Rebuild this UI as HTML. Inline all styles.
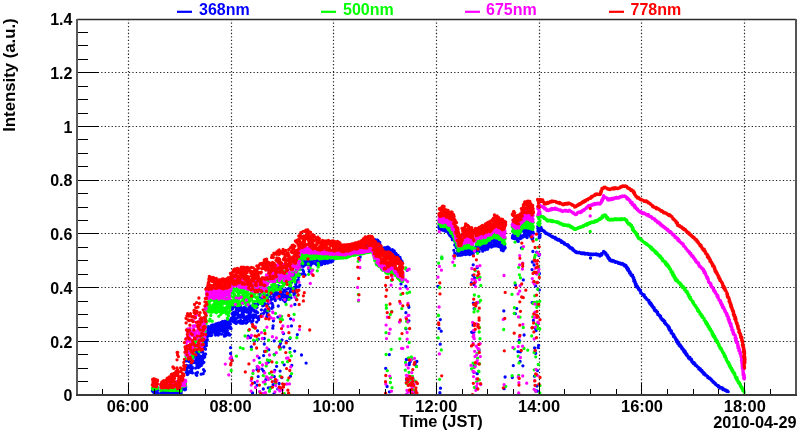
<!DOCTYPE html>
<html><head><meta charset="utf-8"><title>Intensity</title>
<style>html,body{margin:0;padding:0;background:#fff;width:800px;height:434px;overflow:hidden}svg{display:block}</style>
</head><body>
<svg width="800" height="434" viewBox="0 0 800 434">
<rect width="800" height="434" fill="#fff"/>
<path d="M128.5 19V395M231.5 19V395M333.5 19V395M436.5 19V395M539.5 19V395M641.5 19V395M744.5 19V395M77 341.5H796M77 287.5H796M77 233.5H796M77 180.5H796M77 126.5H796M77 72.5H796" stroke="#262626" stroke-width="1.2" stroke-dasharray="1.3 2.16" fill="none"/>
<clipPath id="c"><rect x="78" y="20" width="717" height="374"/></clipPath>
<g fill="none" stroke-width="3.3" stroke-linecap="round" clip-path="url(#c)">
<path stroke="#0000ff" d="M152.5 390.0h0M152.7 391.0h0M152.4 390.7h0M153.0 390.6h0M152.8 391.5h0M153.0 390.6h0M153.5 391.2h0M153.7 390.3h0M153.7 391.4h0M154.0 390.5h0M154.1 390.7h0M153.9 390.1h0M154.4 393.4h0M154.7 392.6h0M154.3 393.3h0M155.2 392.7h0M154.8 390.3h0M155.0 393.1h0M155.5 392.6h0M155.4 391.8h0M155.6 392.9h0M156.2 390.8h0M156.2 390.8h0M156.2 391.9h0M156.3 392.1h0M156.5 393.4h0M156.3 390.6h0M157.2 392.9h0M156.8 390.8h0M157.0 390.5h0M157.4 390.2h0M157.6 390.3h0M157.7 393.2h0M161.1 393.1h0M160.9 392.9h0M161.1 390.6h0M161.5 390.6h0M161.4 392.9h0M161.3 392.2h0M161.8 390.8h0M162.2 390.8h0M161.8 393.3h0M162.4 391.1h0M162.3 392.0h0M162.3 391.2h0M162.9 392.7h0M162.8 392.3h0M162.9 393.5h0M163.7 393.3h0M163.7 392.2h0M163.7 392.4h0M163.8 392.7h0M164.2 390.5h0M163.8 392.9h0M164.6 392.2h0M164.3 391.3h0M164.4 393.4h0M164.9 391.6h0M165.1 392.5h0M165.0 392.5h0M165.7 393.2h0M165.3 390.6h0M165.7 393.2h0M165.9 391.7h0M166.1 391.8h0M165.8 391.2h0M166.4 392.2h0M166.3 392.7h0M166.7 391.7h0M167.0 392.4h0M167.1 392.4h0M167.0 392.7h0M167.3 393.3h0M167.7 392.6h0M167.4 392.4h0M167.8 391.7h0M167.9 392.2h0M167.9 390.8h0M168.6 391.3h0M168.5 390.5h0M168.5 392.9h0M169.1 391.5h0M168.8 392.3h0M168.9 391.4h0M169.4 391.7h0M169.6 391.7h0M169.6 392.7h0M170.2 392.2h0M170.2 392.0h0M170.0 392.5h0M170.7 392.6h0M170.7 391.0h0M170.5 392.6h0M171.1 393.0h0M170.9 391.4h0M171.0 391.7h0M171.3 391.7h0M171.6 392.7h0M171.4 392.4h0M172.1 391.0h0M171.8 391.0h0M172.1 393.2h0M172.4 391.4h0M172.6 391.4h0M172.3 391.2h0M173.1 391.9h0M172.9 391.7h0M172.8 392.8h0M173.4 392.6h0M173.5 393.2h0M173.6 390.9h0M174.0 390.5h0M174.1 391.2h0M174.2 391.2h0M174.5 392.0h0M174.7 392.3h0M174.7 391.5h0M174.8 391.1h0M174.8 392.6h0M175.1 392.8h0M175.6 390.9h0M175.3 392.5h0M175.3 391.5h0M176.0 392.5h0M176.1 393.3h0M176.2 391.4h0M176.4 390.6h0M176.3 391.8h0M176.6 391.2h0M176.8 392.6h0M177.1 392.0h0M176.8 391.1h0M177.4 393.1h0M177.7 390.6h0M177.7 393.2h0M178.1 391.2h0M178.2 392.9h0M177.8 390.6h0M178.4 392.2h0M178.3 393.4h0M178.6 392.1h0M179.0 390.8h0M179.1 392.7h0M178.8 392.9h0M179.4 393.3h0M179.4 391.1h0M179.3 391.5h0M179.8 391.0h0M180.0 392.2h0M180.0 390.9h0M180.3 390.9h0M180.7 390.9h0M180.6 392.2h0M181.1 393.3h0M180.9 392.6h0M181.0 391.6h0M181.5 389.0h0M181.3 391.5h0M181.6 388.8h0M182.2 386.7h0M182.1 388.3h0M182.1 387.6h0M182.7 388.9h0M182.5 386.5h0M182.4 386.5h0M183.0 389.2h0M183.1 388.5h0M183.0 387.1h0M183.7 388.7h0M183.6 388.2h0M183.6 388.4h0M183.9 387.5h0M183.9 387.2h0M184.2 388.8h0M184.6 387.8h0M184.5 386.4h0M184.5 388.4h0M184.9 388.0h0M185.2 389.7h0M184.8 389.8h0M185.6 389.2h0M185.7 386.8h0M185.3 388.6h0M186.0 360.5h0M185.9 360.9h0M186.2 372.3h0M186.6 365.4h0M186.5 369.7h0M186.7 369.3h0M187.2 367.1h0M187.2 367.1h0M187.0 371.4h0M187.5 371.9h0M187.4 374.5h0M187.6 358.9h0M188.1 360.8h0M187.8 357.6h0M188.0 374.0h0M188.4 365.9h0M188.5 358.4h0M188.6 361.1h0M188.8 372.0h0M189.1 355.9h0M189.0 361.4h0M189.6 361.3h0M189.6 355.9h0M189.7 367.9h0M189.9 371.4h0M190.1 361.3h0M189.8 367.8h0M190.5 372.3h0M190.3 371.6h0M190.7 359.1h0M190.9 367.3h0M190.9 364.7h0M191.0 362.9h0M191.3 360.7h0M191.7 371.0h0M191.3 368.9h0M192.2 367.2h0M192.2 366.8h0M192.0 363.0h0M192.5 368.2h0M192.7 358.0h0M192.4 372.9h0M193.1 361.2h0M193.0 356.3h0M192.8 355.8h0M193.7 353.0h0M193.4 357.2h0M193.6 351.6h0M193.8 349.1h0M194.0 353.5h0M193.8 351.9h0M194.4 362.4h0M194.6 345.5h0M194.7 347.6h0M194.9 355.1h0M194.8 347.6h0M195.1 361.4h0M195.6 368.1h0M195.7 352.2h0M195.6 360.7h0M195.9 363.1h0M196.2 359.1h0M196.1 351.7h0M196.7 352.8h0M196.4 358.4h0M196.6 356.1h0M197.2 362.9h0M197.0 365.9h0M197.0 354.2h0M197.7 352.4h0M197.3 365.2h0M197.6 352.6h0M198.2 361.0h0M198.0 357.5h0M198.2 357.7h0M198.3 355.3h0M198.4 367.5h0M198.5 354.4h0M199.1 362.9h0M198.8 360.9h0M199.2 358.6h0M199.4 366.8h0M199.3 356.5h0M199.3 358.0h0M200.0 365.6h0M199.8 355.9h0M199.9 347.5h0M200.7 360.1h0M200.4 357.4h0M200.5 346.4h0M200.9 345.8h0M200.8 364.7h0M201.1 351.9h0M201.3 365.4h0M201.3 350.7h0M201.7 358.3h0M202.0 363.0h0M202.2 358.3h0M202.2 346.6h0M202.5 360.8h0M202.7 356.0h0M202.6 351.7h0M203.1 358.3h0M203.2 357.1h0M202.8 363.2h0M203.5 345.8h0M203.7 354.3h0M203.3 347.4h0M203.9 362.3h0M204.2 341.3h0M204.1 348.2h0M204.5 355.9h0M204.4 345.2h0M204.7 357.0h0M205.2 353.8h0M205.2 354.1h0M205.1 343.0h0M205.6 354.1h0M205.5 349.2h0M205.3 343.6h0M206.0 345.5h0M206.0 335.4h0M206.2 340.4h0M206.3 343.5h0M206.4 345.6h0M206.3 342.0h0M207.1 337.2h0M206.8 333.6h0M207.0 330.1h0M207.3 334.3h0M207.4 339.8h0M207.4 331.1h0M208.1 327.3h0M207.8 326.8h0M208.2 335.4h0M208.3 328.8h0M208.6 326.6h0M208.3 327.9h0M209.1 328.3h0M209.1 327.5h0M209.1 332.6h0M209.6 327.4h0M209.5 328.2h0M209.4 329.0h0M210.2 327.4h0M209.9 333.5h0M209.8 333.5h0M210.7 331.8h0M210.7 330.0h0M210.6 335.7h0M211.0 329.9h0M211.2 332.5h0M211.0 329.3h0M211.6 335.3h0M211.5 329.9h0M211.5 325.3h0M212.2 332.6h0M212.1 332.3h0M212.2 329.4h0M212.5 327.1h0M212.5 331.7h0M212.5 326.7h0M212.9 324.8h0M213.0 330.7h0M212.9 331.8h0M213.4 329.4h0M213.4 330.1h0M213.4 326.6h0M214.0 331.2h0M214.0 326.5h0M214.0 331.9h0M214.4 325.1h0M214.7 327.7h0M214.5 329.4h0M215.0 327.2h0M214.8 331.7h0M215.1 334.4h0M215.5 333.4h0M215.5 335.0h0M215.3 326.9h0M216.1 328.2h0M216.0 333.7h0M215.9 324.0h0M216.3 330.4h0M216.7 325.9h0M216.5 328.1h0M217.0 332.9h0M217.2 330.0h0M217.0 334.0h0M217.5 326.5h0M217.5 331.0h0M217.4 332.0h0M217.9 323.4h0M218.1 333.8h0M218.2 335.0h0M218.3 335.0h0M218.7 333.9h0M218.3 331.1h0M218.8 334.1h0M218.9 323.1h0M219.0 331.4h0M219.5 327.7h0M219.3 331.8h0M219.3 329.9h0M219.8 328.2h0M220.0 325.4h0M220.1 325.5h0M220.7 327.4h0M220.6 328.2h0M220.4 323.2h0M221.1 322.5h0M221.0 327.5h0M220.9 325.3h0M221.5 334.2h0M221.6 326.0h0M221.5 330.6h0M222.1 330.6h0M221.8 323.6h0M222.1 325.3h0M222.5 322.2h0M222.5 325.6h0M222.3 321.7h0M222.9 329.0h0M223.1 321.8h0M223.0 326.3h0M223.6 331.7h0M223.3 324.9h0M223.7 331.2h0M223.8 329.3h0M223.9 323.4h0M224.0 329.1h0M224.6 334.6h0M224.4 336.2h0M224.4 330.9h0M224.9 327.8h0M225.1 332.4h0M224.8 321.1h0M225.4 325.7h0M225.5 335.7h0M225.4 324.3h0M226.0 325.9h0M226.0 329.0h0M225.8 332.7h0M226.6 332.7h0M226.5 323.3h0M226.6 334.7h0M227.2 332.2h0M226.8 325.1h0M227.1 320.9h0M227.4 326.6h0M227.6 320.6h0M227.4 330.8h0M227.8 325.2h0M228.1 327.9h0M228.1 324.2h0M228.6 322.4h0M228.6 333.4h0M228.3 324.5h0M228.9 334.9h0M228.8 326.6h0M229.2 321.0h0M229.7 320.3h0M229.5 327.1h0M229.6 324.1h0M230.0 334.6h0M229.8 335.1h0M229.8 321.9h0M230.4 328.4h0M230.4 327.1h0M230.3 324.0h0M230.8 320.3h0M231.1 328.6h0M231.0 318.5h0M232.1 307.9h0M232.1 313.7h0M232.2 307.9h0M232.4 306.7h0M232.7 317.6h0M232.4 309.0h0M233.2 312.6h0M232.8 314.8h0M232.9 321.4h0M233.3 320.3h0M233.7 306.9h0M233.6 319.6h0M234.1 322.2h0M234.0 318.0h0M234.0 314.1h0M234.3 315.9h0M234.5 312.2h0M234.6 322.5h0M235.0 312.7h0M235.0 319.6h0M234.9 321.2h0M235.6 318.8h0M235.5 306.7h0M235.6 321.9h0M236.1 321.4h0M235.8 314.0h0M236.1 323.4h0M236.3 309.2h0M236.4 310.1h0M236.6 313.1h0M237.2 318.1h0M237.1 322.4h0M237.2 305.8h0M237.5 317.5h0M237.6 322.3h0M237.4 314.6h0M238.2 308.6h0M237.8 313.1h0M237.8 305.7h0M238.4 317.1h0M238.6 321.3h0M238.4 310.3h0M239.2 306.0h0M239.0 307.5h0M239.1 307.1h0M239.7 310.4h0M239.7 316.8h0M239.6 308.7h0M240.1 317.2h0M240.0 315.3h0M240.0 320.8h0M240.7 320.3h0M240.5 306.6h0M240.6 323.2h0M240.9 307.2h0M240.8 306.3h0M241.0 308.4h0M241.7 321.5h0M241.7 314.7h0M241.5 317.2h0M242.0 315.2h0M241.8 314.9h0M242.0 308.6h0M242.3 312.7h0M242.7 323.3h0M242.6 310.6h0M242.9 321.9h0M242.9 315.7h0M243.1 309.7h0M243.7 309.0h0M243.7 317.6h0M243.5 315.2h0M244.2 320.4h0M243.8 310.2h0M243.8 312.2h0M244.6 311.5h0M244.5 307.2h0M244.4 310.4h0M244.9 317.5h0M245.1 309.9h0M245.2 310.7h0M245.7 317.5h0M245.5 318.7h0M245.6 308.3h0M246.2 310.7h0M245.8 323.2h0M246.2 316.9h0M246.3 304.5h0M246.6 317.6h0M246.7 322.7h0M247.1 320.0h0M246.9 312.2h0M247.1 310.3h0M247.6 321.6h0M247.5 321.7h0M247.6 309.5h0M247.8 310.7h0M248.0 315.8h0M247.8 317.9h0M248.4 312.1h0M248.3 318.5h0M248.4 308.6h0M249.2 311.2h0M249.2 305.8h0M249.0 317.4h0M249.6 313.9h0M249.3 315.5h0M249.7 310.6h0M250.0 318.0h0M249.9 317.7h0M250.0 308.1h0M250.5 306.1h0M250.3 313.5h0M250.4 320.9h0M250.8 311.9h0M251.1 316.4h0M251.1 316.5h0M251.2 309.5h0M251.0 306.5h0M251.6 315.6h0M251.7 306.8h0M252.0 309.5h0M252.0 323.1h0M252.4 306.3h0M252.5 309.2h0M253.1 318.1h0M252.9 320.7h0M253.4 303.9h0M253.3 314.9h0M254.1 317.6h0M253.8 310.5h0M254.7 315.4h0M254.6 304.9h0M255.2 304.8h0M254.8 311.7h0M255.6 314.8h0M255.5 304.6h0M256.0 310.8h0M255.8 306.0h0M256.4 316.4h0M256.7 322.1h0M257.0 307.3h0M257.2 317.7h0M257.7 304.6h0M257.7 312.6h0M258.1 303.6h0M258.2 301.5h0M258.6 319.8h0M258.7 302.6h0M259.2 317.3h0M259.2 316.3h0M259.7 301.6h0M259.4 302.1h0M260.0 300.1h0M260.2 316.2h0M260.4 301.5h0M260.3 300.3h0M260.9 302.4h0M261.1 296.1h0M261.5 314.2h0M261.4 309.8h0M261.9 315.9h0M262.0 302.7h0M262.7 305.8h0M262.4 297.6h0M262.8 300.2h0M262.8 314.3h0M263.7 313.2h0M263.5 300.8h0M263.9 294.7h0M263.9 299.1h0M264.5 295.5h0M264.5 303.4h0M264.8 305.0h0M265.2 309.6h0M265.5 296.1h0M265.6 295.9h0M266.2 296.5h0M265.8 309.3h0M266.4 296.2h0M266.6 298.8h0M266.9 311.9h0M267.2 313.8h0M267.5 297.9h0M267.5 298.7h0M268.2 294.7h0M268.2 307.7h0M268.4 307.1h0M268.6 307.5h0M269.0 291.1h0M269.0 310.9h0M269.7 295.0h0M269.6 288.0h0M270.1 301.0h0M269.9 293.5h0M270.3 292.4h0M270.5 296.8h0M270.8 302.8h0M270.8 290.6h0M271.4 290.2h0M271.7 308.4h0M272.0 293.6h0M272.2 303.4h0M272.6 306.7h0M272.3 299.1h0M272.9 307.2h0M272.8 305.4h0M273.7 286.2h0M273.7 296.3h0M274.2 295.1h0M274.2 291.7h0M274.3 298.3h0M274.7 290.0h0M275.1 289.8h0M274.9 297.5h0M275.6 294.7h0M275.7 298.2h0M275.8 297.1h0M275.8 288.8h0M276.5 292.3h0M276.6 292.3h0M277.2 295.2h0M277.0 296.6h0M277.5 294.6h0M277.3 286.0h0M277.9 287.5h0M277.8 297.9h0M278.5 285.8h0M278.6 286.1h0M278.9 286.4h0M279.1 293.2h0M279.3 297.6h0M279.3 287.5h0M279.8 294.8h0M280.0 287.0h0M280.7 290.1h0M280.3 299.3h0M281.0 291.4h0M281.1 291.6h0M281.5 281.5h0M281.6 293.1h0M282.1 281.6h0M282.0 288.1h0M282.5 296.0h0M282.4 296.9h0M283.1 281.4h0M283.2 294.2h0M283.4 300.1h0M283.3 292.8h0M284.2 296.0h0M284.2 290.5h0M284.7 280.0h0M284.7 283.4h0M285.1 301.8h0M285.0 298.4h0M285.6 298.2h0M285.3 289.8h0M286.1 295.2h0M286.2 282.4h0M286.5 292.5h0M286.4 299.5h0M287.0 279.3h0M287.1 295.2h0M287.6 288.9h0M287.5 297.5h0M288.1 293.8h0M288.2 279.5h0M288.6 297.2h0M288.6 299.3h0M288.9 294.6h0M289.1 294.4h0M289.5 287.8h0M289.7 281.5h0M289.9 280.1h0M290.2 296.1h0M290.4 285.0h0M290.6 290.8h0M291.0 297.8h0M291.0 276.9h0M291.4 282.6h0M291.3 289.3h0M292.0 290.6h0M292.2 278.5h0M292.4 288.5h0M292.6 289.7h0M292.8 291.7h0M292.9 273.6h0M293.7 274.0h0M293.7 276.5h0M293.9 293.8h0M294.1 294.9h0M294.3 287.3h0M294.5 276.8h0M295.0 289.9h0M295.0 293.2h0M295.7 284.2h0M295.3 271.8h0M296.0 289.5h0M296.2 286.5h0M296.3 291.0h0M296.5 270.3h0M297.1 291.3h0M296.9 281.6h0M297.6 281.8h0M297.4 280.3h0M298.2 279.8h0M297.8 280.3h0M298.6 266.2h0M298.7 277.1h0M298.9 269.6h0M298.8 286.9h0M299.7 274.2h0M299.7 268.9h0M299.8 285.2h0M300.1 267.1h0M230.6 347.7h0M232.1 360.4h0M230.6 353.5h0M231.5 358.6h0M197.5 372.4h0M203.2 373.7h0M201.1 374.2h0M196.2 374.7h0M195.7 373.3h0M204.4 371.0h0M196.8 375.3h0M203.5 369.6h0M289.5 273.8h0M271.3 287.9h0M264.5 284.2h0M267.8 288.3h0M259.7 294.4h0M260.1 296.8h0M299.8 263.1h0M300.0 265.7h0M299.9 262.0h0M300.3 261.4h0M300.4 257.9h0M300.7 255.1h0M301.1 258.4h0M301.1 261.6h0M300.8 257.7h0M301.7 265.6h0M301.3 261.9h0M301.5 257.9h0M302.2 256.4h0M302.1 255.6h0M301.8 255.2h0M302.3 265.8h0M302.6 265.2h0M302.7 255.5h0M303.2 258.5h0M302.8 263.4h0M302.8 258.7h0M303.6 261.8h0M303.6 263.9h0M303.6 254.9h0M304.0 258.8h0M304.0 261.7h0M303.9 264.2h0M304.3 256.8h0M304.6 265.2h0M304.3 262.0h0M305.1 258.5h0M305.2 261.6h0M305.0 256.3h0M305.5 259.8h0M305.7 260.9h0M305.6 263.5h0M306.2 256.9h0M305.9 263.5h0M305.9 256.7h0M306.3 260.2h0M306.5 256.8h0M306.7 256.1h0M306.9 256.6h0M306.9 264.6h0M307.2 256.0h0M307.4 254.9h0M307.6 261.3h0M307.6 259.7h0M307.8 257.7h0M308.2 258.2h0M308.1 262.3h0M308.7 260.4h0M308.4 263.6h0M308.4 264.4h0M309.1 257.7h0M308.8 259.8h0M308.9 257.0h0M309.3 255.6h0M309.7 265.2h0M309.6 258.0h0M309.8 263.6h0M310.0 264.1h0M310.0 260.2h0M310.3 262.2h0M310.5 254.5h0M310.5 265.4h0M310.9 260.1h0M311.0 262.2h0M310.8 265.0h0M311.4 263.6h0M311.5 261.8h0M311.3 258.8h0M311.9 256.3h0M311.8 258.1h0M312.1 254.6h0M312.6 262.1h0M312.3 263.4h0M312.6 261.9h0M313.2 261.1h0M312.8 260.7h0M313.0 258.1h0M313.6 254.4h0M313.6 254.4h0M313.4 254.9h0M314.0 256.9h0M314.1 259.0h0M314.1 256.3h0M314.3 256.7h0M314.5 260.1h0M314.7 255.7h0M315.2 263.6h0M315.2 254.8h0M315.1 254.8h0M315.7 255.9h0M315.5 258.0h0M315.3 259.5h0M316.0 255.7h0M315.8 254.7h0M315.9 264.0h0M316.3 259.5h0M316.5 258.7h0M316.7 258.1h0M316.9 265.0h0M316.8 262.3h0M317.1 261.0h0M317.5 258.7h0M317.4 260.7h0M317.4 261.2h0M318.1 260.8h0M318.0 254.9h0M318.0 258.8h0M318.4 258.2h0M318.4 260.6h0M318.6 262.0h0M319.1 254.5h0M319.2 262.3h0M318.9 264.1h0M319.7 256.0h0M319.3 254.8h0M319.7 254.6h0M320.1 258.7h0M320.0 257.2h0M320.1 264.8h0M320.5 258.8h0M320.5 259.9h0M320.5 257.5h0M321.1 259.3h0M320.9 259.4h0M321.1 261.4h0M321.5 264.7h0M321.3 259.3h0M321.4 264.3h0M322.2 259.1h0M322.2 263.0h0M322.0 260.8h0M322.7 256.9h0M322.6 255.8h0M322.6 261.7h0M322.9 260.5h0M323.1 259.9h0M323.0 256.4h0M323.7 262.8h0M323.5 256.5h0M323.3 263.0h0M324.2 260.8h0M323.8 258.0h0M324.0 257.0h0M324.3 261.1h0M324.7 256.4h0M324.5 263.6h0M324.8 257.2h0M324.8 263.7h0M324.9 255.8h0M325.5 258.7h0M325.7 256.7h0M325.4 256.7h0M326.1 256.3h0M326.0 259.3h0M326.2 262.1h0M326.5 255.5h0M326.6 257.6h0M326.7 258.2h0M326.8 259.6h0M327.2 262.5h0M327.2 260.9h0M327.3 258.4h0M327.7 256.7h0M327.6 263.1h0M328.0 258.8h0M327.8 261.8h0M327.9 256.4h0M328.4 258.2h0M328.3 262.8h0M328.7 258.5h0M329.2 258.5h0M328.9 256.6h0M329.2 255.8h0M329.4 260.4h0M329.5 261.8h0M329.6 258.7h0M330.2 260.4h0M330.0 260.9h0M329.9 257.1h0M330.6 257.9h0M330.7 256.3h0M330.4 261.4h0M330.8 257.7h0M331.1 259.7h0M331.1 262.0h0M331.5 256.4h0M331.6 257.7h0M331.6 256.2h0M332.0 257.1h0M331.8 256.1h0M332.0 255.5h0M332.7 261.0h0M332.3 255.1h0M332.3 260.6h0M332.8 258.1h0M332.9 257.0h0M333.2 259.2h0M333.7 257.9h0M333.6 256.4h0M333.7 258.5h0M334.1 253.9h0M334.2 258.9h0M334.0 255.4h0M334.5 254.5h0M334.6 256.8h0M334.5 256.2h0M334.8 258.5h0M334.8 254.9h0M334.9 256.2h0M335.6 253.6h0M335.4 255.8h0M335.6 255.4h0M336.2 254.7h0M336.0 254.8h0M335.9 251.9h0M336.5 256.1h0M336.5 253.5h0M336.5 252.1h0M336.8 255.9h0M336.8 252.2h0M336.9 255.6h0M337.7 255.6h0M337.6 255.4h0M337.5 255.5h0M338.0 252.8h0M338.2 252.1h0M338.0 250.4h0M338.6 254.8h0M338.4 254.1h0M338.6 254.2h0M338.9 249.1h0M339.1 252.6h0M339.1 249.1h0M339.7 248.6h0M339.5 251.1h0M339.5 251.7h0M340.1 252.8h0M340.2 249.7h0M340.0 250.8h0M340.6 253.3h0M340.7 251.7h0M340.3 248.5h0M341.2 252.6h0M340.9 251.6h0M340.9 252.4h0M341.5 253.1h0M341.7 251.9h0M341.5 252.5h0M342.2 249.6h0M341.9 248.6h0M342.1 248.8h0M342.6 253.2h0M342.6 248.2h0M342.5 248.1h0M343.0 248.1h0M343.0 251.5h0M342.9 249.5h0M343.3 248.2h0M343.7 252.6h0M343.6 247.9h0M344.1 250.5h0M344.1 252.8h0M343.8 248.7h0M344.5 247.8h0M344.6 248.5h0M344.3 248.1h0M345.0 252.3h0M345.0 249.3h0M345.2 251.8h0M345.4 251.1h0M345.7 250.5h0M345.7 249.9h0M346.1 249.5h0M346.1 247.3h0M345.9 248.2h0M346.5 249.3h0M346.7 250.1h0M346.6 250.6h0M347.0 250.3h0M347.2 247.3h0M346.9 251.1h0M347.4 246.7h0M347.5 251.9h0M347.3 251.8h0M348.0 248.4h0M348.1 245.7h0M348.0 249.0h0M348.6 251.7h0M348.7 251.6h0M348.4 251.5h0M348.9 245.9h0M349.2 249.0h0M348.8 251.2h0M349.3 250.4h0M349.4 250.2h0M349.3 250.1h0M350.2 246.9h0M349.8 248.7h0M350.0 249.6h0M350.4 249.4h0M350.7 244.9h0M350.3 251.5h0M350.9 247.5h0M350.9 251.0h0M351.2 246.7h0M351.6 245.4h0M351.5 249.9h0M351.5 248.3h0M352.0 249.2h0M351.8 244.8h0M352.0 247.7h0M352.5 250.3h0M352.5 248.1h0M352.7 246.6h0M353.1 246.4h0M353.2 250.0h0M353.0 249.1h0M353.4 244.6h0M353.4 249.6h0M353.7 246.4h0M353.9 251.1h0M354.2 248.7h0M353.8 249.5h0M354.5 244.7h0M354.3 250.1h0M354.4 247.9h0M355.1 248.8h0M355.0 245.6h0M354.9 246.2h0M355.6 250.5h0M355.4 246.5h0M355.7 250.1h0M355.8 246.2h0M355.9 247.8h0M356.2 247.6h0M356.6 247.4h0M356.4 248.7h0M356.5 243.7h0M357.1 244.2h0M357.1 248.5h0M357.2 247.8h0M357.3 249.5h0M357.6 249.3h0M357.5 247.6h0M358.0 250.1h0M358.1 246.1h0M357.8 243.9h0M358.4 246.0h0M358.7 248.0h0M358.3 250.3h0M358.9 243.8h0M358.9 245.1h0M359.2 248.2h0M359.4 243.6h0M359.5 244.1h0M359.3 249.1h0M360.0 249.1h0M360.1 245.4h0M360.1 248.6h0M360.7 248.3h0M360.5 246.8h0M360.6 246.9h0M361.0 242.8h0M361.1 243.4h0M361.0 243.1h0M361.6 245.5h0M361.6 246.6h0M361.4 243.9h0M362.0 241.7h0M361.8 242.6h0M362.0 248.2h0M362.3 241.9h0M362.5 245.3h0M362.3 245.4h0M363.0 242.7h0M362.9 244.7h0M363.1 246.2h0M363.6 246.0h0M363.3 246.9h0M363.3 242.3h0M364.0 241.4h0M364.1 245.3h0M364.2 246.8h0M364.6 243.2h0M364.4 247.6h0M364.5 247.8h0M364.9 246.1h0M365.2 241.2h0M365.1 244.7h0M365.5 245.3h0M365.4 246.7h0M365.7 241.2h0M366.0 246.0h0M366.2 242.2h0M365.8 245.1h0M366.6 243.3h0M366.7 241.1h0M366.7 246.8h0M366.8 246.4h0M367.2 245.1h0M367.1 246.1h0M367.6 240.4h0M367.7 243.1h0M367.4 241.3h0M368.1 244.6h0M368.2 245.4h0M367.8 240.5h0M368.7 242.4h0M368.3 243.0h0M368.3 242.2h0M369.1 242.0h0M368.9 244.6h0M369.2 244.7h0M369.4 242.3h0M369.7 243.0h0M369.3 241.5h0M370.0 242.0h0M370.2 243.6h0M370.1 242.7h0M370.6 239.8h0M370.4 239.6h0M370.7 239.8h0M370.9 240.1h0M370.9 244.4h0M371.1 242.9h0M371.7 240.0h0M371.4 243.2h0M371.6 242.6h0M371.9 239.8h0M372.0 242.3h0M371.8 244.0h0M372.6 239.6h0M372.5 243.3h0M372.4 242.4h0M372.8 239.5h0M372.9 240.0h0M373.1 241.4h0M373.3 243.6h0M373.6 240.0h0M373.4 243.8h0M373.8 239.5h0M373.9 243.4h0M374.1 239.3h0M374.3 241.6h0M374.5 242.4h0M374.4 242.3h0M374.9 240.4h0M374.8 243.8h0M375.1 241.0h0M375.6 242.1h0M375.5 239.8h0M375.6 240.9h0M376.0 241.3h0M375.9 242.5h0M376.1 242.9h0M376.5 243.0h0M376.3 240.4h0M376.3 243.4h0M377.2 241.5h0M376.8 241.4h0M377.1 241.9h0M377.5 240.1h0M377.6 240.1h0M377.7 243.1h0M377.9 241.0h0M378.2 241.0h0M377.9 241.2h0M378.7 244.6h0M378.6 243.5h0M378.5 243.0h0M378.9 244.7h0M379.2 243.1h0M379.0 243.0h0M379.7 242.7h0M379.3 242.3h0M379.7 244.2h0M379.8 242.4h0M379.8 244.7h0M380.2 244.8h0M380.7 246.5h0M380.5 246.5h0M380.7 245.9h0M380.9 247.8h0M380.9 249.3h0M381.2 249.7h0M381.4 249.8h0M381.7 249.6h0M381.5 249.7h0M381.8 249.1h0M382.2 251.5h0M381.8 250.3h0M382.7 249.8h0M382.4 249.8h0M382.4 251.9h0M382.8 249.8h0M383.1 250.6h0M383.1 249.9h0M383.3 248.6h0M383.3 248.2h0M383.3 250.9h0M383.9 250.3h0M383.9 248.0h0M383.9 249.2h0M384.6 250.6h0M384.5 248.0h0M384.6 250.7h0M384.9 247.8h0M385.1 249.0h0M385.2 249.6h0M385.3 250.0h0M385.3 251.3h0M385.5 250.2h0M386.2 247.6h0M386.2 249.1h0M386.0 248.9h0M386.4 251.6h0M386.5 247.9h0M386.4 248.2h0M387.1 248.1h0M387.2 250.0h0M386.9 251.2h0M387.7 248.2h0M387.5 251.8h0M387.3 247.2h0M388.0 250.9h0M388.0 250.8h0M388.0 247.2h0M388.4 248.9h0M388.3 247.4h0M388.6 248.1h0M388.9 251.7h0M388.8 252.1h0M389.2 248.1h0M389.5 250.7h0M389.7 249.3h0M389.3 250.4h0M389.8 250.5h0M390.1 252.6h0M389.9 249.6h0M390.7 252.3h0M390.6 250.3h0M390.5 251.9h0M390.8 250.7h0M391.1 253.4h0M390.9 254.0h0M391.5 250.7h0M391.3 251.6h0M391.6 252.2h0M391.9 249.8h0M392.2 254.6h0M391.9 252.5h0M392.6 250.8h0M392.4 249.7h0M392.5 250.1h0M393.0 252.0h0M392.8 253.4h0M393.2 253.1h0M393.6 255.1h0M393.4 255.0h0M393.4 252.8h0M394.1 254.2h0M394.2 250.8h0M394.0 253.9h0M394.4 254.3h0M394.7 255.9h0M394.4 255.8h0M395.1 253.1h0M394.8 254.5h0M394.9 256.4h0M395.7 254.1h0M395.5 253.5h0M395.4 254.6h0M396.2 257.1h0M396.1 255.8h0M395.9 253.4h0M396.6 255.7h0M396.6 257.1h0M396.4 254.4h0M397.0 255.1h0M397.0 255.6h0M397.1 257.6h0M397.4 256.7h0M397.6 257.4h0M397.7 258.7h0M398.1 258.6h0M397.9 256.7h0M398.0 255.3h0M398.5 257.2h0M398.3 259.7h0M398.5 258.4h0M398.9 258.2h0M398.9 259.9h0M398.8 258.6h0M399.7 260.1h0M399.3 258.7h0M399.4 259.4h0M400.0 257.5h0M400.0 260.1h0M400.1 258.3h0M400.3 259.3h0M400.3 259.9h0M400.6 259.6h0M401.1 261.3h0M400.9 262.0h0M401.1 263.6h0M401.5 260.9h0M401.5 263.4h0M401.6 261.7h0M401.8 264.0h0M402.0 261.4h0M402.0 262.8h0M391.5 280.1h0M401.0 283.9h0M272.8 328.2h0M274.8 295.0h0M275.3 300.5h0M289.8 338.5h0M290.5 291.0h0M291.5 325.9h0M296.4 299.6h0M278.3 306.0h0M297.3 334.6h0M272.0 308.2h0M289.8 292.3h0M268.2 303.5h0M267.7 304.1h0M274.2 340.9h0M273.4 320.8h0M281.7 296.1h0M294.9 304.4h0M271.5 299.2h0M266.8 316.5h0M265.7 311.1h0M264.6 310.6h0M283.5 333.6h0M277.9 317.1h0M257.6 330.8h0M250.4 337.7h0M248.2 336.2h0M277.8 388.9h0M280.3 347.6h0M280.6 343.3h0M258.6 369.8h0M286.6 341.3h0M274.8 370.3h0M279.1 383.5h0M251.3 346.9h0M259.1 357.8h0M263.3 389.0h0M252.5 392.9h0M274.9 380.9h0M257.1 385.2h0M270.3 387.7h0M279.6 345.8h0M263.6 355.6h0M280.1 371.1h0M284.2 364.8h0M264.6 351.5h0M274.3 354.5h0M257.0 369.6h0M289.9 348.3h0M263.5 371.2h0M282.0 339.8h0M268.5 362.0h0M268.8 349.7h0M276.6 366.3h0M262.0 369.1h0M290.5 376.2h0M291.8 365.3h0M257.2 366.6h0M264.3 344.0h0M283.8 347.0h0M254.4 341.2h0M264.3 338.5h0M273.1 325.8h0M259.5 303.2h0M258.3 339.2h0M268.3 387.8h0M273.1 384.7h0M275.5 383.0h0M274.0 393.8h0M281.8 377.7h0M258.2 376.6h0M265.9 379.4h0M254.6 382.6h0M274.3 376.6h0M294.7 351.1h0M290.6 318.8h0M301.5 355.0h0M306.1 363.1h0M309.2 271.4h0M305.1 275.0h0M360.2 257.0h0M303.8 273.3h0M303.5 271.3h0M302.7 269.8h0M300.1 262.9h0M303.3 266.4h0M301.9 274.1h0M308.7 268.6h0M319.8 262.7h0M385.7 368.3h0M387.1 386.5h0M389.5 391.8h0M389.3 354.6h0M408.4 376.9h0M406.0 328.8h0M407.1 270.3h0M408.9 307.3h0M409.3 363.4h0M405.8 286.2h0M406.6 379.7h0M408.9 320.8h0M406.0 286.9h0M408.5 305.6h0M408.0 359.0h0M405.9 312.7h0M409.3 364.5h0M414.1 392.0h0M416.3 366.2h0M415.0 364.0h0M412.5 393.8h0M409.7 377.3h0M415.9 361.9h0M413.2 392.7h0M416.9 361.5h0M410.3 361.6h0M406.3 359.5h0M440.3 319.6h0M439.9 392.7h0M440.2 344.2h0M441.2 331.2h0M441.8 257.8h0M438.1 286.5h0M439.1 328.4h0M440.5 388.2h0M454.8 253.2h0M453.8 250.3h0M471.7 332.2h0M472.8 332.7h0M472.9 275.3h0M474.1 308.6h0M474.2 366.0h0M479.0 350.2h0M474.0 365.9h0M476.6 387.6h0M471.4 283.0h0M473.1 325.2h0M474.0 372.4h0M477.2 373.7h0M474.6 278.0h0M474.0 332.1h0M476.9 303.0h0M477.2 267.7h0M473.3 303.1h0M473.2 264.8h0M474.0 284.5h0M504.1 388.7h0M505.1 377.0h0M503.8 310.9h0M520.4 351.8h0M523.3 279.9h0M512.3 377.5h0M513.3 365.6h0M521.4 248.0h0M515.3 313.7h0M515.4 285.0h0M520.1 361.5h0M516.7 308.6h0M524.1 335.0h0M518.0 351.6h0M522.9 365.8h0M519.2 340.4h0M537.5 370.6h0M539.3 236.9h0M533.4 320.4h0M532.9 251.5h0M539.1 237.9h0M532.1 302.6h0M539.9 237.3h0M539.6 254.5h0M534.1 265.0h0M532.3 262.0h0M536.5 390.8h0M535.3 328.3h0M536.7 252.2h0M535.2 353.1h0M536.1 330.6h0M535.2 350.8h0M536.9 386.0h0M532.0 269.6h0M534.6 348.0h0M539.5 273.6h0M534.5 376.2h0M536.4 304.1h0M539.3 289.9h0M538.9 255.4h0M534.5 259.8h0M537.1 324.5h0M537.4 391.2h0M535.7 285.9h0M535.7 353.3h0M538.6 345.4h0M538.1 347.6h0M439.0 225.4h0M438.9 227.4h0M438.9 227.1h0M439.4 225.1h0M439.4 228.8h0M439.7 227.0h0M440.0 228.6h0M440.2 228.3h0M440.0 228.0h0M440.5 226.3h0M440.5 229.0h0M440.3 224.7h0M440.8 229.5h0M441.0 226.9h0M441.1 228.6h0M441.6 229.7h0M441.4 226.8h0M441.3 225.4h0M441.9 227.9h0M441.8 228.9h0M442.2 225.0h0M442.7 226.6h0M442.7 225.7h0M442.5 225.7h0M443.2 228.6h0M442.8 225.6h0M442.9 230.3h0M443.5 225.6h0M443.6 228.9h0M443.4 228.3h0M444.1 227.1h0M443.9 225.7h0M444.2 229.7h0M444.4 227.0h0M444.5 228.2h0M444.3 228.3h0M445.1 231.1h0M445.0 230.9h0M445.2 231.2h0M445.4 225.7h0M445.4 231.3h0M445.5 226.7h0M445.9 226.7h0M446.1 228.7h0M445.9 228.9h0M446.5 228.7h0M446.6 226.0h0M446.6 228.6h0M447.1 228.8h0M446.9 229.4h0M447.1 231.3h0M447.4 229.3h0M447.3 227.7h0M447.4 230.2h0M448.2 229.0h0M448.0 228.5h0M448.0 228.7h0M448.4 228.7h0M448.6 230.9h0M448.4 233.3h0M449.2 230.7h0M448.9 232.1h0M449.0 229.6h0M449.7 230.8h0M449.4 231.8h0M449.7 235.3h0M449.9 232.0h0M449.8 233.0h0M450.2 232.7h0M450.4 231.6h0M450.5 231.0h0M450.5 233.9h0M451.2 231.0h0M451.1 236.8h0M451.1 235.5h0M451.7 236.3h0M451.7 232.3h0M451.4 235.1h0M451.9 232.4h0M452.1 233.2h0M452.2 237.9h0M452.3 235.9h0M452.3 239.7h0M452.3 234.8h0M452.9 236.1h0M453.1 234.0h0M453.1 238.7h0M453.5 237.0h0M453.6 234.5h0M453.3 236.9h0M453.9 237.3h0M453.8 234.8h0M454.1 239.9h0M454.6 236.3h0M454.5 240.0h0M454.3 238.9h0M454.8 245.0h0M455.1 238.9h0M454.8 241.2h0M455.6 241.7h0M455.3 240.9h0M455.7 242.0h0M456.2 247.6h0M456.0 242.9h0M456.0 245.2h0M456.5 244.7h0M456.4 243.6h0M456.4 244.1h0M457.1 246.2h0M457.2 244.9h0M456.8 247.3h0M457.4 250.8h0M457.3 254.2h0M457.5 253.8h0M457.8 251.1h0M457.8 255.3h0M457.9 254.1h0M458.6 255.2h0M458.5 248.5h0M458.7 254.1h0M459.1 253.7h0M458.8 249.4h0M459.1 247.6h0M459.7 250.9h0M459.7 247.9h0M459.3 251.8h0M460.1 248.1h0M460.1 249.9h0M460.0 252.2h0M460.4 249.5h0M460.5 252.4h0M460.3 255.2h0M461.0 255.0h0M461.1 251.5h0M461.0 246.7h0M461.3 252.4h0M461.7 253.5h0M461.6 250.3h0M462.0 249.7h0M461.9 250.6h0M461.9 249.8h0M462.4 254.8h0M462.5 247.6h0M462.3 250.1h0M463.0 249.2h0M462.8 254.2h0M463.0 247.2h0M463.7 249.1h0M463.3 245.7h0M463.7 246.4h0M464.2 254.1h0M464.2 246.9h0M464.1 252.8h0M464.3 247.1h0M464.5 254.1h0M464.5 252.5h0M464.9 251.0h0M464.9 249.0h0M464.8 245.6h0M465.7 253.0h0M465.4 254.6h0M465.4 253.1h0M466.1 252.3h0M465.9 249.1h0M466.2 247.2h0M466.6 253.0h0M466.6 251.0h0M466.7 247.3h0M467.2 253.9h0M467.0 251.0h0M466.8 245.1h0M467.3 254.0h0M467.4 248.5h0M467.4 252.2h0M468.0 250.2h0M467.8 248.5h0M467.9 246.9h0M468.7 250.6h0M468.5 246.1h0M468.4 247.7h0M469.0 246.5h0M468.8 248.4h0M469.1 251.3h0M469.7 254.5h0M469.5 251.2h0M469.4 248.4h0M469.8 247.8h0M470.1 252.7h0M470.1 253.2h0M470.7 246.9h0M470.5 253.5h0M470.7 247.0h0M471.0 253.9h0M471.2 252.4h0M471.1 252.1h0M471.5 250.9h0M471.6 253.8h0M471.7 251.7h0M471.9 248.6h0M472.2 250.9h0M472.0 248.3h0M472.5 250.6h0M472.4 250.5h0M472.5 248.0h0M473.0 250.9h0M472.8 248.7h0M473.2 253.4h0M475.8 246.9h0M476.1 247.8h0M476.0 246.5h0M476.4 251.6h0M476.5 247.9h0M476.5 246.1h0M476.8 245.5h0M476.8 250.0h0M477.1 250.4h0M477.6 245.6h0M477.6 248.0h0M477.6 243.2h0M477.9 250.7h0M478.1 248.3h0M478.0 250.3h0M478.6 243.9h0M478.6 243.5h0M478.6 249.1h0M479.0 251.6h0M478.9 244.6h0M479.1 244.4h0M479.7 244.3h0M479.6 244.2h0M479.7 247.1h0M480.0 243.2h0M479.8 248.1h0M480.1 248.4h0M480.6 246.7h0M480.4 243.7h0M480.6 247.7h0M480.9 244.7h0M480.9 245.4h0M481.2 246.4h0M481.7 243.8h0M481.3 245.2h0M481.7 249.2h0M482.2 250.2h0M481.9 242.9h0M482.2 245.0h0M482.4 245.6h0M482.7 251.2h0M482.4 244.4h0M482.8 244.5h0M482.9 245.7h0M482.9 250.5h0M483.3 248.5h0M483.6 243.2h0M483.5 248.8h0M484.2 249.7h0M483.8 246.9h0M483.8 244.9h0M484.3 243.3h0M484.6 249.6h0M484.4 244.4h0M485.1 249.1h0M485.2 242.5h0M485.2 249.8h0M485.7 245.1h0M485.4 246.0h0M485.3 244.2h0M486.1 244.7h0M486.2 247.0h0M485.9 246.0h0M486.7 243.0h0M486.7 245.8h0M486.4 247.7h0M487.2 241.3h0M487.1 247.2h0M487.1 248.6h0M487.3 243.8h0M487.6 249.2h0M487.6 242.2h0M488.1 248.0h0M487.9 244.4h0M488.1 244.8h0M488.3 246.7h0M488.3 244.4h0M488.4 240.7h0M489.0 241.3h0M488.9 242.1h0M489.0 246.4h0M489.6 241.4h0M489.7 243.7h0M489.5 244.8h0M490.2 242.6h0M489.8 243.9h0M489.9 244.0h0M490.6 242.2h0M490.5 240.3h0M490.6 244.6h0M491.1 244.5h0M490.8 238.6h0M491.2 239.5h0M491.4 247.0h0M491.3 240.1h0M491.6 246.1h0M491.8 238.7h0M492.0 245.0h0M491.8 238.0h0M492.4 246.6h0M492.5 238.7h0M492.7 236.9h0M492.8 240.8h0M492.8 236.9h0M492.9 237.6h0M493.5 245.8h0M493.7 242.0h0M493.3 240.0h0M493.8 243.9h0M494.1 245.9h0M493.8 243.8h0M494.7 236.8h0M494.3 242.8h0M494.6 243.3h0M495.2 241.1h0M494.9 241.0h0M494.9 241.3h0M495.3 235.0h0M495.6 242.6h0M495.7 243.5h0M496.2 240.0h0M496.1 237.3h0M496.1 241.9h0M496.6 236.1h0M496.6 245.4h0M496.4 245.9h0M496.8 238.0h0M496.8 239.3h0M497.2 236.5h0M497.3 237.3h0M497.3 239.4h0M497.7 239.7h0M498.0 242.2h0M498.2 241.7h0M498.2 246.3h0M498.5 238.3h0M498.7 240.6h0M498.4 242.6h0M498.9 243.3h0M499.1 239.1h0M498.9 241.6h0M499.5 246.7h0M499.5 241.5h0M499.4 239.6h0M499.8 243.0h0M499.8 241.3h0M499.9 241.4h0M500.3 244.6h0M500.4 246.1h0M500.4 244.6h0M501.1 240.9h0M500.9 241.6h0M501.1 248.3h0M501.5 249.0h0M501.4 250.1h0M501.3 244.0h0M501.9 244.6h0M502.1 240.4h0M502.1 245.7h0M502.7 246.7h0M502.3 245.5h0M502.7 248.0h0M502.9 249.6h0M502.8 248.7h0M503.2 250.8h0M503.5 245.2h0M503.4 248.0h0M503.6 246.3h0M504.1 249.0h0M503.9 244.8h0M504.2 244.0h0M504.5 247.0h0M504.6 246.1h0M504.6 247.9h0M504.9 247.5h0M504.9 248.3h0M505.2 247.8h0M512.4 237.9h0M512.7 235.7h0M512.6 236.6h0M513.0 235.6h0M513.1 231.0h0M513.1 238.3h0M513.5 235.8h0M513.3 236.5h0M513.3 232.0h0M514.1 236.3h0M514.1 230.7h0M513.9 236.7h0M514.3 234.2h0M514.7 238.7h0M514.6 234.4h0M515.1 236.4h0M515.1 231.4h0M515.1 232.5h0M515.7 233.1h0M515.4 236.2h0M515.5 234.4h0M515.9 238.1h0M516.1 234.6h0M515.9 232.0h0M516.7 232.9h0M516.5 238.9h0M516.7 232.0h0M517.1 235.3h0M517.2 233.1h0M516.8 232.4h0M517.5 240.9h0M517.7 235.2h0M517.3 235.2h0M517.8 237.9h0M518.1 237.4h0M518.0 236.5h0M518.5 233.8h0M518.7 236.8h0M518.3 241.4h0M519.1 234.4h0M518.8 231.5h0M519.2 232.3h0M519.3 235.6h0M519.3 237.0h0M519.3 234.9h0M520.1 238.7h0M519.8 237.4h0M519.9 234.4h0M520.7 237.3h0M520.5 230.8h0M520.5 237.0h0M521.0 231.0h0M521.1 238.2h0M520.9 237.5h0M521.6 230.8h0M521.3 237.2h0M521.5 236.3h0M522.2 231.0h0M522.0 229.0h0M522.0 230.5h0M522.3 236.6h0M522.3 230.3h0M522.4 227.9h0M523.0 237.1h0M522.8 229.8h0M523.0 236.5h0M523.4 235.3h0M523.6 236.1h0M523.6 230.6h0M523.9 235.6h0M524.1 229.5h0M523.8 227.7h0M524.6 233.5h0M524.5 234.1h0M524.4 229.0h0M525.2 232.3h0M524.9 232.0h0M524.8 232.5h0M525.7 236.4h0M525.6 230.9h0M525.6 230.7h0M525.9 230.8h0M525.8 233.2h0M525.8 232.3h0M526.3 228.5h0M526.4 227.8h0M526.6 229.5h0M526.8 232.8h0M527.1 237.5h0M526.9 231.4h0M527.7 232.3h0M527.7 234.8h0M527.5 231.4h0M528.0 234.1h0M528.0 235.0h0M528.0 233.9h0M528.3 230.6h0M528.6 231.2h0M528.6 234.9h0M529.1 231.9h0M528.8 232.0h0M529.2 233.6h0M529.3 229.6h0M529.5 234.0h0M529.3 229.3h0M530.0 229.3h0M530.2 236.1h0M530.1 234.0h0M530.5 233.9h0M530.7 233.2h0M530.6 233.5h0M531.1 229.3h0M531.0 237.2h0M531.2 230.9h0M531.3 234.6h0M531.7 235.4h0M531.4 236.5h0M531.8 230.5h0M532.1 239.1h0M532.2 230.4h0M532.7 238.4h0M532.5 231.0h0M532.5 231.7h0M533.2 232.4h0M532.8 238.1h0M533.1 233.7h0M537.8 226.4h0M537.8 228.5h0M537.9 231.1h0M538.5 228.7h0M538.3 230.2h0M538.5 228.0h0M538.8 231.7h0M539.1 227.0h0M539.0 227.3h0M539.6 234.7h0M539.5 231.2h0M539.4 228.8h0M539.8 226.7h0M539.9 234.9h0M540.0 235.8h0M539.0 226.9h0M539.5 227.1h0M540.0 227.7h0M541.0 227.3h0M541.1 227.7h0M541.1 228.0h0M541.9 229.4h0M541.6 229.1h0M541.5 229.3h0M541.9 230.3h0M542.5 230.7h0M542.7 230.3h0M543.0 230.4h0M543.6 230.8h0M544.4 231.2h0M544.2 231.6h0M544.8 232.3h0M545.0 232.1h0M545.1 232.6h0M545.9 233.5h0M546.2 233.6h0M546.3 232.9h0M546.4 233.7h0M547.2 233.6h0M547.5 233.6h0M548.2 234.3h0M548.3 234.6h0M549.5 234.3h0M549.4 235.1h0M549.7 235.3h0M549.7 235.2h0M550.9 236.0h0M551.0 235.8h0M550.9 236.1h0M551.8 236.8h0M551.9 236.3h0M552.5 236.4h0M552.5 237.2h0M552.9 237.2h0M553.9 237.7h0M554.5 237.4h0M555.3 237.5h0M555.2 238.3h0M555.5 238.9h0M555.7 238.3h0M556.1 238.5h0M557.3 239.3h0M557.5 239.2h0M557.2 239.7h0M558.5 239.7h0M558.1 240.2h0M559.1 239.5h0M559.4 240.2h0M559.6 240.5h0M560.5 241.0h0M561.1 240.7h0M561.1 241.8h0M561.1 241.8h0M561.5 241.6h0M561.5 242.4h0M562.7 241.9h0M562.3 242.5h0M563.1 242.6h0M563.1 242.4h0M563.5 242.8h0M564.4 242.8h0M564.3 244.1h0M565.5 244.4h0M565.2 244.0h0M566.2 244.7h0M566.7 245.1h0M566.2 244.3h0M567.5 245.4h0M567.7 244.7h0M567.3 245.5h0M567.6 245.2h0M568.8 245.7h0M568.8 246.9h0M569.3 246.9h0M569.4 246.7h0M570.2 247.3h0M570.0 248.0h0M570.5 247.8h0M571.5 248.3h0M571.9 247.9h0M571.9 248.9h0M572.7 248.7h0M573.0 249.5h0M572.8 250.1h0M573.1 249.7h0M573.7 249.9h0M574.4 251.1h0M574.6 250.9h0M574.8 251.1h0M575.6 251.5h0M575.5 252.0h0M576.3 252.5h0M576.5 251.8h0M576.4 252.6h0M577.1 252.5h0M577.1 252.7h0M577.8 252.3h0M578.7 252.8h0M578.3 252.4h0M579.7 252.5h0M579.6 252.5h0M580.7 252.9h0M580.7 253.3h0M581.5 253.7h0M581.5 253.1h0M581.5 252.8h0M582.4 253.0h0M582.7 253.6h0M583.1 253.5h0M584.0 253.0h0M584.5 253.2h0M585.2 254.2h0M584.9 254.1h0M585.2 254.2h0M585.9 253.4h0M586.9 253.6h0M587.5 254.1h0M587.7 253.4h0M588.2 254.4h0M588.4 254.0h0M589.5 253.8h0M589.5 253.9h0M589.9 254.5h0M591.0 254.0h0M590.7 254.2h0M590.9 254.3h0M592.1 254.7h0M592.3 254.3h0M592.7 254.1h0M593.1 254.2h0M593.4 254.1h0M593.7 254.6h0M594.8 254.4h0M595.6 253.9h0M595.0 254.4h0M596.4 254.8h0M596.5 253.8h0M596.7 254.1h0M596.8 254.8h0M597.9 254.6h0M598.6 254.4h0M598.5 255.2h0M598.9 254.7h0M599.0 255.2h0M599.9 256.1h0M599.9 255.7h0M600.3 255.2h0M601.3 255.1h0M601.7 255.0h0M601.3 254.9h0M601.4 253.6h0M602.8 253.2h0M602.1 253.8h0M603.3 252.8h0M602.9 253.1h0M603.5 252.1h0M603.6 251.4h0M603.5 252.1h0M604.8 252.1h0M604.2 252.3h0M605.6 253.0h0M606.0 253.4h0M605.9 254.2h0M605.8 254.4h0M606.1 254.1h0M606.7 255.6h0M607.4 255.1h0M607.3 255.4h0M607.2 256.2h0M608.1 256.7h0M607.8 256.6h0M608.4 257.0h0M608.7 258.3h0M608.0 257.8h0M608.7 258.7h0M609.5 258.5h0M609.2 259.0h0M609.2 259.3h0M609.7 260.3h0M609.7 260.0h0M610.6 260.1h0M611.1 260.9h0M611.2 260.6h0M611.8 260.2h0M612.8 261.2h0M612.3 261.3h0M613.6 260.7h0M614.0 261.3h0M614.4 261.4h0M614.7 262.1h0M614.9 261.4h0M615.6 262.4h0M615.2 261.8h0M616.4 262.0h0M616.9 262.1h0M617.7 262.3h0M617.9 262.3h0M618.4 263.3h0M619.1 263.0h0M618.6 263.4h0M619.4 263.0h0M619.8 263.1h0M620.4 263.4h0M620.4 263.2h0M621.0 264.2h0M622.3 263.5h0M622.8 264.1h0M622.9 264.4h0M623.0 264.0h0M623.7 264.3h0M624.2 265.2h0M624.1 265.5h0M624.2 265.8h0M625.2 265.2h0M624.9 265.7h0M625.9 265.5h0M626.5 266.6h0M626.1 267.1h0M626.9 266.9h0M626.5 267.9h0M627.2 268.2h0M627.7 267.8h0M627.2 269.1h0M628.5 269.1h0M627.6 269.9h0M628.5 269.9h0M628.8 270.5h0M629.1 270.8h0M628.5 270.8h0M628.7 271.2h0M629.7 271.6h0M630.0 271.8h0M629.6 273.0h0M630.1 273.4h0M630.7 273.8h0M630.3 273.9h0M630.9 273.7h0M631.4 274.7h0M631.1 275.3h0M631.7 275.7h0M632.6 275.1h0M632.5 275.5h0M632.7 277.0h0M632.8 276.4h0M632.7 276.7h0M633.5 277.3h0M633.8 277.9h0M633.5 278.7h0M633.9 279.3h0M633.9 279.1h0M634.5 280.1h0M633.7 280.8h0M634.2 280.6h0M634.8 281.1h0M634.1 281.2h0M634.5 281.8h0M635.2 282.0h0M634.7 282.3h0M635.2 282.7h0M636.1 283.8h0M635.2 283.4h0M635.5 284.8h0M635.6 284.8h0M636.2 285.3h0M635.9 286.0h0M637.1 285.9h0M636.7 286.3h0M636.6 287.1h0M637.6 286.7h0M637.4 287.2h0M638.4 287.9h0M638.6 288.2h0M639.0 288.9h0M638.5 289.3h0M639.5 289.4h0M639.8 290.0h0M640.1 290.6h0M640.0 290.9h0M640.1 291.1h0M640.5 291.0h0M640.6 291.8h0M640.8 292.6h0M640.7 293.1h0M641.5 293.2h0M641.4 292.9h0M642.1 293.8h0M642.9 294.5h0M642.3 294.3h0M643.5 295.1h0M643.7 295.1h0M644.2 294.8h0M644.3 295.1h0M644.1 296.2h0M644.1 295.9h0M644.7 297.0h0M645.6 297.5h0M645.4 297.8h0M645.5 297.3h0M645.8 298.0h0M646.3 298.5h0M646.7 298.8h0M646.6 298.8h0M646.7 299.3h0M648.1 300.2h0M647.8 299.9h0M648.3 300.7h0M648.9 300.5h0M649.1 301.7h0M648.8 302.0h0M649.8 302.2h0M649.6 303.1h0M650.3 302.6h0M650.3 303.8h0M650.8 303.1h0M650.0 303.9h0M651.3 304.0h0M651.1 305.0h0M651.7 304.9h0M651.9 305.6h0M652.3 305.4h0M652.4 306.1h0M652.0 306.2h0M653.0 307.4h0M653.2 307.0h0M653.8 307.4h0M654.1 307.6h0M654.2 308.5h0M654.0 308.2h0M654.1 309.3h0M654.4 310.0h0M654.6 310.0h0M654.7 310.5h0M656.0 310.5h0M656.1 311.4h0M656.5 311.2h0M656.9 311.6h0M657.0 312.3h0M657.5 311.8h0M657.6 313.1h0M657.2 312.8h0M657.7 313.0h0M658.0 313.9h0M657.8 314.5h0M658.3 314.2h0M659.4 315.2h0M659.8 315.4h0M659.3 315.2h0M660.0 315.6h0M659.5 315.9h0M660.6 316.1h0M660.4 317.2h0M660.7 317.4h0M660.8 318.2h0M661.1 318.0h0M661.1 318.0h0M662.1 318.9h0M662.0 319.8h0M662.7 320.1h0M663.0 320.5h0M663.6 320.5h0M663.7 320.1h0M663.2 320.8h0M664.0 321.3h0M664.8 321.3h0M664.4 322.2h0M664.3 322.1h0M664.5 322.8h0M665.8 323.7h0M665.5 324.1h0M665.7 323.3h0M665.9 324.1h0M666.8 324.7h0M666.5 324.7h0M667.5 325.7h0M667.5 325.4h0M668.0 325.7h0M667.9 326.7h0M668.2 326.8h0M668.7 326.7h0M668.9 327.6h0M669.3 327.4h0M668.8 328.7h0M668.8 328.2h0M669.7 328.8h0M669.3 329.9h0M669.5 330.2h0M669.8 330.1h0M670.1 330.4h0M671.0 331.1h0M671.4 330.8h0M671.5 332.0h0M671.3 332.2h0M671.1 332.9h0M671.7 332.7h0M672.7 333.8h0M672.4 333.5h0M672.9 334.6h0M673.3 334.2h0M672.9 334.4h0M673.9 335.1h0M673.2 335.3h0M673.5 336.5h0M674.1 335.8h0M674.4 337.3h0M675.1 337.4h0M674.3 337.1h0M675.2 337.8h0M675.6 338.3h0M675.7 339.0h0M675.5 339.2h0M675.9 339.5h0M676.2 339.5h0M676.9 339.8h0M676.6 340.2h0M676.8 341.0h0M676.6 341.7h0M677.8 341.4h0M677.5 341.6h0M677.8 342.7h0M677.9 343.1h0M677.8 343.4h0M679.0 343.5h0M678.7 344.4h0M679.0 344.2h0M678.9 345.0h0M680.2 344.8h0M679.7 346.1h0M679.7 345.4h0M680.7 346.1h0M681.1 346.1h0M680.7 346.7h0M681.1 347.1h0M682.1 347.6h0M681.7 348.4h0M682.2 348.7h0M682.6 348.5h0M682.6 349.4h0M683.5 349.5h0M683.5 349.5h0M683.1 349.9h0M683.5 350.7h0M683.6 351.2h0M684.9 350.8h0M684.2 351.9h0M685.3 351.6h0M684.8 352.8h0M685.2 352.4h0M685.3 353.3h0M685.8 354.1h0M686.8 353.8h0M686.2 354.0h0M686.3 355.1h0M686.7 354.5h0M687.5 355.5h0M687.1 355.5h0M687.8 356.4h0M688.0 356.4h0M688.5 356.8h0M688.4 356.9h0M688.5 358.1h0M689.9 357.4h0M689.3 358.0h0M690.0 358.3h0M689.9 359.2h0M690.9 358.9h0M690.1 359.3h0M691.6 359.5h0M691.4 360.6h0M692.0 361.0h0M692.0 361.4h0M692.0 362.0h0M692.6 362.0h0M692.5 361.9h0M693.5 362.9h0M693.4 363.4h0M694.1 362.7h0M693.9 363.9h0M694.0 363.5h0M695.0 363.7h0M695.1 364.1h0M695.0 364.3h0M695.5 365.4h0M695.9 365.6h0M696.6 365.6h0M696.6 366.0h0M697.5 366.9h0M697.5 366.7h0M697.3 366.8h0M697.6 367.2h0M698.2 367.4h0M698.5 367.5h0M698.7 368.5h0M698.8 369.1h0M700.2 368.6h0M699.8 369.3h0M700.3 369.9h0M700.4 369.6h0M700.4 369.7h0M700.8 370.7h0M701.9 370.5h0M701.8 371.6h0M702.4 371.5h0M702.2 372.2h0M702.8 371.9h0M703.2 372.5h0M703.9 372.7h0M704.0 373.3h0M703.7 374.0h0M704.1 374.3h0M705.0 374.0h0M705.1 374.5h0M705.1 375.0h0M706.4 375.4h0M706.2 375.2h0M706.5 375.8h0M706.6 375.9h0M706.8 376.2h0M707.7 376.3h0M707.6 376.8h0M707.9 377.7h0M708.5 377.5h0M708.8 378.1h0M708.8 377.9h0M709.7 378.0h0M709.6 378.7h0M709.9 378.9h0M710.9 378.8h0M711.1 379.2h0M711.4 380.2h0M712.0 380.5h0M711.9 380.2h0M712.5 381.3h0M712.7 381.5h0M713.2 381.4h0M712.9 382.1h0M713.6 382.6h0M713.8 382.1h0M714.1 382.3h0M714.5 383.0h0M714.5 383.0h0M715.2 383.1h0M715.1 383.9h0M715.8 384.6h0M716.7 385.0h0M716.2 384.6h0M717.0 385.5h0M717.5 385.3h0M717.9 385.5h0M718.2 385.7h0M718.7 385.9h0M719.0 386.1h0M718.4 386.9h0M718.9 387.1h0M720.0 387.3h0M719.8 388.1h0M720.2 388.0h0M720.4 387.5h0M721.4 387.7h0M721.6 388.1h0M722.4 388.0h0M723.0 388.7h0M723.3 388.6h0M723.0 389.7h0M723.4 389.6h0M724.4 389.8h0M725.0 390.3h0M725.4 390.6h0M725.8 390.7h0M725.3 389.9h0M726.0 390.2h0M726.9 391.4h0M727.5 390.9h0M727.3 391.0h0M727.6 391.3h0M728.2 391.7h0M590.5 258.0h0"/>
<path stroke="#00ff00" d="M152.6 388.8h0M152.4 388.5h0M152.6 387.9h0M152.8 388.4h0M152.9 388.3h0M153.0 389.4h0M153.4 388.8h0M153.6 388.2h0M153.3 387.0h0M154.2 387.2h0M153.8 387.4h0M154.0 388.1h0M154.3 386.5h0M154.5 387.1h0M154.6 388.9h0M154.8 388.0h0M155.0 388.9h0M155.2 387.8h0M155.4 389.1h0M155.3 387.5h0M155.4 387.0h0M156.1 388.1h0M155.9 387.7h0M156.1 387.5h0M156.3 387.9h0M156.3 388.4h0M156.4 386.9h0M157.2 387.5h0M156.9 388.1h0M157.1 388.5h0M157.6 387.3h0M157.5 387.6h0M157.5 388.2h0M161.2 388.3h0M160.8 390.4h0M161.2 388.7h0M161.7 388.7h0M161.7 388.0h0M161.6 388.6h0M162.1 388.1h0M162.1 388.2h0M162.0 388.2h0M162.4 388.4h0M162.4 389.2h0M162.6 389.6h0M163.0 390.1h0M163.0 388.4h0M163.1 388.9h0M163.7 389.0h0M163.3 388.9h0M163.7 389.2h0M164.2 388.9h0M164.1 388.2h0M163.9 388.3h0M164.5 388.8h0M164.5 389.6h0M164.4 388.7h0M164.8 388.3h0M164.9 390.2h0M164.8 389.0h0M165.3 389.5h0M165.5 388.8h0M165.4 388.7h0M166.0 388.5h0M166.1 390.3h0M166.2 388.9h0M166.3 389.9h0M166.5 389.4h0M166.6 390.0h0M167.0 389.1h0M166.8 388.1h0M166.8 388.4h0M167.7 389.4h0M167.3 388.8h0M167.5 390.1h0M168.0 389.4h0M167.9 388.8h0M167.8 390.0h0M168.5 389.8h0M168.5 388.2h0M168.4 388.8h0M169.1 388.9h0M169.2 390.0h0M169.1 389.3h0M169.6 388.8h0M169.3 390.1h0M169.5 390.4h0M170.1 389.4h0M170.0 389.7h0M169.9 388.9h0M170.4 390.0h0M170.7 388.2h0M170.3 388.9h0M171.1 389.1h0M171.1 390.4h0M171.1 389.7h0M171.3 389.5h0M171.6 388.5h0M171.3 389.7h0M172.2 389.6h0M171.9 390.2h0M171.9 388.9h0M172.7 390.0h0M172.7 390.2h0M172.3 388.6h0M173.0 388.6h0M173.2 389.8h0M173.1 390.4h0M173.6 390.4h0M173.5 388.3h0M173.5 390.4h0M174.1 388.8h0M173.8 388.3h0M173.8 389.8h0M174.4 389.1h0M174.7 388.8h0M174.6 388.9h0M174.9 389.1h0M175.0 388.3h0M175.1 389.4h0M175.3 390.4h0M175.7 388.7h0M175.4 390.0h0M176.0 389.4h0M176.1 389.9h0M175.9 389.2h0M176.7 390.2h0M176.7 390.0h0M176.6 388.1h0M176.9 389.8h0M176.9 388.2h0M177.0 389.9h0M177.7 389.9h0M177.5 388.2h0M177.6 390.3h0M178.0 389.6h0M177.8 389.0h0M178.0 390.2h0M178.4 390.3h0M178.5 389.7h0M178.4 390.0h0M178.8 389.4h0M179.2 390.5h0M179.2 388.9h0M179.7 389.7h0M179.3 390.6h0M179.7 390.8h0M179.9 389.2h0M180.2 390.3h0M180.2 390.3h0M180.7 390.4h0M180.7 390.8h0M180.5 390.8h0M181.0 390.9h0M181.0 390.3h0M180.8 389.7h0M181.4 386.0h0M181.4 386.7h0M181.3 386.7h0M182.2 383.8h0M182.1 386.5h0M181.8 385.5h0M182.3 383.6h0M182.4 386.2h0M182.7 383.3h0M183.1 383.3h0M182.9 386.5h0M183.2 383.4h0M183.5 384.5h0M183.6 386.0h0M183.5 386.3h0M184.2 383.6h0M183.8 383.7h0M184.0 385.4h0M184.7 385.6h0M184.6 385.1h0M184.6 384.4h0M185.1 385.9h0M185.2 385.5h0M185.1 383.3h0M185.4 384.6h0M185.4 383.7h0M185.4 385.9h0M185.9 352.6h0M186.0 356.3h0M186.1 358.7h0M186.7 354.7h0M186.5 353.2h0M186.5 355.1h0M187.1 354.4h0M186.9 357.2h0M186.8 353.9h0M187.5 357.3h0M187.3 355.3h0M187.5 355.2h0M187.8 357.5h0M188.1 354.0h0M188.0 358.6h0M188.6 352.1h0M188.4 353.8h0M188.7 357.6h0M189.1 352.1h0M189.1 353.1h0M188.8 355.7h0M189.6 354.0h0M189.7 357.8h0M189.7 353.2h0M190.0 354.9h0M189.9 352.8h0M190.2 353.0h0M190.3 352.1h0M190.6 359.0h0M190.4 353.5h0M190.9 355.5h0M191.1 354.1h0M191.1 357.9h0M191.7 359.5h0M191.6 359.5h0M191.6 355.1h0M191.8 353.7h0M192.2 357.3h0M192.2 352.5h0M192.6 352.0h0M192.4 354.0h0M192.7 357.4h0M193.2 345.1h0M193.0 355.5h0M193.0 351.6h0M193.7 349.6h0M193.3 347.6h0M193.4 346.0h0M193.8 350.9h0M194.1 353.1h0M194.1 345.5h0M194.7 343.3h0M194.7 347.5h0M194.5 337.0h0M194.9 343.2h0M195.0 335.9h0M194.9 341.6h0M195.3 344.0h0M195.3 334.9h0M195.4 337.8h0M196.0 343.5h0M196.0 342.5h0M195.8 341.8h0M196.5 336.5h0M196.7 342.8h0M196.5 338.1h0M197.0 346.8h0M197.1 338.4h0M196.9 347.6h0M197.3 345.6h0M197.7 346.2h0M197.6 339.8h0M197.9 343.4h0M197.9 347.2h0M197.9 341.4h0M198.3 346.4h0M198.5 347.6h0M198.4 349.5h0M199.2 351.3h0M199.2 347.6h0M199.0 351.1h0M199.3 349.8h0M199.7 345.0h0M199.3 346.8h0M199.8 341.7h0M199.9 343.7h0M200.1 346.4h0M200.7 345.5h0M200.5 341.1h0M200.4 342.9h0M201.0 341.4h0M201.2 339.1h0M201.0 337.2h0M201.5 339.7h0M201.6 338.1h0M201.3 336.9h0M201.9 332.5h0M202.2 339.5h0M202.2 342.7h0M202.4 331.9h0M202.5 333.4h0M202.5 328.7h0M203.2 338.5h0M203.0 330.9h0M203.0 333.5h0M203.4 334.7h0M203.4 328.6h0M203.7 334.5h0M203.9 326.0h0M204.0 322.8h0M204.1 331.1h0M204.4 323.7h0M204.3 321.2h0M204.5 327.8h0M205.2 331.0h0M205.1 326.6h0M204.9 323.8h0M205.7 325.4h0M205.6 327.3h0M205.7 315.3h0M206.2 323.5h0M206.0 316.4h0M206.2 320.5h0M206.7 309.5h0M206.7 309.0h0M206.5 309.9h0M207.0 297.4h0M206.9 310.6h0M206.8 311.2h0M207.7 304.5h0M207.7 311.5h0M207.4 309.4h0M207.9 303.3h0M207.8 301.9h0M208.2 307.2h0M208.4 298.5h0M208.7 311.9h0M208.7 297.8h0M209.1 301.9h0M208.8 304.9h0M208.9 311.9h0M209.3 302.8h0M209.3 308.5h0M209.5 304.8h0M210.2 306.4h0M210.0 310.8h0M210.0 311.4h0M210.6 308.6h0M210.5 298.8h0M210.5 311.0h0M211.1 312.3h0M210.9 310.8h0M210.8 297.2h0M211.3 300.3h0M211.4 309.5h0M211.5 311.0h0M211.9 299.4h0M211.9 300.1h0M212.1 312.0h0M212.5 305.8h0M212.5 308.2h0M212.7 310.2h0M213.0 305.0h0M213.0 299.6h0M212.8 310.2h0M213.5 299.8h0M213.3 297.4h0M213.5 306.1h0M214.2 309.1h0M214.0 306.4h0M213.8 299.6h0M214.5 306.4h0M214.6 311.7h0M214.4 303.3h0M214.8 301.5h0M214.8 310.2h0M215.1 309.6h0M215.3 304.6h0M215.6 300.5h0M215.5 297.6h0M216.1 306.6h0M216.1 297.7h0M216.0 302.8h0M216.4 312.8h0M216.5 308.3h0M216.5 311.3h0M216.8 304.8h0M217.1 299.8h0M216.8 304.8h0M217.5 311.0h0M217.6 300.8h0M217.4 310.3h0M217.8 302.0h0M217.9 306.6h0M218.1 299.5h0M218.5 310.8h0M218.6 310.8h0M218.7 305.4h0M218.9 302.1h0M219.0 311.5h0M218.9 309.6h0M219.4 300.8h0M219.3 303.3h0M219.7 303.7h0M220.1 298.4h0M219.9 305.4h0M219.8 301.5h0M220.7 298.6h0M220.6 307.2h0M220.4 299.9h0M221.1 306.1h0M220.9 309.9h0M221.0 311.9h0M221.4 304.1h0M221.7 301.9h0M221.6 309.5h0M222.1 306.6h0M222.2 299.8h0M222.2 310.9h0M222.4 297.0h0M222.7 311.3h0M222.6 312.6h0M222.8 301.9h0M222.9 299.7h0M222.8 310.8h0M223.5 303.5h0M223.5 308.2h0M223.6 303.4h0M223.8 302.2h0M223.9 299.9h0M224.0 312.3h0M224.5 297.8h0M224.3 312.0h0M224.7 303.0h0M225.0 301.3h0M225.1 311.5h0M225.0 308.3h0M225.3 310.8h0M225.5 297.7h0M225.4 308.8h0M225.9 309.9h0M226.1 307.3h0M226.2 311.6h0M226.4 299.2h0M226.6 309.0h0M226.4 303.5h0M227.2 299.7h0M226.8 312.0h0M226.8 300.4h0M227.3 304.2h0M227.6 300.5h0M227.3 305.0h0M227.9 306.1h0M228.0 301.2h0M228.2 301.2h0M228.5 297.6h0M228.7 299.9h0M228.6 312.9h0M228.9 308.1h0M228.8 311.7h0M229.1 308.3h0M229.3 303.1h0M229.5 301.1h0M229.6 306.1h0M229.9 310.9h0M230.1 301.0h0M229.9 307.7h0M230.6 301.9h0M230.6 295.8h0M230.4 296.3h0M231.1 304.8h0M231.1 303.2h0M230.9 301.1h0M231.5 292.8h0M231.7 292.6h0M231.4 303.3h0M232.2 289.7h0M232.1 292.3h0M232.2 289.8h0M232.7 293.0h0M232.4 302.9h0M232.4 290.9h0M232.9 304.8h0M233.0 296.8h0M233.0 290.0h0M233.5 300.8h0M233.3 291.4h0M233.7 296.9h0M233.9 299.0h0M233.9 288.9h0M234.2 294.2h0M234.5 294.5h0M234.7 294.5h0M234.4 296.1h0M235.2 304.2h0M234.8 304.7h0M235.0 290.6h0M235.4 300.1h0M235.7 302.1h0M235.4 296.7h0M236.1 298.6h0M236.0 289.1h0M235.8 290.4h0M236.4 300.5h0M236.5 296.6h0M236.5 290.9h0M236.8 299.1h0M237.2 291.4h0M237.0 291.7h0M237.3 305.6h0M237.6 302.5h0M237.6 289.3h0M237.9 305.7h0M238.0 300.8h0M238.2 300.8h0M238.3 304.4h0M238.6 292.3h0M238.3 293.8h0M239.0 292.5h0M238.9 296.2h0M238.9 304.0h0M239.6 305.2h0M239.6 291.4h0M239.3 293.3h0M240.0 303.6h0M240.2 304.6h0M240.1 297.3h0M240.4 290.8h0M240.3 302.0h0M240.6 292.8h0M240.8 288.4h0M241.0 292.4h0M241.2 289.2h0M241.5 296.3h0M241.6 291.6h0M241.5 292.5h0M241.9 292.0h0M242.2 297.3h0M241.8 296.7h0M242.7 289.9h0M242.7 300.1h0M242.6 301.3h0M242.8 295.4h0M243.2 300.6h0M243.1 299.1h0M243.4 303.0h0M243.3 303.4h0M243.7 296.7h0M244.0 300.9h0M243.8 290.9h0M244.2 293.2h0M244.5 301.9h0M244.6 289.0h0M244.4 292.1h0M245.0 295.0h0M244.9 302.0h0M245.0 299.4h0M245.4 293.5h0M245.5 298.8h0M245.5 302.0h0M245.9 292.3h0M245.9 296.6h0M246.2 301.4h0M246.4 305.3h0M246.7 299.5h0M246.5 303.7h0M247.1 299.0h0M246.8 297.4h0M247.2 295.6h0M247.7 294.7h0M247.5 302.4h0M247.5 291.5h0M248.1 289.6h0M247.8 299.2h0M248.0 290.1h0M248.5 288.3h0M248.7 303.3h0M248.3 294.4h0M248.9 299.7h0M249.0 298.0h0M249.2 298.3h0M249.5 301.1h0M249.4 301.4h0M249.7 299.1h0M250.2 293.7h0M249.9 298.2h0M249.8 297.4h0M249.8 298.6h0M250.2 288.3h0M250.4 288.0h0M250.4 294.0h0M250.8 290.1h0M251.1 296.6h0M251.6 294.1h0M251.6 299.6h0M252.1 292.8h0M252.0 288.3h0M252.4 296.8h0M252.7 305.5h0M253.1 292.1h0M253.0 302.0h0M253.7 306.0h0M253.4 293.1h0M254.1 296.6h0M254.2 295.2h0M254.3 294.1h0M254.5 301.4h0M254.9 307.3h0M254.8 294.1h0M255.4 288.6h0M255.7 305.8h0M256.2 297.5h0M255.8 285.6h0M256.4 306.3h0M256.4 306.2h0M256.9 285.4h0M257.1 301.0h0M257.5 296.8h0M257.6 288.2h0M257.9 293.0h0M257.8 298.3h0M258.5 287.4h0M258.7 285.8h0M258.9 288.3h0M259.1 288.0h0M259.3 302.1h0M259.4 300.5h0M260.1 303.1h0M259.9 301.5h0M260.5 301.8h0M260.4 285.8h0M261.1 303.7h0M260.9 295.7h0M261.5 284.9h0M261.6 300.6h0M261.9 283.2h0M261.9 292.2h0M262.6 286.7h0M262.3 302.6h0M263.0 292.1h0M263.1 284.6h0M263.6 301.0h0M263.4 291.4h0M264.2 285.8h0M264.1 293.3h0M264.5 296.2h0M264.5 296.9h0M264.9 298.7h0M265.0 287.6h0M265.3 297.5h0M265.7 300.1h0M266.1 300.8h0M266.2 291.8h0M266.6 281.3h0M266.3 281.9h0M267.1 298.2h0M267.0 297.5h0M267.3 291.9h0M267.6 280.7h0M267.9 291.3h0M268.0 291.0h0M268.5 292.3h0M268.5 287.4h0M269.2 291.7h0M269.1 294.3h0M269.6 290.8h0M269.5 289.8h0M269.9 281.6h0M270.1 290.4h0M270.7 289.7h0M270.6 290.4h0M271.2 276.6h0M270.9 279.6h0M271.5 288.6h0M271.7 285.1h0M271.8 280.6h0M272.1 289.2h0M272.3 289.1h0M272.7 287.8h0M273.1 291.3h0M273.1 281.3h0M273.7 282.7h0M273.7 283.5h0M274.1 285.8h0M273.8 275.4h0M274.7 274.0h0M274.5 282.9h0M275.2 276.9h0M274.9 288.3h0M275.5 286.3h0M275.3 285.7h0M276.0 290.0h0M276.0 279.7h0M276.4 276.3h0M276.6 275.5h0M276.9 281.6h0M277.2 276.5h0M277.3 289.1h0M277.6 279.3h0M277.8 278.1h0M277.8 273.7h0M278.4 279.3h0M278.6 289.7h0M278.9 276.5h0M278.9 275.4h0M279.6 282.3h0M279.3 279.7h0M279.9 280.7h0M280.1 287.1h0M280.7 280.9h0M280.6 289.6h0M281.2 281.2h0M281.2 274.4h0M281.5 280.3h0M281.5 282.1h0M282.2 277.6h0M282.0 286.5h0M282.5 281.3h0M282.7 271.5h0M283.0 285.8h0M283.0 277.6h0M283.3 283.6h0M283.6 273.7h0M283.8 280.7h0M284.0 285.0h0M284.6 271.7h0M284.6 277.0h0M285.1 282.9h0M285.2 276.0h0M285.5 278.5h0M285.5 277.1h0M285.8 274.6h0M286.0 275.0h0M286.5 277.0h0M286.6 274.5h0M287.0 281.0h0M287.2 284.2h0M287.7 280.0h0M287.5 271.1h0M288.0 278.5h0M287.8 278.1h0M288.5 278.9h0M288.7 271.8h0M289.0 275.8h0M288.9 278.1h0M289.7 285.8h0M289.3 275.4h0M290.1 282.5h0M290.1 274.7h0M290.6 278.0h0M290.5 285.9h0M290.9 284.1h0M291.1 281.0h0M291.4 273.5h0M291.6 278.2h0M291.8 269.7h0M292.1 267.6h0M292.5 268.5h0M292.6 271.9h0M293.1 272.5h0M293.2 266.5h0M293.7 278.0h0M293.3 266.5h0M294.0 280.9h0M293.9 264.4h0M294.7 266.7h0M294.4 277.9h0M295.0 279.2h0M295.2 263.4h0M295.6 276.8h0M295.5 276.8h0M296.1 271.4h0M296.2 274.4h0M296.4 271.5h0M296.7 273.0h0M297.2 262.0h0M296.9 266.8h0M297.5 263.3h0M297.3 273.0h0M298.0 262.3h0M298.2 259.2h0M298.6 275.1h0M298.6 266.9h0M298.9 269.8h0M298.8 275.4h0M299.5 264.1h0M299.5 275.0h0M299.8 269.7h0M299.8 260.9h0M227.7 319.2h0M227.3 318.1h0M226.6 313.9h0M218.8 316.3h0M220.8 314.3h0M212.3 321.2h0M228.5 315.7h0M210.0 319.1h0M209.5 320.9h0M210.8 315.4h0M240.4 304.8h0M247.0 303.5h0M239.1 298.4h0M284.9 283.2h0M294.8 282.1h0M254.9 284.7h0M268.7 270.6h0M276.8 286.1h0M254.7 283.8h0M253.7 295.1h0M296.1 296.6h0M276.2 270.1h0M257.4 299.2h0M285.1 280.2h0M293.2 288.6h0M254.3 277.5h0M285.8 272.8h0M299.8 260.0h0M300.1 252.9h0M299.9 259.7h0M300.5 253.2h0M300.7 251.6h0M300.3 255.0h0M300.8 258.1h0M301.2 256.3h0M301.2 255.8h0M301.4 251.0h0M301.5 253.8h0M301.5 253.2h0M302.1 255.0h0M301.9 254.3h0M302.0 252.8h0M302.5 250.6h0M302.4 254.2h0M302.6 251.2h0M303.1 256.6h0M303.2 254.9h0M302.9 258.3h0M303.4 252.7h0M303.4 257.4h0M303.3 253.0h0M304.1 258.3h0M303.9 256.5h0M304.0 254.5h0M304.4 258.3h0M304.4 256.0h0M304.6 258.7h0M305.0 253.0h0M305.1 250.4h0M304.8 251.0h0M305.4 258.3h0M305.4 259.0h0M305.6 256.8h0M306.2 255.0h0M306.2 251.2h0M305.9 257.9h0M306.6 257.2h0M306.3 255.2h0M306.4 250.9h0M307.1 253.2h0M306.8 255.5h0M307.0 251.6h0M307.6 257.5h0M307.7 256.0h0M307.6 255.1h0M307.9 257.2h0M308.2 252.4h0M308.0 253.0h0M308.7 254.0h0M308.7 258.6h0M308.6 250.7h0M308.8 254.5h0M309.0 257.6h0M309.1 254.3h0M309.3 258.3h0M309.3 251.4h0M309.4 252.5h0M310.2 251.6h0M310.1 255.7h0M310.1 252.2h0M310.7 252.6h0M310.7 259.1h0M310.3 256.0h0M311.0 255.2h0M310.9 253.9h0M310.8 251.9h0M311.6 251.4h0M311.6 254.0h0M311.6 253.6h0M312.2 256.3h0M312.0 251.2h0M311.9 251.3h0M312.7 258.3h0M312.7 258.9h0M312.3 254.8h0M312.8 256.9h0M312.8 251.9h0M313.0 251.7h0M313.3 257.7h0M313.6 250.9h0M313.5 256.9h0M314.1 257.3h0M314.2 256.1h0M314.0 252.8h0M314.3 252.7h0M314.4 251.0h0M314.7 254.6h0M314.8 252.2h0M314.9 253.0h0M314.8 256.0h0M315.4 256.6h0M315.3 258.6h0M315.6 254.2h0M316.0 256.1h0M316.2 257.5h0M316.0 253.2h0M316.6 253.6h0M316.5 252.0h0M316.5 252.7h0M316.9 251.5h0M316.8 252.4h0M316.8 256.7h0M317.3 251.5h0M317.7 255.5h0M317.6 255.6h0M318.2 254.9h0M318.1 252.3h0M318.2 251.9h0M318.4 258.4h0M318.4 253.0h0M318.5 252.7h0M319.0 251.3h0M318.8 255.4h0M318.9 251.1h0M319.5 259.0h0M319.4 258.6h0M319.4 256.8h0M320.1 254.8h0M320.2 257.8h0M319.8 255.7h0M320.7 255.6h0M320.5 254.1h0M320.5 254.7h0M320.9 252.8h0M320.8 253.8h0M320.9 257.1h0M321.4 256.4h0M321.7 258.2h0M321.6 258.3h0M322.0 258.7h0M321.8 258.0h0M322.1 255.7h0M322.5 255.8h0M322.7 257.0h0M322.5 258.5h0M323.2 253.2h0M323.1 252.4h0M323.2 252.9h0M323.7 254.7h0M323.4 253.1h0M323.6 252.5h0M323.8 258.2h0M324.1 256.1h0M324.1 255.9h0M324.4 255.2h0M324.7 252.2h0M324.4 257.1h0M324.8 255.5h0M324.8 253.9h0M325.1 256.7h0M325.4 254.8h0M325.3 252.6h0M325.7 258.2h0M326.2 253.9h0M325.8 257.4h0M326.0 257.3h0M326.5 258.4h0M326.5 257.2h0M326.4 253.9h0M327.1 257.0h0M327.2 254.8h0M326.9 254.5h0M327.3 253.9h0M327.3 258.0h0M327.7 256.9h0M327.8 258.3h0M328.2 254.1h0M327.9 254.6h0M328.5 255.7h0M328.6 256.6h0M328.7 257.0h0M328.9 256.5h0M328.9 256.7h0M329.0 257.2h0M329.6 256.4h0M329.4 254.8h0M329.7 253.7h0M330.2 254.5h0M329.8 253.9h0M330.1 254.7h0M330.6 253.9h0M330.7 257.9h0M330.5 257.4h0M331.2 254.5h0M331.0 254.1h0M330.8 255.3h0M331.5 257.3h0M331.7 256.8h0M331.4 254.7h0M331.9 255.0h0M332.0 256.5h0M331.9 258.0h0M332.4 255.1h0M332.4 256.5h0M332.6 257.6h0M333.0 254.1h0M333.2 257.6h0M332.8 254.4h0M333.6 255.4h0M333.7 257.4h0M333.3 256.7h0M334.2 254.6h0M333.9 257.1h0M334.1 255.6h0M334.6 254.4h0M334.7 258.3h0M334.5 258.0h0M334.9 256.3h0M335.0 256.5h0M334.9 258.4h0M335.7 254.3h0M335.7 256.1h0M335.6 255.7h0M335.8 257.4h0M336.0 255.3h0M335.8 257.6h0M336.4 255.3h0M336.7 256.8h0M336.7 258.4h0M336.8 254.9h0M337.1 256.8h0M336.8 258.3h0M337.7 254.8h0M337.5 257.0h0M337.7 254.4h0M337.9 255.1h0M338.0 256.7h0M338.1 257.0h0M338.4 254.9h0M338.3 255.0h0M338.7 257.1h0M338.9 258.2h0M338.8 256.6h0M339.1 255.9h0M339.7 257.0h0M339.6 255.0h0M339.5 255.9h0M340.2 258.0h0M340.2 255.9h0M340.0 256.6h0M340.6 257.6h0M340.6 254.7h0M340.4 258.0h0M341.1 255.9h0M340.8 258.2h0M341.1 257.3h0M341.5 256.8h0M341.4 256.4h0M341.7 254.9h0M341.8 257.7h0M342.2 254.9h0M342.1 254.8h0M342.3 255.1h0M342.7 255.3h0M342.3 257.8h0M343.1 255.0h0M342.9 256.3h0M343.0 255.2h0M343.4 257.5h0M343.7 257.0h0M343.4 258.1h0M343.9 255.3h0M344.1 257.0h0M343.8 256.1h0M344.4 257.7h0M344.4 255.9h0M344.4 255.4h0M345.2 256.0h0M344.8 255.5h0M345.0 257.5h0M345.4 255.6h0M345.5 257.4h0M345.5 256.1h0M346.1 257.1h0M346.1 255.7h0M346.0 257.8h0M346.7 257.6h0M346.4 257.0h0M346.6 257.3h0M347.2 256.7h0M347.2 254.6h0M346.8 254.4h0M347.4 254.9h0M347.4 255.4h0M347.6 256.2h0M347.9 255.2h0M348.0 257.0h0M347.8 256.2h0M348.4 255.0h0M348.4 255.7h0M348.6 254.6h0M348.9 253.4h0M349.1 253.7h0M348.9 254.3h0M349.7 255.3h0M349.6 253.3h0M349.5 255.6h0M349.8 253.6h0M349.9 256.3h0M350.0 254.2h0M350.4 252.7h0M350.7 252.9h0M350.3 254.6h0M351.0 253.1h0M350.9 252.8h0M350.9 254.2h0M351.3 254.4h0M351.7 255.3h0M351.5 253.8h0M351.8 253.6h0M352.1 254.8h0M352.1 254.0h0M352.4 255.1h0M352.7 253.7h0M352.4 252.8h0M352.8 254.9h0M352.8 252.6h0M353.0 252.8h0M353.5 255.3h0M353.6 253.6h0M353.7 251.9h0M354.0 254.0h0M354.1 251.8h0M353.8 252.0h0M354.7 252.8h0M354.4 252.1h0M354.3 251.9h0M355.0 252.7h0M355.1 255.0h0M354.8 253.1h0M355.4 251.7h0M355.4 255.1h0M355.3 254.3h0M356.2 253.2h0M356.0 252.1h0M355.9 254.2h0M356.5 251.6h0M356.6 254.6h0M356.3 254.0h0M357.1 253.1h0M357.1 251.7h0M357.2 251.9h0M357.4 252.1h0M357.5 254.3h0M357.5 253.1h0M358.0 253.5h0M358.2 252.6h0M357.9 251.5h0M358.6 254.1h0M358.3 254.2h0M358.4 251.6h0M358.9 252.7h0M359.0 254.3h0M359.1 252.6h0M359.5 251.4h0M359.3 254.2h0M359.4 251.6h0M359.9 253.1h0M359.9 253.8h0M360.0 253.6h0M360.3 253.8h0M360.5 253.3h0M360.5 252.4h0M361.0 251.5h0M360.9 253.6h0M361.2 252.9h0M361.6 253.8h0M361.7 252.9h0M361.7 251.7h0M362.1 252.9h0M362.0 253.0h0M362.0 253.9h0M362.7 252.4h0M362.7 251.8h0M362.7 251.2h0M363.0 251.9h0M363.0 251.2h0M363.1 252.9h0M363.5 251.2h0M363.6 253.1h0M363.6 253.5h0M363.8 250.7h0M363.9 253.0h0M363.9 252.4h0M364.6 251.3h0M364.5 252.0h0M364.6 253.2h0M365.0 251.0h0M365.0 250.9h0M365.0 251.0h0M365.3 252.0h0M365.3 251.9h0M365.5 251.5h0M365.8 252.6h0M365.9 251.4h0M366.0 251.4h0M366.5 252.5h0M366.3 251.2h0M366.4 252.2h0M367.2 251.3h0M367.0 250.8h0M367.0 250.6h0M367.6 251.4h0M367.7 251.6h0M367.3 252.2h0M368.0 252.0h0M367.8 252.6h0M368.0 251.7h0M368.5 251.9h0M368.5 249.9h0M368.6 252.4h0M369.2 251.6h0M369.0 251.9h0M369.1 249.8h0M369.5 251.2h0M369.5 250.7h0M369.3 251.9h0M369.9 249.8h0M369.8 251.6h0M369.8 251.7h0M370.6 251.6h0M370.7 251.2h0M370.5 250.6h0M370.9 250.3h0M371.2 250.1h0M371.2 250.7h0M371.3 251.4h0M371.6 252.1h0M371.3 251.1h0M372.2 251.4h0M372.2 249.7h0M371.9 251.2h0M372.3 250.5h0M372.7 252.8h0M372.6 251.7h0M373.0 252.5h0M373.0 252.1h0M373.2 254.1h0M373.4 255.1h0M373.3 252.7h0M373.6 253.7h0M373.9 255.4h0M374.2 257.9h0M374.1 256.1h0M374.7 256.2h0M374.7 258.4h0M374.4 258.4h0M375.0 257.1h0M374.9 257.9h0M374.8 260.6h0M375.6 260.6h0M375.3 257.6h0M375.6 260.4h0M376.2 259.9h0M375.9 260.1h0M376.2 263.5h0M376.3 262.7h0M376.5 264.5h0M376.5 261.7h0M377.1 261.6h0M377.0 264.3h0M376.9 261.1h0M377.4 261.9h0M377.7 260.1h0M377.5 262.9h0M377.8 262.2h0M378.1 262.4h0M378.2 265.5h0M378.7 261.8h0M378.3 261.5h0M378.7 260.6h0M379.1 266.4h0M379.1 261.9h0M379.1 266.1h0M379.5 265.0h0M379.6 262.0h0M379.4 263.9h0M380.0 265.0h0M380.2 264.1h0M380.0 265.4h0M380.4 264.2h0M380.3 266.7h0M380.6 263.1h0M381.2 266.2h0M381.1 265.1h0M381.1 267.5h0M381.3 268.8h0M381.7 268.4h0M381.6 265.5h0M381.8 264.5h0M382.2 267.5h0M382.2 269.9h0M382.3 264.9h0M382.3 264.7h0M382.4 269.4h0M383.1 268.7h0M383.1 270.3h0M383.2 265.6h0M383.6 267.2h0M383.4 267.5h0M383.3 269.8h0M383.8 265.8h0M383.9 268.9h0M384.0 268.3h0M384.6 267.8h0M384.7 269.4h0M384.7 269.4h0M385.2 270.2h0M385.2 268.1h0M384.8 266.6h0M385.5 266.8h0M385.6 272.2h0M385.7 266.6h0M385.8 269.8h0M385.8 267.6h0M386.0 266.8h0M386.3 270.6h0M386.4 273.0h0M386.7 270.1h0M387.0 268.5h0M387.0 269.2h0M387.1 268.7h0M387.7 270.0h0M387.7 273.2h0M387.3 273.1h0M388.2 273.8h0M388.0 268.6h0M387.9 270.3h0M388.3 272.9h0M388.7 268.2h0M388.6 268.0h0M388.9 271.1h0M389.1 269.6h0M389.2 267.8h0M389.5 270.4h0M389.6 271.8h0M389.4 267.9h0M389.8 269.4h0M389.8 268.6h0M389.9 268.7h0M390.6 272.2h0M390.6 268.1h0M390.4 272.0h0M391.1 270.5h0M391.1 267.1h0M391.0 269.2h0M391.6 270.1h0M391.3 270.0h0M391.7 269.2h0M392.0 270.4h0M392.1 271.0h0M392.2 268.7h0M392.5 268.0h0M392.4 266.5h0M392.7 271.9h0M393.2 272.2h0M393.1 269.5h0M393.0 270.4h0M393.5 271.2h0M393.4 271.6h0M393.6 273.0h0M394.2 268.7h0M393.8 269.8h0M394.2 268.2h0M394.6 272.4h0M394.5 272.6h0M394.6 271.1h0M395.1 275.1h0M395.0 268.9h0M395.0 274.7h0M395.4 275.5h0M395.7 271.2h0M395.3 269.2h0M395.8 269.5h0M395.9 275.2h0M396.1 273.0h0M396.5 275.0h0M396.7 272.3h0M396.3 275.3h0M397.2 270.5h0M397.1 274.5h0M397.0 271.8h0M397.3 272.4h0M397.7 272.6h0M397.5 277.7h0M398.1 276.2h0M398.2 278.5h0M398.2 273.2h0M398.7 278.6h0M398.5 275.5h0M398.3 276.1h0M399.1 279.2h0M398.9 274.5h0M399.0 277.2h0M399.6 275.5h0M399.5 277.5h0M399.3 276.7h0M399.9 273.2h0M400.2 278.2h0M399.9 278.8h0M400.4 274.0h0M400.6 275.0h0M400.4 275.2h0M401.2 277.7h0M401.1 275.7h0M401.0 277.1h0M401.6 274.5h0M401.4 280.6h0M401.5 276.6h0M402.2 280.7h0M402.2 276.4h0M402.1 280.7h0M402.3 276.0h0M402.7 281.5h0M402.5 281.0h0M402.9 278.4h0M402.8 276.9h0M403.0 280.2h0M391.8 274.3h0M400.3 280.7h0M286.1 304.4h0M264.5 330.5h0M282.4 319.7h0M281.7 316.3h0M262.3 303.5h0M290.3 337.7h0M275.5 313.3h0M262.0 315.8h0M289.0 299.4h0M294.1 314.4h0M280.1 319.1h0M296.9 337.7h0M268.6 340.2h0M264.3 298.6h0M245.1 336.0h0M248.6 330.4h0M254.9 327.0h0M254.2 327.7h0M280.1 341.4h0M270.4 388.6h0M269.5 373.3h0M288.8 394.0h0M251.5 349.4h0M275.5 383.6h0M287.6 361.7h0M280.2 349.2h0M276.7 362.6h0M287.9 380.1h0M251.8 377.4h0M266.2 377.0h0M269.9 360.5h0M266.8 351.1h0M290.0 352.3h0M274.2 354.8h0M259.8 362.6h0M282.5 362.3h0M291.6 373.6h0M253.5 340.2h0M267.3 360.0h0M266.2 365.9h0M252.9 373.4h0M257.1 339.7h0M267.8 307.3h0M267.9 310.4h0M269.4 391.2h0M270.4 378.4h0M284.3 393.6h0M265.2 383.9h0M272.3 375.7h0M263.2 375.6h0M259.9 392.2h0M280.1 376.2h0M291.3 355.9h0M290.3 295.0h0M308.3 264.0h0M299.4 262.4h0M301.9 261.6h0M308.6 274.3h0M236.4 356.2h0M231.2 370.5h0M243.1 348.6h0M240.3 347.6h0M358.2 261.3h0M358.4 301.1h0M358.4 294.4h0M302.8 263.5h0M310.2 268.2h0M312.8 269.8h0M309.2 267.4h0M318.2 267.0h0M318.1 263.3h0M318.6 265.2h0M317.3 270.8h0M386.4 308.2h0M386.0 332.7h0M386.3 305.2h0M386.1 354.5h0M387.3 370.7h0M390.4 382.5h0M391.8 311.4h0M390.5 377.8h0M391.6 280.3h0M392.0 387.6h0M391.2 349.3h0M390.3 314.4h0M402.3 272.9h0M401.8 308.6h0M400.9 294.4h0M400.8 276.6h0M400.3 321.2h0M399.8 338.8h0M406.6 321.4h0M409.0 372.3h0M407.1 293.1h0M409.6 292.2h0M405.7 268.9h0M409.2 342.4h0M405.7 328.1h0M405.8 267.8h0M407.8 322.1h0M412.5 358.8h0M407.1 381.8h0M411.3 357.0h0M414.4 390.3h0M405.3 370.2h0M408.7 381.4h0M411.1 379.3h0M413.1 378.9h0M412.5 376.4h0M412.7 387.5h0M406.7 383.7h0M408.5 357.8h0M415.1 381.1h0M416.4 366.7h0M405.5 362.5h0M438.5 315.5h0M441.9 258.7h0M438.2 337.9h0M438.6 263.2h0M441.8 256.9h0M441.3 349.9h0M438.3 315.4h0M439.6 287.5h0M439.6 379.3h0M454.1 256.5h0M454.8 256.3h0M454.6 265.4h0M454.2 256.7h0M478.8 296.3h0M479.6 363.7h0M480.2 241.6h0M475.1 248.3h0M471.5 368.8h0M473.6 241.5h0M479.5 327.5h0M480.0 277.3h0M476.7 244.8h0M477.3 277.7h0M479.0 371.6h0M480.8 285.5h0M474.8 308.9h0M478.8 349.3h0M475.2 365.7h0M480.0 338.7h0M477.1 353.7h0M479.9 245.0h0M480.6 300.3h0M479.2 302.1h0M477.9 311.1h0M476.7 381.8h0M477.6 358.2h0M475.2 270.7h0M479.2 332.0h0M478.6 371.1h0M474.0 311.9h0M477.6 253.3h0M474.4 295.0h0M474.1 367.6h0M473.1 363.2h0M474.4 387.3h0M479.3 379.8h0M503.7 329.5h0M505.8 386.3h0M523.3 327.5h0M527.7 350.2h0M512.0 294.4h0M514.4 307.7h0M515.0 242.1h0M522.4 248.7h0M515.0 282.9h0M514.3 348.8h0M520.0 317.2h0M524.0 348.5h0M512.1 375.7h0M519.3 394.8h0M514.2 313.4h0M519.4 274.8h0M518.7 375.4h0M519.0 362.9h0M518.7 267.3h0M518.2 356.2h0M520.4 277.8h0M519.2 342.5h0M532.8 316.9h0M536.5 304.1h0M537.7 289.3h0M534.7 295.8h0M535.3 375.7h0M531.7 335.9h0M534.6 257.4h0M539.8 301.3h0M533.0 303.5h0M534.7 313.7h0M540.0 385.6h0M533.8 272.4h0M537.5 328.5h0M538.3 364.5h0M538.0 247.3h0M539.8 329.0h0M536.4 239.6h0M538.8 305.3h0M539.8 392.8h0M536.3 282.5h0M532.2 327.8h0M535.2 255.2h0M536.9 302.0h0M535.5 391.1h0M534.2 369.8h0M535.7 356.8h0M538.6 274.0h0M537.5 325.8h0M538.7 266.8h0M536.5 324.0h0M534.1 352.4h0M535.2 283.3h0M536.8 307.3h0M538.2 253.2h0M534.2 302.4h0M538.4 270.8h0M439.1 223.7h0M438.8 221.2h0M438.8 222.0h0M439.3 222.9h0M439.7 222.0h0M439.7 224.0h0M440.2 222.3h0M440.0 221.4h0M439.9 222.2h0M440.3 224.9h0M440.7 223.2h0M440.4 225.1h0M440.9 224.6h0M440.8 222.0h0M440.8 226.5h0M441.3 224.1h0M441.5 225.0h0M441.4 222.9h0M442.2 221.9h0M442.2 224.0h0M441.9 224.0h0M442.3 224.8h0M442.6 225.8h0M442.6 225.2h0M443.2 223.2h0M443.2 225.0h0M443.2 226.6h0M443.7 226.8h0M443.6 224.9h0M443.5 225.3h0M443.8 223.7h0M443.9 222.4h0M444.1 222.3h0M444.3 223.4h0M444.4 224.9h0M444.5 222.5h0M445.0 223.9h0M445.1 223.9h0M445.0 226.1h0M445.5 226.0h0M445.7 226.2h0M445.6 223.4h0M446.1 226.2h0M446.1 225.6h0M446.0 223.0h0M446.7 224.7h0M446.4 224.6h0M446.5 224.5h0M447.0 227.6h0M446.9 223.5h0M446.8 226.3h0M447.4 225.0h0M447.6 224.6h0M447.3 227.6h0M448.2 226.4h0M447.9 225.9h0M448.1 229.3h0M448.6 229.3h0M448.6 229.1h0M448.7 224.5h0M449.1 230.0h0M449.2 226.0h0M449.2 230.3h0M449.3 228.5h0M449.5 226.7h0M449.4 227.5h0M450.2 227.8h0M449.8 230.5h0M450.0 229.0h0M450.6 228.9h0M450.7 232.8h0M450.3 228.4h0M451.2 232.5h0M450.8 229.7h0M451.1 231.8h0M451.5 228.3h0M451.4 233.4h0M451.5 233.0h0M451.8 228.4h0M452.2 233.4h0M451.9 232.3h0M452.7 230.4h0M452.3 232.3h0M452.6 231.9h0M453.0 234.6h0M453.1 232.3h0M453.0 236.1h0M453.7 236.8h0M453.6 229.8h0M453.6 233.3h0M453.9 232.9h0M454.0 237.6h0M454.2 232.1h0M454.5 239.3h0M454.7 234.4h0M454.6 234.5h0M454.9 240.0h0M455.1 241.2h0M454.9 240.6h0M455.7 240.6h0M455.4 241.7h0M455.4 240.2h0M456.2 237.8h0M456.0 237.5h0M455.8 239.6h0M456.5 245.0h0M456.3 240.5h0M456.7 242.9h0M456.8 244.3h0M457.1 244.6h0M457.2 246.4h0M457.3 244.1h0M457.7 249.8h0M457.7 246.4h0M458.0 244.2h0M458.1 250.8h0M457.9 244.6h0M458.5 248.1h0M458.4 250.5h0M458.3 250.5h0M459.0 248.2h0M459.0 248.4h0M458.9 250.8h0M459.7 243.4h0M459.5 245.0h0M459.5 243.4h0M460.2 248.4h0M460.0 245.1h0M460.0 247.2h0M460.5 243.7h0M460.3 249.4h0M460.4 243.6h0M461.2 245.3h0M460.8 242.6h0M460.9 245.2h0M461.6 246.7h0M461.7 243.1h0M461.4 242.6h0M461.8 243.1h0M461.8 249.0h0M462.0 246.6h0M462.5 246.3h0M462.6 246.7h0M462.7 249.3h0M463.0 247.3h0M463.1 248.8h0M463.2 245.7h0M463.3 245.7h0M463.4 244.2h0M463.3 248.0h0M463.8 243.2h0M464.0 244.0h0M464.1 244.5h0M464.7 245.1h0M464.3 246.2h0M464.5 245.9h0M464.9 242.1h0M465.2 242.7h0M464.8 245.1h0M465.3 248.0h0M465.4 245.6h0M465.5 247.9h0M466.2 243.0h0M466.2 246.5h0M465.9 244.7h0M466.4 245.6h0M466.5 248.2h0M466.7 245.2h0M466.9 243.2h0M467.0 242.4h0M466.8 243.6h0M467.7 244.0h0M467.3 245.6h0M467.3 244.0h0M467.9 243.3h0M468.1 244.2h0M468.1 243.2h0M468.6 243.2h0M468.7 247.7h0M468.3 245.3h0M469.2 245.9h0M468.8 243.4h0M469.0 243.9h0M469.5 247.8h0M469.7 246.7h0M469.7 243.3h0M470.2 245.4h0M469.9 243.0h0M470.2 245.0h0M470.6 245.7h0M470.6 245.8h0M470.7 247.2h0M470.9 243.9h0M471.2 245.4h0M471.2 242.8h0M471.4 246.7h0M471.5 246.4h0M471.6 245.6h0M471.9 248.7h0M472.1 247.3h0M472.2 243.4h0M472.6 244.8h0M472.7 248.0h0M472.6 248.8h0M473.1 248.3h0M473.2 249.4h0M473.2 249.4h0M476.2 241.6h0M475.9 238.8h0M476.0 239.0h0M476.6 239.4h0M476.5 243.8h0M476.7 239.2h0M477.2 241.3h0M476.8 241.6h0M477.2 237.2h0M477.3 237.3h0M477.5 240.7h0M477.5 242.6h0M477.8 238.8h0M477.9 239.1h0M477.9 243.7h0M478.7 240.7h0M478.6 242.6h0M478.4 242.1h0M479.0 237.1h0M479.2 242.9h0M479.1 241.7h0M479.3 240.5h0M479.3 238.7h0M479.4 238.7h0M479.8 244.1h0M480.2 239.4h0M480.0 241.3h0M480.3 237.9h0M480.7 243.5h0M480.3 243.5h0M481.2 241.2h0M480.8 236.7h0M481.1 244.1h0M481.7 236.6h0M481.3 236.3h0M481.6 240.8h0M482.1 243.6h0M482.2 238.4h0M482.1 239.3h0M482.7 238.9h0M482.5 239.6h0M482.7 237.8h0M483.2 241.3h0M482.9 239.3h0M482.8 238.9h0M483.6 238.2h0M483.5 238.8h0M483.5 243.1h0M483.8 236.6h0M484.1 242.8h0M483.8 240.9h0M484.7 240.7h0M484.7 238.1h0M484.7 241.1h0M485.2 237.9h0M485.2 239.3h0M484.8 241.7h0M485.7 239.8h0M485.4 243.1h0M485.6 243.0h0M486.2 239.4h0M485.8 235.1h0M486.2 236.4h0M486.6 240.3h0M486.3 242.5h0M486.5 236.4h0M486.9 240.1h0M486.8 241.6h0M486.8 237.5h0M487.6 240.0h0M487.4 236.2h0M487.3 235.9h0M488.1 235.5h0M487.8 235.6h0M487.9 235.8h0M488.6 238.7h0M488.3 238.2h0M488.4 236.7h0M489.0 239.7h0M488.8 238.8h0M488.9 234.7h0M489.7 240.0h0M489.4 233.8h0M489.3 240.3h0M489.8 233.5h0M489.9 233.9h0M489.9 235.9h0M490.7 232.9h0M490.4 235.1h0M490.7 237.9h0M491.1 236.4h0M490.8 233.0h0M491.2 235.0h0M491.5 233.7h0M491.4 238.2h0M491.3 238.3h0M492.2 237.6h0M492.0 238.3h0M491.9 233.2h0M492.6 235.8h0M492.3 230.4h0M492.7 231.2h0M493.2 232.9h0M493.1 231.7h0M492.8 236.0h0M493.4 234.8h0M493.4 229.3h0M493.5 237.3h0M494.0 231.3h0M493.8 229.1h0M494.1 229.1h0M494.3 231.4h0M494.4 228.6h0M494.6 233.2h0M495.2 235.5h0M495.1 235.5h0M495.1 235.5h0M495.4 234.6h0M495.7 236.6h0M495.6 229.9h0M496.2 234.0h0M496.2 236.1h0M496.2 231.3h0M496.4 229.3h0M496.3 238.1h0M496.7 234.2h0M497.1 235.3h0M496.9 231.9h0M497.1 234.8h0M497.4 231.1h0M497.4 231.2h0M497.7 229.9h0M498.2 230.3h0M498.0 237.8h0M497.9 236.1h0M498.3 237.9h0M498.4 237.8h0M498.5 231.7h0M499.0 238.7h0M498.8 235.0h0M499.1 237.6h0M499.3 232.8h0M499.3 238.0h0M499.3 239.6h0M500.1 233.6h0M499.8 232.5h0M499.9 231.7h0M500.4 239.4h0M500.4 231.8h0M500.5 235.7h0M501.1 238.8h0M501.2 235.0h0M500.9 238.2h0M501.5 236.0h0M501.3 233.8h0M501.7 235.5h0M501.9 236.7h0M502.1 239.8h0M502.1 240.0h0M502.5 242.5h0M502.4 240.6h0M502.5 236.6h0M503.1 239.1h0M502.8 238.0h0M503.2 241.9h0M503.7 239.3h0M503.3 238.4h0M503.7 239.7h0M504.0 238.9h0M504.0 240.9h0M504.2 241.7h0M504.4 244.1h0M504.3 238.4h0M504.7 237.8h0M505.0 243.7h0M505.1 238.6h0M504.8 238.1h0M512.3 224.9h0M512.6 231.3h0M512.3 226.9h0M513.0 224.9h0M513.0 230.5h0M512.9 224.9h0M513.6 228.7h0M513.6 229.0h0M513.3 226.3h0M514.2 228.9h0M514.1 228.2h0M514.0 228.9h0M514.7 233.3h0M514.4 228.4h0M514.6 226.9h0M515.0 232.0h0M515.0 231.0h0M515.0 229.7h0M515.3 227.8h0M515.3 231.2h0M515.4 226.3h0M515.8 230.2h0M516.0 228.3h0M516.0 229.9h0M516.4 230.0h0M516.7 230.7h0M516.5 232.7h0M517.0 229.7h0M517.1 228.6h0M516.9 233.2h0M517.3 230.4h0M517.3 234.4h0M517.4 233.2h0M517.8 231.9h0M517.9 235.7h0M518.2 231.1h0M518.6 229.8h0M518.4 234.3h0M518.6 233.7h0M518.9 230.0h0M518.8 233.6h0M519.0 233.8h0M519.3 231.5h0M519.4 227.8h0M519.3 225.5h0M519.9 227.6h0M519.8 225.0h0M519.9 231.4h0M520.7 231.7h0M520.6 223.6h0M520.6 229.8h0M520.8 226.0h0M521.1 224.1h0M521.0 228.5h0M521.7 226.4h0M521.4 229.6h0M521.4 225.1h0M522.2 228.2h0M522.2 225.1h0M522.2 227.9h0M522.4 221.8h0M522.4 227.6h0M522.5 223.9h0M523.2 221.8h0M522.9 228.0h0M523.1 219.6h0M523.5 222.4h0M523.6 220.6h0M523.5 226.5h0M523.9 221.3h0M523.9 218.8h0M524.2 220.2h0M524.6 223.8h0M524.3 220.4h0M524.7 223.8h0M525.2 220.1h0M524.9 224.8h0M524.9 227.7h0M525.4 227.1h0M525.3 222.9h0M525.7 225.2h0M525.8 218.1h0M526.1 222.9h0M526.1 219.7h0M526.5 224.7h0M526.5 222.8h0M526.3 227.7h0M527.0 220.2h0M527.1 220.1h0M526.8 220.7h0M527.3 226.5h0M527.6 218.9h0M527.7 228.0h0M528.0 227.8h0M528.1 227.7h0M528.2 228.0h0M528.4 227.4h0M528.7 223.1h0M528.7 221.5h0M529.1 219.5h0M529.1 225.4h0M529.2 227.6h0M529.3 227.6h0M529.7 220.6h0M529.5 220.9h0M530.2 224.5h0M530.1 225.9h0M529.9 222.1h0M530.3 224.3h0M530.3 228.5h0M530.4 228.6h0M530.9 221.0h0M531.0 224.2h0M531.1 222.0h0M531.3 228.6h0M531.7 227.6h0M531.3 228.5h0M532.2 221.6h0M532.2 229.2h0M532.2 223.8h0M532.7 229.4h0M532.5 227.8h0M532.3 225.6h0M533.1 222.5h0M533.0 226.0h0M533.2 227.6h0M538.1 223.5h0M537.8 216.5h0M537.8 223.4h0M538.4 224.4h0M538.6 218.5h0M538.4 224.0h0M538.8 222.1h0M538.8 217.7h0M538.9 218.6h0M539.4 225.5h0M539.3 225.4h0M539.6 223.5h0M540.2 215.0h0M540.0 220.6h0M540.0 223.5h0M539.7 216.5h0M540.4 215.8h0M541.1 216.6h0M540.8 216.5h0M541.3 216.4h0M542.1 216.6h0M543.1 216.6h0M542.4 217.0h0M543.5 217.4h0M543.6 217.4h0M544.5 217.6h0M544.2 218.6h0M544.4 218.4h0M545.7 219.3h0M545.8 219.0h0M545.8 219.3h0M546.7 219.4h0M546.6 219.4h0M547.1 220.7h0M547.4 221.0h0M548.1 220.3h0M548.6 220.9h0M549.0 220.6h0M549.9 220.2h0M549.6 220.6h0M550.6 221.2h0M550.8 220.8h0M551.4 220.8h0M551.9 221.6h0M552.1 220.6h0M552.8 220.8h0M552.9 221.7h0M552.9 221.4h0M553.5 221.5h0M553.7 221.2h0M555.2 221.6h0M555.7 221.9h0M555.8 222.0h0M556.2 222.2h0M556.4 221.9h0M556.6 222.0h0M557.2 222.1h0M558.2 222.0h0M557.6 222.7h0M558.9 223.1h0M558.6 222.9h0M560.0 223.2h0M560.1 223.8h0M560.3 223.2h0M561.2 223.8h0M561.1 223.9h0M561.5 223.7h0M561.9 223.9h0M562.4 224.8h0M563.3 224.5h0M562.9 224.5h0M563.9 225.4h0M564.8 224.8h0M564.7 225.3h0M565.7 225.2h0M566.1 224.8h0M566.7 225.5h0M566.6 225.5h0M567.5 225.1h0M567.7 225.9h0M567.6 225.7h0M568.3 225.4h0M569.0 225.1h0M569.6 226.2h0M569.9 225.7h0M569.9 225.6h0M571.1 226.6h0M570.4 227.1h0M571.1 226.4h0M571.9 227.6h0M572.0 226.9h0M572.6 227.3h0M572.8 227.3h0M572.8 228.2h0M573.2 227.8h0M573.7 228.7h0M574.8 228.6h0M574.5 229.4h0M575.7 229.3h0M575.7 228.7h0M575.6 229.4h0M576.8 228.7h0M576.9 228.3h0M577.1 228.4h0M577.3 228.4h0M578.1 227.6h0M579.1 227.8h0M578.8 228.0h0M580.0 227.3h0M579.4 227.6h0M580.0 226.9h0M581.2 227.0h0M580.8 227.3h0M581.4 227.0h0M582.0 226.5h0M582.5 226.6h0M583.1 226.3h0M583.4 226.5h0M583.5 226.3h0M583.6 225.4h0M584.7 225.3h0M585.5 224.9h0M585.8 224.7h0M585.6 224.5h0M586.2 224.8h0M586.7 225.2h0M587.4 224.8h0M587.2 223.7h0M587.4 223.8h0M588.4 224.2h0M588.5 224.1h0M588.5 223.1h0M588.9 223.2h0M590.3 223.0h0M590.3 223.3h0M590.4 222.4h0M590.6 222.9h0M591.5 222.2h0M592.4 222.5h0M592.2 221.9h0M592.5 222.4h0M593.7 221.6h0M593.7 221.7h0M594.4 222.3h0M595.0 221.4h0M595.0 220.8h0M595.8 220.7h0M595.8 221.4h0M596.6 221.4h0M597.2 221.2h0M597.5 220.9h0M597.6 220.5h0M597.8 220.0h0M598.6 220.0h0M598.6 219.9h0M599.8 219.5h0M599.6 218.6h0M600.3 219.1h0M600.5 218.2h0M601.2 218.6h0M601.2 218.2h0M601.3 218.0h0M601.9 217.6h0M602.6 217.5h0M602.0 216.4h0M602.7 215.7h0M603.6 215.9h0M603.8 215.5h0M604.1 215.5h0M604.5 215.5h0M604.5 214.8h0M605.1 215.3h0M604.6 215.6h0M605.7 215.1h0M605.7 216.4h0M606.4 216.3h0M606.5 217.1h0M606.4 217.5h0M607.4 217.2h0M606.8 218.4h0M607.4 218.4h0M607.9 218.7h0M608.3 219.0h0M609.0 218.9h0M608.2 219.7h0M608.8 219.5h0M609.5 220.1h0M609.5 219.6h0M610.2 219.9h0M611.0 219.8h0M611.3 220.1h0M611.4 219.2h0M612.4 219.9h0M612.7 219.4h0M612.7 219.4h0M614.0 219.8h0M614.6 218.9h0M614.4 218.8h0M614.9 219.7h0M615.2 219.5h0M616.3 219.5h0M616.0 218.6h0M617.5 219.0h0M617.8 219.7h0M618.5 219.6h0M618.6 219.4h0M618.7 219.3h0M619.3 218.9h0M619.4 219.4h0M619.6 219.6h0M620.2 219.1h0M621.2 218.7h0M621.2 219.8h0M622.2 218.8h0M623.1 218.9h0M623.4 219.3h0M623.0 219.4h0M624.2 219.2h0M624.2 219.4h0M624.5 218.7h0M624.8 219.7h0M625.4 219.5h0M626.3 219.8h0M626.3 220.5h0M627.0 220.7h0M626.3 221.1h0M626.7 221.3h0M627.4 222.8h0M627.2 222.3h0M627.8 222.6h0M628.0 222.8h0M629.0 223.9h0M628.6 224.2h0M629.8 223.7h0M629.7 224.7h0M630.5 225.4h0M630.5 225.2h0M631.5 225.2h0M631.2 226.2h0M631.2 225.6h0M631.4 226.5h0M632.7 227.3h0M632.0 227.6h0M632.0 227.4h0M632.9 227.7h0M632.9 228.2h0M632.5 229.7h0M633.6 229.7h0M633.6 230.0h0M633.6 230.2h0M633.6 231.2h0M633.9 231.0h0M634.8 231.4h0M634.8 232.1h0M635.1 232.8h0M635.2 232.4h0M636.1 232.6h0M636.3 234.0h0M636.3 233.4h0M636.4 234.8h0M636.1 234.0h0M637.4 235.2h0M637.0 234.8h0M636.9 235.5h0M638.0 236.7h0M638.0 236.4h0M637.6 236.8h0M638.4 237.4h0M638.4 238.2h0M638.9 238.4h0M639.0 238.0h0M639.6 238.8h0M640.0 238.3h0M640.5 239.1h0M641.2 239.2h0M640.8 239.7h0M641.9 240.2h0M642.1 240.9h0M641.9 240.7h0M643.0 241.5h0M643.4 241.9h0M643.3 241.8h0M643.8 242.3h0M644.6 242.3h0M644.3 242.4h0M645.2 242.9h0M644.8 243.2h0M646.2 243.8h0M646.0 244.0h0M647.0 244.3h0M647.1 243.9h0M646.7 243.9h0M647.4 244.8h0M648.4 245.4h0M648.2 245.1h0M648.4 245.5h0M649.4 246.4h0M649.5 246.1h0M649.5 246.4h0M650.4 247.2h0M651.0 246.9h0M650.6 248.0h0M651.5 247.5h0M651.9 248.1h0M651.6 248.2h0M652.0 248.8h0M652.0 249.6h0M652.6 249.9h0M653.1 249.1h0M653.5 250.0h0M654.2 250.4h0M654.2 250.9h0M654.3 251.3h0M655.3 251.4h0M655.3 251.1h0M655.8 251.9h0M655.3 252.7h0M656.3 252.7h0M656.6 252.4h0M656.6 253.8h0M657.2 253.0h0M657.5 254.2h0M657.9 254.2h0M658.0 254.7h0M658.2 255.3h0M658.9 255.1h0M659.1 255.4h0M659.2 255.3h0M659.1 255.6h0M660.2 256.0h0M659.9 257.3h0M660.8 256.7h0M661.0 258.1h0M661.8 258.1h0M661.4 258.4h0M662.3 258.7h0M662.4 259.1h0M662.6 259.5h0M662.5 259.5h0M662.5 260.5h0M663.3 260.4h0M664.1 261.2h0M663.9 261.2h0M663.7 261.3h0M664.3 261.6h0M665.3 261.7h0M665.0 262.8h0M665.9 263.0h0M666.2 263.3h0M665.6 264.0h0M666.8 264.1h0M667.1 263.8h0M666.3 265.1h0M667.8 264.8h0M668.0 265.3h0M667.8 266.3h0M668.2 265.8h0M668.5 266.0h0M668.6 267.2h0M669.1 266.7h0M669.0 267.5h0M669.0 268.1h0M670.1 268.7h0M670.4 268.8h0M669.5 268.7h0M669.8 269.2h0M670.0 269.6h0M670.8 269.7h0M671.1 270.9h0M671.0 271.7h0M671.9 271.7h0M671.3 271.4h0M672.3 272.3h0M672.6 272.2h0M672.6 273.6h0M672.1 273.7h0M673.0 273.5h0M672.6 274.9h0M673.8 274.7h0M672.9 275.4h0M673.8 275.5h0M674.3 276.0h0M674.4 275.9h0M674.8 276.5h0M674.0 277.2h0M674.3 277.1h0M675.4 277.9h0M675.0 279.0h0M676.0 278.3h0M676.2 279.6h0M676.1 280.2h0M675.6 280.3h0M676.1 280.6h0M677.2 281.2h0M676.8 280.8h0M677.8 280.7h0M677.6 281.3h0M678.4 282.1h0M678.9 282.7h0M678.1 282.0h0M678.9 282.9h0M679.9 283.0h0M680.0 282.9h0M679.9 283.6h0M680.1 283.6h0M681.1 284.1h0M680.4 284.7h0M681.1 285.7h0M681.6 286.0h0M681.8 285.9h0M682.2 285.8h0M682.6 287.0h0M683.2 286.5h0M682.5 287.5h0M683.3 287.3h0M683.4 287.2h0M683.9 288.3h0M683.8 287.8h0M685.1 288.4h0M685.1 289.6h0M684.7 289.9h0M684.9 290.2h0M685.2 290.4h0M685.8 290.6h0M686.2 291.4h0M685.9 291.6h0M686.5 291.8h0M687.3 291.7h0M687.1 292.9h0M687.3 293.4h0M687.8 293.3h0M687.8 293.6h0M688.1 293.8h0M688.2 295.0h0M688.7 295.1h0M689.0 294.8h0M688.6 295.9h0M689.0 295.6h0M689.2 297.0h0M689.4 296.7h0M690.4 297.1h0M689.8 298.2h0M690.2 297.8h0M689.9 298.4h0M691.0 299.1h0M691.2 299.7h0M690.9 299.7h0M691.2 300.1h0M691.2 300.0h0M692.0 300.6h0M692.6 301.6h0M692.5 301.9h0M693.0 301.4h0M693.4 302.7h0M693.4 302.6h0M693.1 302.9h0M693.6 303.5h0M693.8 304.3h0M693.9 304.0h0M694.6 305.0h0M694.2 304.5h0M695.3 305.5h0M695.3 305.6h0M695.4 306.0h0M695.2 306.0h0M696.0 306.6h0M695.9 307.1h0M696.3 307.6h0M697.2 308.3h0M696.7 307.9h0M697.6 308.8h0M697.5 308.9h0M697.4 310.0h0M697.9 309.9h0M697.7 310.7h0M698.6 310.5h0M698.8 311.3h0M698.5 311.7h0M699.3 311.8h0M699.6 311.9h0M700.1 313.2h0M699.9 312.7h0M700.4 313.4h0M699.9 313.9h0M700.6 313.9h0M701.3 314.6h0M701.1 314.4h0M701.1 315.1h0M702.0 315.5h0M701.4 315.9h0M702.4 316.1h0M702.1 317.0h0M703.1 317.7h0M702.5 317.4h0M703.5 318.0h0M703.8 318.5h0M704.0 318.2h0M704.3 319.6h0M704.7 320.1h0M704.3 319.7h0M704.2 320.2h0M705.4 321.2h0M705.7 321.6h0M705.5 321.2h0M705.5 322.1h0M706.0 321.7h0M706.6 322.5h0M705.9 323.2h0M706.4 323.5h0M706.6 324.3h0M707.1 324.0h0M707.6 324.0h0M707.2 324.8h0M708.2 325.7h0M707.8 326.2h0M708.2 326.2h0M709.0 326.5h0M709.0 326.6h0M709.3 327.5h0M708.7 327.3h0M709.4 328.2h0M709.2 329.1h0M710.0 329.4h0M710.4 328.8h0M710.5 329.5h0M710.8 330.7h0M710.3 330.1h0M711.4 330.9h0M711.3 331.0h0M711.9 331.2h0M711.7 332.3h0M711.9 332.5h0M712.7 333.2h0M712.4 333.0h0M712.1 334.0h0M713.1 334.3h0M713.3 334.5h0M713.6 334.9h0M713.0 335.8h0M713.5 335.2h0M713.6 336.7h0M713.8 335.9h0M714.8 336.4h0M714.3 337.4h0M714.7 337.5h0M714.7 337.8h0M715.2 338.3h0M715.9 338.7h0M715.2 339.2h0M716.4 339.9h0M716.3 339.8h0M716.0 340.9h0M716.1 341.3h0M717.1 341.0h0M717.6 341.2h0M717.0 342.0h0M717.1 342.5h0M717.5 342.5h0M718.2 343.8h0M718.2 343.5h0M718.8 343.9h0M718.7 344.2h0M719.2 345.1h0M718.6 345.5h0M719.1 345.7h0M719.3 346.0h0M719.3 345.9h0M719.7 347.3h0M720.4 347.6h0M720.0 348.2h0M720.9 348.6h0M720.9 348.2h0M721.5 348.8h0M720.8 349.0h0M721.1 349.4h0M721.9 350.5h0M721.9 350.1h0M722.1 351.0h0M722.3 351.2h0M722.5 352.0h0M722.5 351.6h0M722.7 352.5h0M723.2 352.4h0M723.8 353.8h0M723.9 353.3h0M723.9 354.1h0M724.0 355.0h0M724.3 354.4h0M724.3 355.5h0M724.6 356.0h0M724.8 356.3h0M725.3 355.9h0M724.7 356.7h0M725.8 357.8h0M725.7 357.8h0M726.0 358.0h0M726.1 358.8h0M725.9 358.6h0M726.6 359.4h0M726.3 359.9h0M726.8 360.6h0M727.0 361.1h0M727.0 360.9h0M727.0 361.1h0M727.8 361.7h0M727.8 362.7h0M728.6 362.5h0M728.0 362.6h0M728.5 363.6h0M728.6 364.0h0M729.4 363.8h0M728.9 364.6h0M729.4 364.7h0M729.4 365.8h0M730.4 365.8h0M730.2 365.8h0M729.8 366.1h0M729.9 366.9h0M730.3 367.3h0M730.6 367.6h0M730.7 368.3h0M731.6 368.2h0M731.7 369.3h0M731.5 369.5h0M732.6 369.9h0M731.8 369.7h0M733.0 370.9h0M732.2 371.0h0M733.0 371.8h0M732.6 371.4h0M733.1 372.4h0M733.3 373.1h0M734.0 373.0h0M734.4 372.8h0M734.7 373.6h0M734.6 374.1h0M734.8 374.1h0M734.8 374.5h0M734.7 374.9h0M735.2 375.9h0M735.3 376.4h0M736.0 376.9h0M735.5 377.5h0M736.4 377.2h0M736.9 377.6h0M737.1 378.2h0M736.4 379.0h0M737.2 379.0h0M736.7 379.5h0M737.1 379.9h0M737.6 380.3h0M737.7 380.7h0M738.4 381.3h0M737.8 381.4h0M738.0 382.0h0M738.5 381.7h0M738.8 383.2h0M739.6 383.0h0M738.9 383.5h0M739.1 383.3h0M740.1 384.5h0M740.3 384.2h0M740.6 385.4h0M740.3 385.8h0M740.3 385.9h0M741.3 386.3h0M741.2 386.9h0M741.3 386.7h0M741.6 387.2h0M741.2 387.3h0M742.0 387.8h0M742.6 388.5h0M741.9 388.5h0M743.1 389.2h0M742.9 390.0h0M743.0 390.7h0M743.7 391.2h0M742.9 390.7h0M743.5 390.9h0M744.2 392.0h0M744.2 392.2h0M590.2 231.5h0"/>
<path stroke="#ff00ff" d="M160.9 387.7h0M160.8 385.1h0M161.1 386.8h0M161.3 383.5h0M161.3 385.8h0M161.3 384.9h0M161.9 383.4h0M161.9 385.1h0M162.0 384.6h0M162.3 384.5h0M162.6 382.8h0M162.5 382.9h0M163.2 383.8h0M163.0 383.2h0M163.0 386.8h0M163.7 386.7h0M163.7 382.7h0M163.7 382.9h0M164.2 387.7h0M164.1 385.7h0M164.1 383.1h0M164.7 383.0h0M164.4 384.0h0M164.6 384.6h0M164.9 385.1h0M165.1 386.8h0M165.2 384.0h0M165.3 382.9h0M165.3 386.3h0M165.3 386.4h0M165.8 386.0h0M165.9 385.7h0M166.1 385.8h0M166.3 382.4h0M166.4 387.1h0M166.5 383.7h0M167.0 386.6h0M166.9 382.9h0M167.2 384.5h0M167.5 383.8h0M167.4 386.7h0M167.7 383.5h0M168.1 387.0h0M168.0 387.3h0M167.8 386.6h0M168.7 383.4h0M168.4 383.5h0M168.3 386.4h0M169.1 386.2h0M169.1 383.4h0M168.8 383.4h0M169.6 382.1h0M169.5 383.7h0M169.4 383.7h0M170.0 382.8h0M169.8 386.5h0M170.1 383.8h0M170.4 385.0h0M170.7 386.1h0M170.5 385.3h0M170.9 385.6h0M171.0 381.9h0M171.1 386.5h0M171.5 382.6h0M171.4 382.8h0M171.7 385.7h0M171.9 383.3h0M171.8 384.1h0M172.2 385.8h0M172.7 382.0h0M172.7 386.6h0M172.7 382.3h0M173.2 386.9h0M173.1 384.4h0M172.9 386.4h0M173.5 383.2h0M173.3 381.6h0M173.6 383.1h0M173.8 383.1h0M174.0 386.1h0M174.0 382.1h0M174.7 385.1h0M174.5 386.3h0M174.5 383.5h0M174.8 385.2h0M175.1 386.6h0M174.8 383.6h0M175.5 383.5h0M175.3 385.8h0M175.3 384.8h0M175.9 383.5h0M176.2 382.3h0M176.0 382.7h0M176.6 384.2h0M176.6 381.6h0M176.6 384.8h0M176.8 386.5h0M177.2 385.5h0M177.1 383.9h0M177.7 381.9h0M177.6 386.5h0M177.3 384.7h0M178.2 381.7h0M178.0 386.0h0M177.9 382.1h0M178.6 385.4h0M178.7 384.6h0M178.3 385.5h0M178.9 384.0h0M179.1 386.4h0M179.0 381.6h0M179.5 383.9h0M179.6 381.8h0M179.5 381.0h0M180.2 380.8h0M180.0 381.7h0M179.9 383.0h0M180.4 382.1h0M180.4 383.5h0M180.7 381.8h0M180.8 380.8h0M181.2 385.1h0M181.2 381.4h0M181.5 384.4h0M181.5 384.8h0M181.3 385.8h0M182.0 384.0h0M182.0 383.0h0M181.8 381.4h0M182.5 380.8h0M182.5 381.5h0M182.6 382.7h0M183.1 381.9h0M182.8 384.2h0M183.2 381.6h0M183.3 385.4h0M183.6 384.8h0M183.6 382.7h0M184.2 385.0h0M184.1 385.8h0M184.2 383.5h0M184.3 383.6h0M184.5 380.2h0M184.4 385.0h0M185.1 385.6h0M185.1 381.2h0M185.1 380.3h0M185.7 381.8h0M185.7 380.3h0M185.6 380.6h0M185.9 350.2h0M186.1 338.4h0M186.0 354.5h0M186.3 342.3h0M186.4 352.4h0M186.7 354.1h0M186.9 355.7h0M187.1 345.2h0M187.2 331.4h0M187.4 350.8h0M187.6 357.0h0M187.7 347.9h0M188.0 340.9h0M188.2 336.2h0M187.9 329.0h0M188.3 352.4h0M188.4 339.0h0M188.7 335.2h0M189.2 337.9h0M189.2 355.1h0M189.0 353.7h0M189.4 335.2h0M189.6 348.6h0M189.7 340.8h0M190.2 328.5h0M190.2 333.2h0M190.1 353.3h0M190.7 343.0h0M190.6 338.9h0M190.6 331.7h0M190.8 348.6h0M191.0 349.5h0M190.8 331.2h0M191.6 340.4h0M191.3 345.4h0M191.5 333.0h0M191.9 343.1h0M192.2 335.4h0M191.9 343.4h0M192.6 343.6h0M192.5 347.6h0M192.4 348.2h0M193.2 351.1h0M193.0 331.1h0M193.1 325.9h0M193.6 329.0h0M193.7 321.3h0M193.7 333.4h0M193.9 335.4h0M194.2 345.2h0M194.0 332.4h0M194.3 335.5h0M194.3 318.0h0M194.5 317.1h0M194.9 333.9h0M195.2 326.1h0M195.1 325.6h0M195.4 326.1h0M195.5 317.7h0M195.5 346.2h0M196.0 336.2h0M196.0 334.2h0M195.8 315.7h0M196.4 345.6h0M196.3 335.3h0M196.3 315.1h0M196.8 338.8h0M196.8 331.1h0M197.1 337.8h0M197.5 346.5h0M197.5 322.6h0M197.3 344.2h0M197.9 327.1h0M198.1 335.1h0M197.9 321.8h0M198.3 329.9h0M198.6 342.2h0M198.3 328.9h0M198.8 345.4h0M199.0 332.8h0M199.1 336.3h0M199.3 341.8h0M199.3 335.2h0M199.5 344.7h0M200.2 337.3h0M200.0 319.0h0M199.9 343.7h0M200.4 341.4h0M200.5 321.7h0M200.5 345.8h0M201.2 334.3h0M200.9 348.3h0M200.9 326.5h0M201.4 323.1h0M201.3 327.8h0M201.4 344.2h0M202.1 332.5h0M202.2 321.8h0M202.0 346.6h0M202.3 320.5h0M202.3 320.5h0M202.5 334.9h0M203.2 326.6h0M203.2 321.2h0M202.8 335.6h0M203.7 334.5h0M203.4 331.1h0M203.7 325.0h0M204.2 334.1h0M203.9 320.2h0M204.1 334.6h0M204.5 322.7h0M204.5 336.3h0M204.5 317.2h0M205.1 320.8h0M205.2 325.8h0M205.0 337.7h0M205.5 309.0h0M205.5 329.1h0M205.5 307.7h0M206.2 307.9h0M205.9 313.2h0M205.9 309.0h0M206.4 289.6h0M206.4 293.9h0M206.6 291.0h0M207.2 293.6h0M207.0 294.5h0M207.0 296.1h0M207.7 297.3h0M207.3 296.5h0M207.3 295.7h0M207.8 289.1h0M207.9 289.2h0M208.1 294.2h0M208.6 298.4h0M208.3 293.5h0M208.3 290.4h0M209.0 296.1h0M209.1 293.2h0M209.1 291.7h0M209.4 292.3h0M209.7 296.0h0M209.5 291.4h0M210.0 290.4h0M210.0 286.9h0M210.2 289.4h0M210.4 297.4h0M210.3 292.7h0M210.4 288.8h0M210.8 289.0h0M210.9 297.3h0M211.2 294.8h0M211.4 290.8h0M211.4 290.9h0M211.7 290.7h0M212.1 292.7h0M211.8 291.9h0M212.0 295.1h0M212.4 290.3h0M212.3 296.2h0M212.3 296.7h0M213.0 294.9h0M212.9 295.3h0M213.1 294.8h0M213.6 298.7h0M213.5 286.6h0M213.4 288.4h0M214.0 288.9h0M214.1 296.3h0M214.1 289.5h0M214.5 298.4h0M214.6 291.6h0M214.3 296.8h0M215.1 292.3h0M215.2 298.2h0M214.8 291.7h0M215.6 286.5h0M215.5 297.2h0M215.4 293.7h0M216.1 296.4h0M216.2 294.7h0M216.1 287.3h0M216.4 297.5h0M216.5 289.4h0M216.4 291.9h0M216.9 287.1h0M217.0 291.0h0M216.8 296.8h0M217.3 287.0h0M217.7 296.8h0M217.4 297.4h0M218.2 288.6h0M218.1 287.3h0M218.2 290.8h0M218.4 298.1h0M218.5 294.0h0M218.4 297.3h0M219.2 297.7h0M219.0 296.8h0M219.0 299.0h0M219.5 287.8h0M219.5 295.4h0M219.4 296.1h0M220.1 295.5h0M220.0 292.1h0M220.0 292.0h0M220.5 291.8h0M220.4 290.3h0M220.5 288.7h0M221.0 286.3h0M220.9 289.2h0M220.8 286.1h0M221.5 293.8h0M221.6 297.9h0M221.4 293.6h0M221.8 289.2h0M221.8 297.5h0M222.1 295.1h0M222.7 295.6h0M222.7 296.4h0M222.3 290.7h0M222.9 292.8h0M223.1 294.5h0M223.0 294.8h0M223.7 286.6h0M223.3 289.8h0M223.3 296.4h0M224.2 288.2h0M223.8 291.5h0M223.8 293.7h0M224.7 291.8h0M224.5 294.0h0M224.3 298.7h0M224.8 289.8h0M225.0 292.3h0M224.8 289.4h0M225.6 289.9h0M225.3 295.4h0M225.3 288.2h0M225.8 298.9h0M226.0 291.7h0M226.1 293.5h0M226.7 288.2h0M226.4 292.4h0M226.4 294.4h0M226.9 285.8h0M227.0 286.9h0M227.1 295.2h0M227.6 287.9h0M227.5 287.7h0M227.6 285.2h0M228.2 298.7h0M228.2 294.8h0M228.1 291.5h0M228.5 292.2h0M228.4 292.7h0M228.3 286.1h0M228.9 298.5h0M229.1 297.9h0M229.1 295.8h0M229.5 293.6h0M229.3 286.4h0M229.3 291.1h0M229.8 287.3h0M229.8 298.2h0M229.9 288.2h0M230.7 290.7h0M230.4 286.4h0M230.7 285.2h0M230.8 285.7h0M231.1 288.9h0M230.8 286.0h0M231.5 286.4h0M231.6 283.5h0M231.6 284.1h0M231.8 278.3h0M231.8 283.2h0M231.8 279.0h0M232.7 284.7h0M232.5 277.8h0M232.4 278.9h0M232.9 281.7h0M233.2 278.1h0M233.1 278.2h0M233.3 281.8h0M233.7 279.5h0M233.6 285.4h0M234.0 280.4h0M233.9 284.0h0M234.1 283.1h0M234.6 283.0h0M234.5 286.1h0M234.3 277.5h0M235.0 285.7h0M235.0 285.6h0M235.0 282.0h0M235.6 285.9h0M235.5 281.1h0M235.7 280.9h0M236.1 282.4h0M236.0 277.6h0M236.1 283.0h0M236.7 285.4h0M236.6 282.6h0M236.6 279.0h0M236.8 283.7h0M236.9 281.0h0M236.8 278.9h0M237.5 281.1h0M237.7 282.5h0M237.4 280.3h0M237.8 285.0h0M237.8 284.5h0M237.8 278.4h0M238.4 279.9h0M238.3 281.1h0M238.3 277.6h0M238.8 280.0h0M238.8 283.5h0M239.0 285.6h0M239.3 283.5h0M239.3 287.0h0M239.3 279.4h0M240.2 286.1h0M240.2 277.1h0M239.8 277.2h0M240.5 286.7h0M240.3 280.3h0M240.5 282.8h0M241.2 280.0h0M240.9 284.3h0M240.9 280.3h0M241.5 279.1h0M241.4 287.4h0M241.3 279.2h0M242.1 280.1h0M242.0 284.4h0M241.8 278.8h0M242.4 284.7h0M242.6 287.7h0M242.4 282.4h0M242.8 287.5h0M243.1 284.0h0M242.8 285.8h0M243.7 278.5h0M243.3 286.5h0M243.5 285.3h0M244.2 285.5h0M243.8 278.9h0M244.1 283.9h0M244.7 285.2h0M244.4 283.9h0M244.6 287.7h0M245.2 283.1h0M245.0 284.6h0M245.0 282.3h0M245.3 279.6h0M245.5 282.2h0M245.5 285.7h0M245.8 280.8h0M246.1 281.3h0M245.9 287.6h0M246.3 282.1h0M246.3 288.6h0M246.7 287.8h0M247.0 284.5h0M247.1 286.1h0M247.1 287.6h0M247.6 279.5h0M247.6 283.1h0M247.5 286.6h0M248.2 285.9h0M248.1 289.3h0M247.8 286.4h0M248.3 284.9h0M248.4 283.0h0M248.7 282.6h0M249.2 285.9h0M249.2 285.9h0M249.1 285.1h0M249.7 279.8h0M249.3 281.9h0M249.7 289.5h0M249.8 282.9h0M250.0 282.3h0M249.9 281.8h0M250.2 281.4h0M250.0 288.6h0M250.4 284.5h0M250.3 281.4h0M251.0 286.6h0M250.9 289.6h0M251.5 290.6h0M251.5 286.5h0M252.1 287.2h0M252.0 287.0h0M252.4 288.3h0M252.6 287.0h0M252.9 284.8h0M252.9 281.6h0M253.5 290.1h0M253.5 291.2h0M254.0 281.9h0M254.1 281.8h0M254.4 291.7h0M254.7 285.7h0M254.8 282.7h0M254.8 284.2h0M255.7 285.3h0M255.7 291.3h0M256.2 284.9h0M256.1 288.6h0M256.3 289.7h0M256.6 282.5h0M257.0 284.4h0M257.0 283.7h0M257.3 281.1h0M257.6 284.2h0M257.9 287.9h0M258.1 285.4h0M258.7 282.3h0M258.4 289.6h0M259.0 282.1h0M259.1 281.3h0M259.7 284.1h0M259.6 284.7h0M260.0 283.5h0M260.2 284.4h0M260.3 291.2h0M260.6 283.7h0M261.0 284.7h0M260.8 289.4h0M261.6 289.4h0M261.3 284.0h0M262.1 280.5h0M262.1 283.5h0M262.3 283.5h0M262.7 283.7h0M262.9 280.3h0M262.9 280.1h0M263.3 287.2h0M263.6 283.9h0M264.2 285.2h0M264.0 285.0h0M264.7 285.3h0M264.5 282.3h0M265.0 286.4h0M265.0 290.6h0M265.3 283.1h0M265.3 282.0h0M266.2 289.6h0M265.9 284.7h0M266.4 275.0h0M266.3 283.3h0M267.0 285.4h0M267.1 276.1h0M267.3 283.2h0M267.4 284.0h0M268.0 283.3h0M267.8 276.2h0M268.7 271.4h0M268.5 276.1h0M269.2 271.4h0M269.1 270.9h0M269.5 272.9h0M269.3 278.9h0M270.0 277.6h0M270.2 267.9h0M270.7 281.3h0M270.5 266.4h0M270.9 267.5h0M270.8 270.2h0M271.5 267.3h0M271.7 273.2h0M271.9 265.9h0M272.0 278.6h0M272.7 275.6h0M272.5 265.8h0M272.9 281.5h0M272.8 278.9h0M273.6 276.3h0M273.5 271.9h0M274.1 277.1h0M274.0 265.2h0M274.5 269.3h0M274.3 273.6h0M274.9 281.4h0M274.9 279.3h0M275.3 273.9h0M275.4 265.4h0M275.8 274.3h0M276.2 265.3h0M276.3 278.3h0M276.6 276.1h0M277.0 268.7h0M277.0 265.4h0M277.7 264.6h0M277.3 273.5h0M277.8 269.9h0M278.1 271.4h0M278.6 268.7h0M278.7 265.6h0M279.1 267.7h0M279.0 269.3h0M279.3 280.5h0M279.6 277.6h0M279.8 275.7h0M280.1 267.2h0M280.3 275.7h0M280.5 270.0h0M281.2 278.5h0M280.9 276.6h0M281.3 268.7h0M281.3 275.2h0M281.8 272.2h0M281.9 267.5h0M282.6 267.6h0M282.6 273.7h0M283.2 266.6h0M282.8 276.2h0M283.4 276.9h0M283.4 264.9h0M284.2 276.4h0M284.2 280.5h0M284.3 264.2h0M284.4 267.7h0M285.1 275.1h0M284.9 275.0h0M285.4 279.5h0M285.7 264.9h0M286.0 265.7h0M286.2 279.8h0M286.6 276.2h0M286.3 269.2h0M287.2 269.0h0M287.2 271.2h0M287.7 279.4h0M287.7 278.8h0M287.9 264.8h0M288.1 278.0h0M288.5 269.0h0M288.6 279.4h0M288.8 276.7h0M289.1 274.8h0M289.6 272.5h0M289.7 272.6h0M290.2 278.9h0M289.8 273.1h0M290.7 267.9h0M290.3 268.4h0M291.0 265.3h0M291.2 260.7h0M291.4 274.7h0M291.4 263.2h0M291.9 262.8h0M292.1 275.1h0M292.4 274.3h0M292.7 265.9h0M292.9 274.2h0M292.9 270.5h0M293.7 267.7h0M293.4 267.3h0M294.0 265.4h0M293.9 256.8h0M294.7 255.8h0M294.6 261.1h0M294.9 255.9h0M295.0 258.8h0M295.3 264.5h0M295.4 260.4h0M295.9 261.9h0M296.1 272.1h0M296.5 259.2h0M296.3 267.2h0M296.8 255.4h0M297.0 261.8h0M297.3 251.5h0M297.3 256.7h0M298.2 266.7h0M297.9 269.2h0M298.5 261.7h0M298.6 252.3h0M298.8 266.3h0M298.9 264.1h0M299.5 255.1h0M299.7 261.5h0M299.8 253.7h0M299.9 266.9h0M241.3 297.1h0M246.4 300.2h0M235.3 304.3h0M248.0 304.7h0M242.4 303.2h0M236.1 297.8h0M239.1 298.3h0M298.9 282.1h0M262.7 296.8h0M277.0 297.5h0M266.9 276.4h0M275.8 272.5h0M255.9 281.1h0M260.4 285.5h0M263.4 289.0h0M299.8 249.6h0M299.8 246.5h0M300.0 252.3h0M300.3 250.3h0M300.4 249.1h0M300.5 250.4h0M301.1 251.5h0M300.9 247.4h0M300.8 247.1h0M301.6 249.4h0M301.7 249.4h0M301.7 247.8h0M302.0 247.0h0M302.1 249.6h0M302.2 246.7h0M302.3 250.9h0M302.6 246.9h0M302.7 248.5h0M302.8 248.0h0M303.2 247.8h0M302.9 248.3h0M303.4 251.9h0M303.5 246.7h0M303.6 247.8h0M303.8 252.7h0M303.8 250.0h0M304.1 249.9h0M304.7 252.5h0M304.5 247.3h0M304.3 251.7h0M305.0 248.8h0M304.9 251.0h0M304.9 251.5h0M305.5 247.3h0M305.4 251.5h0M305.7 251.0h0M305.9 247.4h0M306.0 247.4h0M305.9 252.1h0M306.6 251.1h0M306.4 251.1h0M306.7 252.1h0M306.8 249.5h0M306.9 250.5h0M306.8 250.8h0M307.6 250.0h0M307.7 248.1h0M307.7 251.2h0M307.8 249.0h0M308.2 248.3h0M308.1 251.0h0M308.5 249.3h0M308.4 252.8h0M308.4 248.3h0M308.8 251.1h0M309.2 251.1h0M308.9 252.3h0M309.7 248.9h0M309.3 250.9h0M309.3 249.1h0M309.9 248.5h0M310.2 253.0h0M309.8 253.0h0M310.5 249.9h0M310.4 250.5h0M310.7 253.0h0M311.2 251.7h0M310.8 252.7h0M311.1 248.6h0M311.5 250.8h0M311.3 252.8h0M311.5 250.0h0M311.9 250.2h0M312.1 251.2h0M311.8 250.9h0M312.7 253.2h0M312.6 248.7h0M312.6 250.2h0M313.0 252.8h0M312.9 252.9h0M312.8 250.8h0M313.5 252.4h0M313.4 249.7h0M313.5 252.3h0M314.2 249.2h0M314.1 250.8h0M314.0 250.7h0M314.7 251.2h0M314.4 249.6h0M314.3 249.6h0M315.0 249.4h0M315.1 251.2h0M315.1 250.4h0M315.5 253.0h0M315.7 251.9h0M315.6 251.5h0M316.2 249.8h0M315.9 253.1h0M316.0 250.7h0M316.4 251.6h0M316.3 250.2h0M316.6 250.7h0M316.8 250.7h0M316.9 251.0h0M316.9 250.8h0M317.4 251.9h0M317.6 252.0h0M317.7 253.1h0M317.8 249.7h0M317.9 249.9h0M318.2 250.1h0M318.4 252.3h0M318.5 250.1h0M318.4 251.3h0M318.9 249.8h0M319.2 252.8h0M319.0 253.4h0M319.6 251.4h0M319.5 251.0h0M319.5 251.4h0M319.9 252.6h0M319.9 253.2h0M320.2 253.2h0M320.4 252.1h0M320.6 250.3h0M320.6 251.2h0M320.8 252.1h0M321.2 251.5h0M320.9 250.7h0M321.7 251.4h0M321.6 253.5h0M321.4 251.9h0M322.0 250.7h0M321.8 253.0h0M322.0 252.3h0M322.3 251.9h0M322.4 253.9h0M322.4 250.3h0M323.2 252.5h0M322.8 253.2h0M323.0 250.2h0M323.3 252.9h0M323.4 253.7h0M323.3 252.8h0M324.0 253.0h0M324.1 250.3h0M323.8 250.4h0M324.4 252.0h0M324.7 251.1h0M324.4 250.4h0M325.0 253.1h0M325.2 253.6h0M324.8 253.4h0M325.3 251.9h0M325.3 252.8h0M325.3 250.9h0M326.2 253.6h0M325.9 251.0h0M325.9 252.9h0M326.3 252.8h0M326.5 250.6h0M326.5 252.7h0M327.1 251.4h0M327.2 251.3h0M326.9 253.0h0M327.4 251.8h0M327.4 251.9h0M327.7 252.8h0M328.2 250.7h0M327.9 252.3h0M327.9 250.6h0M328.5 251.6h0M328.3 252.5h0M328.4 253.7h0M329.0 252.0h0M329.1 253.1h0M329.2 252.2h0M329.5 251.9h0M329.6 252.5h0M329.6 254.2h0M330.1 253.9h0M330.0 251.8h0M330.1 250.9h0M330.5 252.0h0M330.4 253.3h0M330.5 252.6h0M331.2 251.5h0M330.9 251.6h0M331.2 252.1h0M331.5 253.0h0M331.3 254.0h0M331.4 252.4h0M331.9 253.1h0M332.1 253.0h0M332.2 254.1h0M332.7 251.2h0M332.3 250.8h0M332.3 252.6h0M333.1 253.4h0M332.9 254.0h0M332.8 252.5h0M333.6 252.1h0M333.7 251.7h0M333.4 254.4h0M334.2 253.4h0M333.9 254.3h0M334.0 251.2h0M334.4 254.2h0M334.5 253.9h0M334.4 252.6h0M335.0 252.4h0M335.2 251.1h0M334.8 251.2h0M335.3 251.6h0M335.3 251.7h0M335.6 253.0h0M335.9 251.1h0M335.9 251.4h0M336.1 252.2h0M336.6 254.1h0M336.4 253.7h0M336.3 253.4h0M337.0 252.6h0M336.9 252.9h0M337.2 251.9h0M337.7 252.4h0M337.6 253.5h0M337.4 253.4h0M337.9 253.3h0M337.9 253.9h0M338.2 254.3h0M338.7 251.5h0M338.5 252.6h0M338.5 252.7h0M339.2 252.0h0M338.9 251.8h0M339.2 251.4h0M339.6 251.7h0M339.5 253.0h0M339.6 254.6h0M340.0 252.2h0M339.9 253.7h0M339.8 252.7h0M340.6 254.3h0M340.4 253.5h0M340.4 252.4h0M341.1 252.8h0M341.0 251.5h0M341.0 253.6h0M341.7 253.5h0M341.4 252.3h0M341.4 254.6h0M342.0 252.5h0M341.9 253.3h0M342.0 253.1h0M342.4 251.7h0M342.5 252.8h0M342.3 253.5h0M343.2 253.6h0M342.8 252.0h0M343.1 252.1h0M343.4 253.0h0M343.3 254.8h0M343.6 254.4h0M344.0 252.8h0M343.8 252.4h0M344.0 254.5h0M344.5 254.7h0M344.7 254.4h0M344.7 251.7h0M345.2 254.8h0M344.8 253.3h0M345.2 254.0h0M345.6 251.9h0M345.4 253.5h0M345.7 254.8h0M346.0 252.9h0M345.9 253.0h0M345.8 254.3h0M346.4 253.6h0M346.5 252.5h0M346.3 252.1h0M346.8 251.2h0M346.9 252.9h0M347.0 253.4h0M347.5 251.5h0M347.4 252.5h0M347.3 251.0h0M347.9 251.0h0M347.8 251.0h0M347.9 251.1h0M348.3 253.4h0M348.6 253.9h0M348.3 253.8h0M349.2 252.1h0M349.2 252.7h0M349.0 251.9h0M349.7 252.1h0M349.3 252.8h0M349.5 251.9h0M349.8 253.6h0M349.8 251.2h0M350.2 254.2h0M350.4 250.8h0M350.7 251.0h0M350.4 251.1h0M351.2 252.6h0M350.8 254.0h0M351.0 251.5h0M351.5 250.9h0M351.5 251.1h0M351.7 250.7h0M351.9 253.5h0M351.9 253.4h0M352.2 252.8h0M352.5 252.9h0M352.5 251.6h0M352.6 250.0h0M352.9 250.1h0M353.1 250.2h0M353.0 252.2h0M353.5 252.2h0M353.7 250.3h0M353.4 252.4h0M354.2 252.8h0M354.2 250.7h0M353.8 251.0h0M354.7 250.9h0M354.6 249.8h0M354.5 252.4h0M354.9 252.8h0M354.9 252.6h0M354.8 249.9h0M355.6 250.7h0M355.3 252.4h0M355.5 250.3h0M356.1 250.1h0M355.8 250.2h0M356.0 250.3h0M356.7 250.2h0M356.5 249.6h0M356.5 249.8h0M357.1 250.3h0M357.2 252.2h0M356.9 249.6h0M357.4 252.6h0M357.6 251.5h0M357.5 253.0h0M358.1 250.9h0M358.2 252.5h0M358.0 250.8h0M358.7 251.0h0M358.6 252.1h0M358.4 253.0h0M359.2 250.6h0M359.1 250.9h0M358.8 252.3h0M359.3 249.4h0M359.7 251.4h0M359.6 252.8h0M360.2 252.1h0M360.2 250.8h0M360.0 249.4h0M360.6 250.4h0M360.4 251.1h0M360.7 250.1h0M360.9 251.3h0M361.2 251.3h0M361.0 251.6h0M361.4 250.9h0M361.6 252.2h0M361.7 252.1h0M362.2 251.8h0M361.9 252.4h0M362.2 251.3h0M362.4 250.3h0M362.3 249.0h0M362.7 249.8h0M363.0 252.1h0M362.8 250.9h0M362.9 251.3h0M363.5 252.3h0M363.6 248.6h0M363.6 249.3h0M364.1 250.1h0M363.9 250.2h0M364.0 252.1h0M364.5 250.3h0M364.6 250.8h0M364.3 248.8h0M364.8 250.4h0M365.1 250.1h0M364.8 250.2h0M365.3 248.9h0M365.6 249.4h0M365.7 251.0h0M366.0 251.6h0M365.8 251.6h0M366.2 248.5h0M366.7 250.9h0M366.3 249.6h0M366.5 251.7h0M366.9 251.3h0M367.1 250.5h0M366.9 251.5h0M367.7 250.6h0M367.7 248.2h0M367.6 251.1h0M368.1 248.1h0M368.1 251.4h0M367.9 250.2h0M368.3 248.0h0M368.5 250.0h0M368.7 249.0h0M368.9 251.2h0M369.0 249.7h0M369.0 249.5h0M369.4 250.5h0M369.6 249.6h0M369.5 248.7h0M370.1 248.3h0M370.1 250.6h0M369.8 249.7h0M370.7 250.0h0M370.6 249.7h0M370.4 250.1h0M370.9 250.6h0M371.0 248.9h0M371.2 250.1h0M371.7 250.7h0M371.7 249.2h0M371.3 249.2h0M371.8 249.9h0M372.2 249.9h0M372.0 250.2h0M372.7 252.0h0M372.5 249.0h0M372.4 248.6h0M373.2 252.7h0M372.8 249.1h0M373.1 251.8h0M373.7 253.3h0M373.6 250.3h0M373.5 254.9h0M373.9 249.8h0M374.1 254.4h0M374.2 256.3h0M374.4 252.8h0M374.6 251.0h0M374.3 255.7h0M375.0 254.5h0M374.8 258.3h0M374.8 257.4h0M375.5 253.7h0M375.6 253.6h0M375.6 252.7h0M376.1 257.0h0M375.8 258.1h0M376.1 253.7h0M376.3 253.6h0M376.4 253.1h0M376.4 252.9h0M377.1 255.3h0M377.2 262.1h0M376.9 262.4h0M377.3 254.5h0M377.4 259.2h0M377.3 258.5h0M377.9 263.3h0M378.1 263.7h0M377.8 258.3h0M378.5 259.0h0M378.5 258.3h0M378.3 256.3h0M378.9 263.3h0M379.0 264.3h0M379.0 263.9h0M379.3 263.4h0M379.3 265.5h0M379.7 257.3h0M379.9 265.9h0M380.1 261.7h0M380.2 259.7h0M380.5 263.2h0M380.3 262.1h0M380.7 261.4h0M381.0 264.7h0M381.0 260.1h0M380.9 265.2h0M381.4 260.7h0M381.3 267.1h0M381.4 262.7h0M382.1 268.1h0M382.2 264.6h0M382.2 267.6h0M382.3 262.2h0M382.6 265.8h0M382.7 264.5h0M383.2 264.4h0M383.1 268.2h0M382.8 267.2h0M383.4 269.8h0M383.6 270.1h0M383.4 265.8h0M384.1 269.3h0M384.1 265.8h0M384.0 268.9h0M384.5 263.3h0M384.4 266.2h0M384.5 265.7h0M385.0 269.0h0M384.8 268.7h0M385.0 265.3h0M385.3 269.9h0M385.3 264.6h0M385.7 266.0h0M385.8 265.6h0M386.0 267.4h0M386.1 271.1h0M386.3 264.5h0M386.3 270.5h0M386.3 266.7h0M386.8 271.2h0M387.0 269.1h0M387.0 264.8h0M387.7 267.5h0M387.6 271.1h0M387.6 266.1h0M388.0 268.0h0M388.2 268.4h0M388.0 269.1h0M388.7 267.4h0M388.3 265.5h0M388.6 271.3h0M389.1 266.8h0M389.2 267.0h0M389.1 265.1h0M389.5 266.8h0M389.4 268.8h0M389.7 265.9h0M389.9 264.7h0M389.8 269.6h0M390.1 264.9h0M390.7 266.4h0M390.7 266.3h0M390.6 264.5h0M391.2 267.4h0M390.9 267.8h0M390.9 263.7h0M391.5 266.1h0M391.6 267.6h0M391.6 266.7h0M392.0 263.2h0M392.2 262.3h0M392.1 265.5h0M392.7 267.5h0M392.7 268.8h0M392.7 265.9h0M392.9 264.1h0M392.8 264.2h0M393.2 267.9h0M393.4 267.3h0M393.3 266.4h0M393.4 266.4h0M394.0 268.8h0M394.2 268.9h0M394.2 270.1h0M394.7 265.1h0M394.3 270.8h0M394.3 270.6h0M395.1 272.5h0M394.8 267.8h0M395.2 267.2h0M395.7 272.4h0M395.3 272.9h0M395.5 272.2h0M396.2 271.2h0M395.9 272.3h0M395.9 272.8h0M396.4 271.0h0M396.5 272.1h0M396.7 271.8h0M397.0 270.8h0M397.2 272.2h0M396.8 270.5h0M397.3 274.8h0M397.5 271.9h0M397.7 269.1h0M397.9 276.3h0M397.9 276.4h0M398.2 269.9h0M398.6 272.8h0M398.6 272.6h0M398.6 274.4h0M399.0 275.0h0M399.2 273.4h0M398.8 272.5h0M399.3 271.5h0M399.3 274.5h0M399.5 275.1h0M399.8 275.3h0M400.0 273.0h0M400.2 277.4h0M400.7 277.8h0M400.7 271.9h0M400.3 277.0h0M401.1 274.2h0M400.9 274.9h0M400.9 274.8h0M401.7 275.1h0M401.3 275.3h0M401.6 275.9h0M402.2 279.3h0M402.1 277.2h0M402.2 274.0h0M402.4 271.7h0M402.7 273.6h0M402.3 276.1h0M403.2 274.9h0M402.9 278.2h0M402.8 273.3h0M392.1 276.5h0M269.7 316.7h0M288.0 326.5h0M272.4 336.7h0M276.4 338.0h0M271.2 317.8h0M294.9 297.3h0M267.1 307.6h0M284.7 299.6h0M282.8 332.3h0M280.0 316.0h0M273.9 318.6h0M262.7 316.2h0M272.7 312.0h0M291.2 305.9h0M293.5 320.0h0M272.8 312.7h0M282.9 326.0h0M255.4 326.8h0M261.4 332.7h0M251.5 335.5h0M247.8 338.0h0M271.5 377.3h0M286.7 384.0h0M254.0 360.3h0M259.7 391.5h0M282.3 390.1h0M266.2 363.1h0M262.5 365.0h0M288.0 358.0h0M276.3 352.7h0M289.4 383.9h0M274.2 371.9h0M267.0 348.0h0M253.3 370.7h0M264.7 372.9h0M266.6 363.8h0M269.5 355.0h0M290.8 366.9h0M258.9 367.5h0M257.4 356.2h0M286.6 358.2h0M257.6 366.3h0M262.3 338.5h0M266.9 327.2h0M269.1 302.0h0M263.3 382.1h0M257.3 381.2h0M268.3 379.5h0M278.8 388.9h0M255.5 387.6h0M264.8 381.7h0M275.0 391.8h0M280.0 387.9h0M251.0 391.1h0M279.8 390.9h0M266.6 376.9h0M255.5 387.5h0M251.2 385.1h0M262.9 393.5h0M251.2 380.4h0M267.9 378.0h0M265.4 392.7h0M277.0 380.3h0M275.6 385.6h0M299.5 329.6h0M311.2 273.2h0M310.3 283.4h0M228.8 374.9h0M225.3 364.1h0M231.2 357.0h0M230.1 358.5h0M359.9 267.5h0M358.6 300.2h0M357.6 287.4h0M359.8 260.1h0M312.3 270.4h0M308.4 267.6h0M385.8 384.0h0M386.1 325.1h0M386.5 338.6h0M387.4 317.2h0M389.8 376.1h0M391.5 391.2h0M390.2 329.2h0M389.1 333.5h0M391.1 285.2h0M399.5 322.0h0M400.3 303.3h0M400.2 288.4h0M402.0 280.1h0M402.8 348.4h0M401.8 278.0h0M401.5 348.3h0M406.2 394.6h0M407.3 391.3h0M406.3 375.3h0M406.0 317.7h0M408.2 368.0h0M407.2 339.2h0M408.5 391.6h0M406.2 364.9h0M406.9 390.3h0M407.7 269.9h0M408.9 315.3h0M409.2 269.2h0M408.4 376.0h0M407.9 321.8h0M407.1 394.3h0M407.5 288.8h0M408.2 315.4h0M407.1 332.5h0M407.6 346.9h0M408.0 303.3h0M407.6 281.6h0M405.7 279.8h0M408.7 379.3h0M414.5 358.3h0M411.5 382.4h0M411.8 372.7h0M410.4 392.0h0M411.1 360.0h0M416.3 392.2h0M411.4 391.3h0M411.7 386.6h0M411.6 390.1h0M408.2 379.1h0M408.5 378.6h0M412.8 381.5h0M408.5 380.1h0M411.4 390.2h0M414.2 384.5h0M412.8 378.2h0M412.7 392.3h0M412.3 387.4h0M409.9 389.9h0M441.4 270.2h0M438.0 277.2h0M439.4 353.9h0M439.3 231.7h0M439.4 266.4h0M439.1 307.0h0M454.2 258.3h0M453.5 255.8h0M452.8 262.2h0M471.6 244.2h0M474.2 372.0h0M475.2 241.0h0M473.7 334.9h0M480.3 356.6h0M471.0 365.3h0M477.5 363.4h0M477.7 348.3h0M471.8 268.5h0M478.8 344.3h0M477.3 383.6h0M473.1 336.7h0M472.1 279.3h0M475.5 286.6h0M473.9 337.5h0M475.1 366.8h0M472.6 322.4h0M476.7 354.8h0M480.7 384.6h0M480.2 343.6h0M479.9 265.7h0M473.5 376.6h0M473.0 371.2h0M475.0 356.6h0M476.5 386.5h0M474.2 338.7h0M475.1 280.2h0M477.6 302.4h0M479.5 279.5h0M474.5 250.9h0M473.6 330.5h0M476.6 323.9h0M474.0 338.6h0M477.0 266.3h0M475.8 390.3h0M478.8 348.9h0M474.7 351.3h0M473.2 343.3h0M476.2 346.2h0M476.5 378.9h0M475.7 282.0h0M477.2 360.6h0M504.0 275.5h0M503.3 319.4h0M504.1 384.6h0M519.5 336.9h0M518.4 316.9h0M522.9 324.3h0M523.5 246.6h0M526.7 383.2h0M518.3 377.0h0M512.9 347.5h0M519.7 255.6h0M520.4 357.5h0M522.6 346.2h0M520.0 285.7h0M522.7 376.0h0M518.7 393.0h0M519.6 264.8h0M518.9 382.7h0M522.7 263.1h0M519.7 291.1h0M518.2 346.6h0M522.4 269.1h0M518.1 293.9h0M532.8 235.6h0M538.9 269.3h0M534.1 389.3h0M535.2 268.3h0M535.5 327.1h0M536.9 274.2h0M534.7 380.6h0M534.4 283.9h0M532.3 278.6h0M534.2 339.0h0M533.2 282.2h0M535.8 391.3h0M534.9 304.1h0M537.6 282.6h0M538.4 322.9h0M536.0 369.4h0M537.4 375.4h0M537.8 322.2h0M535.3 261.3h0M536.3 273.7h0M538.4 271.9h0M534.5 317.5h0M537.5 252.6h0M534.9 312.2h0M539.4 254.6h0M537.1 317.6h0M439.2 221.8h0M439.0 219.7h0M439.2 219.8h0M439.4 217.8h0M439.3 220.0h0M439.3 217.2h0M440.1 217.1h0M440.1 222.1h0M440.1 217.1h0M440.4 219.1h0M440.4 220.2h0M440.7 218.7h0M440.8 217.0h0M441.0 217.2h0M441.0 218.7h0M441.5 219.6h0M441.7 221.4h0M441.7 217.5h0M442.0 217.6h0M442.2 217.0h0M442.0 220.8h0M442.4 217.4h0M442.5 217.0h0M442.6 218.6h0M442.9 222.6h0M442.8 222.9h0M442.9 222.9h0M443.3 221.5h0M443.3 222.0h0M443.5 219.9h0M443.9 217.5h0M444.1 219.0h0M443.8 221.3h0M444.3 220.4h0M444.6 220.7h0M444.7 220.2h0M445.0 221.8h0M444.9 219.5h0M444.9 220.0h0M445.4 221.1h0M445.3 219.0h0M445.4 217.7h0M446.0 218.6h0M446.2 221.6h0M446.0 218.1h0M446.4 222.7h0M446.4 221.5h0M446.5 221.4h0M447.0 218.3h0M447.0 222.5h0M446.8 221.4h0M447.3 218.7h0M447.6 218.6h0M447.7 221.0h0M448.0 223.8h0M448.2 224.1h0M448.1 224.9h0M448.7 220.8h0M448.5 222.8h0M448.7 222.1h0M449.1 225.3h0M449.1 222.3h0M448.8 223.7h0M449.5 223.2h0M449.6 221.5h0M449.3 221.4h0M449.8 224.4h0M449.9 221.7h0M449.9 222.3h0M450.5 223.6h0M450.3 225.6h0M450.3 225.2h0M451.0 222.4h0M450.9 224.1h0M450.9 224.3h0M451.4 222.6h0M451.6 224.7h0M451.7 226.1h0M452.0 224.7h0M452.1 228.5h0M452.2 229.6h0M452.4 223.1h0M452.4 225.6h0M452.5 225.1h0M452.9 226.0h0M453.0 225.9h0M452.8 229.9h0M453.7 225.0h0M453.4 227.3h0M453.6 230.2h0M454.2 224.6h0M453.8 229.1h0M454.2 226.9h0M454.6 233.5h0M454.4 226.2h0M454.3 232.7h0M455.1 227.8h0M455.1 233.7h0M454.9 230.4h0M455.6 233.1h0M455.3 235.0h0M455.5 237.6h0M456.0 236.4h0M456.0 233.4h0M455.9 239.4h0M456.6 240.3h0M456.4 234.5h0M456.7 235.2h0M456.8 236.4h0M456.9 241.3h0M457.2 241.7h0M457.3 240.4h0M457.7 239.7h0M457.6 240.5h0M458.1 244.4h0M458.0 244.0h0M458.1 243.4h0M458.6 241.9h0M458.4 245.9h0M458.3 245.2h0M459.2 243.0h0M458.8 241.5h0M459.2 241.5h0M459.4 238.6h0M459.6 243.0h0M459.3 246.0h0M459.9 240.0h0M460.2 240.9h0M460.0 245.7h0M460.5 241.6h0M460.3 239.5h0M460.4 245.1h0M461.1 243.6h0M460.9 245.7h0M460.8 241.9h0M461.3 244.2h0M461.3 239.7h0M461.5 245.3h0M462.0 239.1h0M461.8 241.9h0M461.8 241.3h0M462.3 237.9h0M462.7 242.5h0M462.7 238.9h0M463.2 239.1h0M462.9 243.4h0M462.8 239.3h0M463.3 237.5h0M463.7 241.4h0M463.6 240.8h0M464.0 238.8h0M463.8 237.5h0M464.0 237.3h0M464.5 238.2h0M464.6 242.7h0M464.7 238.9h0M465.2 243.1h0M465.2 236.9h0M464.9 237.8h0M465.3 240.0h0M465.5 236.7h0M465.3 239.2h0M466.2 238.5h0M465.9 242.6h0M465.9 242.1h0M466.6 241.1h0M466.5 236.8h0M466.6 236.3h0M467.0 240.1h0M467.2 237.9h0M466.8 241.2h0M467.6 237.5h0M467.7 238.3h0M467.7 241.9h0M468.2 239.1h0M468.1 241.8h0M468.1 239.3h0M468.7 240.6h0M468.5 236.6h0M468.4 238.2h0M469.0 239.5h0M468.8 238.6h0M468.8 242.5h0M469.5 241.0h0M469.6 238.8h0M469.6 237.8h0M470.2 237.3h0M470.1 239.4h0M469.9 240.8h0M470.3 237.9h0M470.5 240.8h0M470.6 237.9h0M471.2 242.2h0M471.1 240.0h0M471.0 238.2h0M471.4 240.2h0M471.6 238.5h0M471.7 242.7h0M472.2 242.1h0M472.2 238.8h0M472.2 241.6h0M472.5 243.6h0M472.5 238.3h0M472.4 239.3h0M472.8 244.0h0M473.2 238.0h0M473.1 242.6h0M475.8 234.0h0M476.1 232.4h0M476.0 235.7h0M476.3 237.9h0M476.5 237.9h0M476.7 233.7h0M476.9 236.6h0M477.1 237.8h0M476.8 233.7h0M477.6 235.6h0M477.7 235.4h0M477.4 234.9h0M477.9 232.6h0M477.8 238.5h0M478.2 232.7h0M478.5 236.7h0M478.4 237.7h0M478.3 236.6h0M479.1 233.2h0M478.9 233.4h0M479.0 231.8h0M479.4 235.3h0M479.6 236.0h0M479.6 237.6h0M480.2 237.6h0M480.0 235.3h0M479.8 235.8h0M480.7 231.8h0M480.3 233.3h0M480.5 232.1h0M481.2 236.7h0M481.1 232.9h0M481.0 235.4h0M481.6 236.5h0M481.4 238.2h0M481.4 238.1h0M481.8 237.0h0M482.2 236.7h0M482.1 234.9h0M482.5 235.7h0M482.6 235.6h0M482.7 232.9h0M483.1 233.5h0M483.2 235.8h0M483.1 231.8h0M483.5 231.2h0M483.3 232.7h0M483.5 233.9h0M483.8 233.2h0M484.2 232.2h0M484.2 231.8h0M484.7 232.5h0M484.5 235.8h0M484.6 233.6h0M485.1 236.9h0M484.8 232.7h0M484.9 237.6h0M485.4 234.7h0M485.5 231.4h0M485.5 237.3h0M485.9 234.7h0M486.1 234.8h0M485.9 233.4h0M486.4 234.0h0M486.5 234.1h0M486.3 235.9h0M487.2 234.7h0M486.8 231.7h0M486.9 232.3h0M487.5 234.7h0M487.3 235.3h0M487.6 232.3h0M488.1 233.8h0M488.2 235.1h0M488.2 233.5h0M488.5 232.8h0M488.5 230.7h0M488.7 235.0h0M489.2 235.1h0M489.1 231.5h0M488.9 231.7h0M489.6 230.0h0M489.4 232.1h0M489.4 231.6h0M490.2 233.7h0M490.2 230.4h0M490.1 231.6h0M490.7 234.4h0M490.4 232.1h0M490.7 228.5h0M490.9 234.6h0M491.1 234.3h0M490.8 234.9h0M491.5 230.8h0M491.4 229.2h0M491.3 230.8h0M492.2 233.1h0M491.8 232.1h0M492.0 231.1h0M492.4 228.0h0M492.7 232.7h0M492.5 232.1h0M493.0 232.0h0M492.9 228.9h0M492.9 231.9h0M493.3 229.5h0M493.4 226.5h0M493.3 228.0h0M494.2 225.2h0M493.9 228.2h0M493.8 230.0h0M494.6 225.4h0M494.4 228.4h0M494.7 229.5h0M494.9 230.6h0M495.1 226.1h0M495.1 229.2h0M495.3 231.3h0M495.4 226.2h0M495.6 230.9h0M496.0 231.6h0M496.0 228.4h0M496.0 227.5h0M496.4 232.7h0M496.4 226.7h0M496.3 232.2h0M497.0 225.1h0M497.1 231.7h0M497.2 231.3h0M497.5 232.3h0M497.7 226.9h0M497.3 231.7h0M497.8 225.6h0M498.2 226.4h0M497.8 231.9h0M498.7 231.7h0M498.4 226.4h0M498.3 230.6h0M499.1 232.5h0M498.9 226.7h0M498.8 230.6h0M499.5 229.8h0M499.6 233.8h0M499.5 226.9h0M500.1 229.2h0M500.2 233.9h0M500.1 228.9h0M500.3 233.1h0M500.3 233.7h0M500.5 229.9h0M500.9 234.5h0M500.9 231.2h0M501.0 228.9h0M501.5 230.4h0M501.7 230.7h0M501.3 230.3h0M502.0 235.8h0M501.9 235.9h0M501.8 234.0h0M502.6 233.6h0M502.7 233.2h0M502.7 236.1h0M503.2 236.0h0M503.1 229.4h0M503.0 229.0h0M503.6 236.2h0M503.3 232.9h0M503.6 237.3h0M504.0 236.6h0M504.0 234.9h0M504.2 232.4h0M504.3 234.5h0M504.6 233.8h0M504.5 233.5h0M504.8 230.6h0M505.0 232.0h0M505.0 237.2h0M512.4 225.0h0M512.3 224.7h0M512.5 225.5h0M513.0 219.8h0M513.0 223.0h0M513.1 226.2h0M513.7 226.6h0M513.4 220.7h0M513.5 226.6h0M513.9 225.1h0M513.8 225.4h0M514.2 219.5h0M514.4 225.8h0M514.5 219.7h0M514.5 227.3h0M514.9 220.4h0M515.2 220.4h0M515.1 226.3h0M515.6 225.5h0M515.4 224.3h0M515.4 220.9h0M515.8 228.4h0M516.1 222.5h0M516.1 225.6h0M516.3 224.6h0M516.5 227.6h0M516.6 223.9h0M516.9 223.5h0M516.9 224.3h0M516.9 224.6h0M517.7 224.2h0M517.5 226.5h0M517.7 224.1h0M518.1 225.9h0M518.0 224.2h0M518.0 222.9h0M518.5 226.3h0M518.7 222.9h0M518.6 224.4h0M519.1 224.8h0M519.1 222.1h0M518.9 228.0h0M519.4 223.3h0M519.3 222.8h0M519.7 224.7h0M519.8 223.5h0M520.2 219.8h0M520.2 221.3h0M520.4 220.4h0M520.6 216.7h0M520.4 223.6h0M521.1 219.9h0M520.9 215.6h0M521.2 217.1h0M521.5 218.2h0M521.3 219.5h0M521.7 220.4h0M521.9 222.6h0M522.0 219.3h0M521.9 217.3h0M522.5 221.3h0M522.6 217.9h0M522.4 220.2h0M523.0 217.9h0M523.0 213.4h0M523.2 216.2h0M523.5 212.5h0M523.6 218.5h0M523.3 216.5h0M524.0 220.8h0M524.1 214.6h0M523.9 219.0h0M524.4 211.9h0M524.4 213.5h0M524.3 216.4h0M525.1 212.2h0M524.8 212.8h0M524.9 218.8h0M525.5 214.9h0M525.5 216.2h0M525.4 219.0h0M525.8 210.9h0M526.0 213.9h0M525.9 218.1h0M526.4 215.5h0M526.6 217.5h0M526.6 215.6h0M527.1 213.3h0M526.8 212.9h0M526.8 216.5h0M527.7 218.1h0M527.7 219.2h0M527.6 214.0h0M528.1 213.9h0M528.1 212.6h0M527.8 216.5h0M528.7 215.9h0M528.5 212.9h0M528.7 212.8h0M529.0 215.9h0M528.8 210.6h0M529.0 210.2h0M529.5 214.0h0M529.4 213.8h0M529.3 218.3h0M530.0 214.3h0M530.2 211.3h0M530.0 215.8h0M530.4 213.7h0M530.3 220.7h0M530.4 218.7h0M531.2 212.8h0M531.1 218.0h0M530.9 219.2h0M531.7 220.9h0M531.5 214.5h0M531.3 216.8h0M531.8 219.3h0M532.1 220.0h0M531.9 220.9h0M532.5 216.5h0M532.7 220.8h0M532.6 219.0h0M533.1 215.6h0M533.1 219.3h0M532.9 221.4h0M537.9 206.4h0M537.8 208.8h0M537.9 214.7h0M538.4 214.6h0M538.6 213.0h0M538.4 206.6h0M539.1 209.5h0M539.2 207.1h0M538.9 211.7h0M539.5 212.2h0M539.6 213.3h0M539.5 204.6h0M539.8 212.6h0M540.0 213.5h0M539.9 211.9h0M539.6 206.4h0M539.9 205.6h0M540.3 205.8h0M541.3 206.2h0M541.3 206.4h0M542.5 206.8h0M542.9 207.2h0M543.2 206.7h0M543.7 207.0h0M543.1 207.5h0M544.6 207.9h0M543.9 207.4h0M545.4 208.2h0M544.6 208.9h0M545.1 209.0h0M546.4 209.1h0M546.6 209.5h0M546.6 210.2h0M547.0 210.5h0M547.9 210.1h0M547.4 209.8h0M548.4 210.5h0M549.1 210.3h0M549.8 209.8h0M550.0 209.7h0M550.1 209.1h0M550.5 210.0h0M551.4 209.4h0M551.9 209.7h0M551.9 209.7h0M551.9 208.5h0M553.4 209.1h0M553.6 209.1h0M553.9 209.1h0M554.1 209.1h0M555.3 209.0h0M555.1 208.2h0M555.4 208.1h0M556.3 208.8h0M555.9 209.3h0M556.6 209.3h0M557.8 209.2h0M557.4 209.2h0M558.1 209.7h0M558.8 210.0h0M559.0 210.0h0M560.0 210.2h0M560.4 210.0h0M560.4 210.3h0M561.3 210.4h0M561.4 210.6h0M561.4 210.9h0M562.3 211.3h0M562.9 210.8h0M562.4 211.6h0M562.9 211.3h0M564.0 210.8h0M564.6 210.5h0M564.7 210.9h0M565.3 210.5h0M565.3 211.0h0M565.8 211.0h0M566.1 210.5h0M567.5 210.8h0M568.0 211.4h0M568.3 211.1h0M568.4 210.9h0M569.3 210.2h0M569.3 210.5h0M569.7 210.4h0M570.6 211.1h0M570.3 211.1h0M570.6 211.3h0M571.3 211.6h0M571.9 211.9h0M572.2 212.4h0M573.1 213.1h0M572.4 212.7h0M572.7 213.1h0M573.9 213.1h0M573.8 213.0h0M573.9 213.4h0M574.9 214.2h0M575.4 214.7h0M575.1 214.1h0M576.6 214.4h0M576.0 214.2h0M576.7 214.1h0M576.9 213.9h0M577.6 212.7h0M577.9 212.5h0M578.7 212.4h0M578.8 212.2h0M579.9 211.8h0M580.4 212.7h0M580.2 211.9h0M581.2 211.8h0M581.7 211.9h0M582.0 211.5h0M581.6 211.1h0M582.0 211.2h0M582.3 210.4h0M583.5 210.7h0M583.7 210.0h0M584.3 210.0h0M584.2 210.1h0M584.5 209.2h0M585.0 209.1h0M585.1 209.0h0M586.2 208.4h0M586.3 207.9h0M586.5 207.4h0M587.3 207.2h0M587.0 207.2h0M587.7 206.8h0M587.8 206.6h0M588.1 205.8h0M588.4 206.4h0M588.8 205.6h0M589.7 205.6h0M590.0 205.3h0M589.8 205.5h0M591.2 205.0h0M591.7 205.5h0M592.2 204.9h0M592.5 204.8h0M592.4 204.4h0M593.4 204.3h0M593.7 204.3h0M594.1 204.8h0M593.7 203.9h0M595.1 204.4h0M594.7 204.3h0M595.0 203.3h0M595.5 204.1h0M596.5 203.5h0M597.1 204.1h0M597.8 203.3h0M598.0 203.3h0M597.7 203.5h0M598.9 203.9h0M599.6 203.5h0M599.2 203.2h0M600.0 204.0h0M600.5 203.7h0M600.6 203.6h0M600.8 202.9h0M601.2 202.2h0M601.4 202.4h0M601.4 201.4h0M602.3 200.9h0M601.6 200.7h0M602.6 200.3h0M601.8 199.8h0M603.1 199.0h0M602.7 199.3h0M603.4 198.3h0M603.3 198.8h0M602.8 198.2h0M603.3 197.2h0M603.6 197.3h0M603.7 197.1h0M603.6 195.6h0M604.1 196.3h0M605.3 197.2h0M605.3 197.3h0M605.3 197.7h0M605.4 197.6h0M606.8 198.1h0M606.4 197.6h0M607.3 198.8h0M607.7 198.8h0M607.9 198.6h0M607.8 199.9h0M608.7 200.1h0M608.6 199.0h0M609.4 199.1h0M609.8 199.3h0M610.8 199.8h0M610.4 198.9h0M611.5 199.1h0M611.8 199.5h0M611.7 198.4h0M613.0 198.2h0M612.8 198.5h0M613.6 199.0h0M614.2 198.1h0M615.0 198.2h0M615.2 197.7h0M615.6 198.2h0M616.3 198.0h0M616.6 197.5h0M616.7 197.5h0M617.1 197.8h0M618.0 198.2h0M618.2 197.8h0M618.4 197.3h0M618.9 197.9h0M619.5 197.6h0M619.8 197.0h0M620.9 196.6h0M620.6 196.6h0M621.2 196.9h0M621.3 196.5h0M621.7 196.8h0M622.7 196.5h0M622.5 196.0h0M623.1 196.4h0M623.5 196.4h0M624.6 196.0h0M624.6 196.1h0M625.4 196.8h0M625.7 196.5h0M626.3 197.4h0M626.7 197.4h0M626.5 197.5h0M626.8 198.6h0M627.5 197.8h0M627.2 198.9h0M627.8 198.8h0M628.5 199.7h0M628.8 199.1h0M629.5 200.4h0M630.0 200.5h0M629.9 200.8h0M629.7 200.9h0M630.0 200.7h0M630.3 201.2h0M630.6 201.9h0M630.5 202.6h0M631.2 202.4h0M632.2 202.5h0M631.7 203.3h0M632.7 204.1h0M632.1 204.5h0M632.8 204.3h0M633.2 205.1h0M633.8 204.7h0M633.2 205.3h0M634.6 205.2h0M633.9 205.7h0M634.4 206.2h0M634.4 207.2h0M635.7 207.0h0M635.4 207.8h0M635.7 207.9h0M636.2 208.7h0M636.6 208.5h0M637.2 208.8h0M637.5 209.0h0M637.4 209.9h0M637.4 210.1h0M638.1 210.2h0M638.2 210.1h0M639.1 210.8h0M638.9 211.3h0M639.3 211.3h0M640.0 212.2h0M640.3 211.4h0M640.5 212.1h0M641.4 212.7h0M641.2 211.9h0M641.5 212.6h0M642.0 213.3h0M642.8 212.6h0M643.0 213.7h0M644.2 213.7h0M644.2 213.0h0M644.4 213.5h0M645.3 214.0h0M645.2 213.6h0M646.3 214.2h0M646.2 214.5h0M646.7 214.7h0M646.6 215.0h0M648.0 214.7h0M648.5 214.7h0M648.9 216.0h0M648.6 215.8h0M648.8 216.2h0M649.4 216.0h0M650.3 216.7h0M650.3 216.3h0M650.7 216.7h0M650.6 217.1h0M651.6 216.9h0M651.2 217.3h0M652.2 218.3h0M652.5 218.0h0M652.4 218.0h0M653.6 218.3h0M653.1 218.7h0M654.7 219.0h0M654.6 219.8h0M655.3 220.2h0M655.3 219.9h0M655.4 220.4h0M655.4 220.8h0M656.4 221.2h0M656.3 220.5h0M657.0 221.6h0M657.7 221.7h0M657.6 222.5h0M658.7 222.3h0M658.2 222.2h0M659.2 222.5h0M659.3 222.9h0M659.8 223.8h0M659.5 223.7h0M659.7 224.1h0M660.9 223.9h0M660.6 225.1h0M661.6 225.0h0M662.0 225.6h0M662.1 225.4h0M661.9 226.1h0M662.8 226.2h0M663.0 225.8h0M663.8 226.9h0M664.1 226.7h0M663.7 227.3h0M664.5 227.1h0M665.3 228.4h0M665.6 228.0h0M665.5 228.6h0M665.6 228.2h0M666.4 228.6h0M666.7 229.6h0M667.6 229.1h0M668.0 230.2h0M668.0 230.1h0M667.7 230.4h0M668.3 231.0h0M669.2 230.9h0M668.7 231.2h0M669.5 231.9h0M670.3 231.4h0M670.6 232.3h0M671.3 232.3h0M671.2 232.7h0M671.4 232.6h0M671.4 233.1h0M672.1 234.2h0M672.3 234.2h0M673.3 234.3h0M672.9 235.0h0M673.6 234.4h0M673.5 234.6h0M674.2 235.9h0M674.6 236.1h0M674.4 235.9h0M674.7 236.0h0M675.1 236.5h0M675.1 237.4h0M675.8 237.0h0M676.2 238.1h0M676.3 237.6h0M677.1 237.9h0M677.7 238.5h0M678.2 239.4h0M677.6 238.8h0M677.8 240.3h0M678.6 239.5h0M679.3 240.5h0M679.1 240.5h0M679.3 241.4h0M679.9 241.6h0M679.6 241.7h0M680.1 242.1h0M680.8 242.5h0M681.1 242.6h0M681.4 243.2h0M681.3 242.8h0M682.0 243.1h0M681.9 243.8h0M683.1 243.8h0M683.1 244.4h0M683.7 245.4h0M683.3 245.1h0M683.7 246.2h0M683.6 245.8h0M683.9 246.1h0M684.8 246.6h0M685.3 247.3h0M685.8 247.9h0M686.0 248.3h0M685.6 247.8h0M685.8 248.5h0M686.7 249.4h0M686.5 249.1h0M686.8 249.4h0M686.9 250.1h0M687.2 250.1h0M687.9 250.9h0M688.0 250.7h0M688.1 251.4h0M689.3 251.8h0M689.5 251.9h0M689.3 252.0h0M689.3 252.7h0M690.2 253.1h0M689.6 253.4h0M690.9 253.4h0M691.0 254.0h0M691.0 255.1h0M691.0 254.9h0M691.3 254.8h0M691.7 255.9h0M691.9 256.4h0M692.9 255.9h0M693.1 256.4h0M692.4 256.6h0M693.5 257.3h0M693.9 257.5h0M693.5 258.1h0M694.4 258.3h0M694.4 258.3h0M694.9 259.3h0M694.5 259.2h0M695.7 260.1h0M695.8 259.9h0M695.5 260.9h0M696.0 261.0h0M696.2 262.0h0M696.4 262.0h0M697.3 262.1h0M697.3 262.8h0M697.7 262.9h0M698.4 263.0h0M698.6 263.4h0M698.3 264.0h0M698.3 264.3h0M698.8 264.1h0M698.9 265.1h0M699.9 265.9h0M699.3 266.3h0M700.3 266.3h0M700.9 267.0h0M700.3 266.6h0M700.8 267.3h0M700.8 267.0h0M701.4 267.9h0M702.3 268.2h0M701.9 268.6h0M703.0 269.4h0M703.1 269.4h0M703.5 269.5h0M703.2 270.5h0M703.5 270.7h0M704.3 270.9h0M704.6 271.3h0M704.0 272.2h0M704.0 272.5h0M705.2 272.6h0M705.0 273.4h0M705.3 273.2h0M705.7 273.9h0M705.4 273.8h0M705.7 274.4h0M705.8 274.6h0M705.7 274.9h0M706.1 275.6h0M706.7 276.5h0M706.8 277.1h0M706.6 277.3h0M707.5 277.1h0M706.8 277.5h0M707.8 278.2h0M707.2 278.4h0M707.7 278.7h0M708.3 279.1h0M708.1 279.6h0M708.3 280.7h0M708.3 280.3h0M708.3 280.7h0M708.5 281.8h0M709.4 282.4h0M710.0 283.0h0M709.3 282.7h0M710.0 283.0h0M710.5 284.3h0M710.9 283.6h0M710.6 284.9h0M711.3 285.4h0M710.9 286.0h0M711.1 285.8h0M711.3 286.7h0M712.0 287.2h0M711.5 286.9h0M711.8 287.3h0M712.9 287.4h0M713.0 288.6h0M713.6 289.0h0M713.5 289.1h0M713.7 289.5h0M714.0 289.8h0M713.6 290.4h0M714.0 291.0h0M714.6 290.6h0M714.7 291.9h0M714.8 291.8h0M715.3 291.7h0M715.3 292.3h0M715.8 293.5h0M715.7 293.5h0M716.4 294.0h0M716.1 293.7h0M716.7 294.7h0M717.3 295.0h0M716.9 295.8h0M716.9 296.0h0M717.9 295.7h0M717.9 296.6h0M717.5 297.1h0M718.3 297.4h0M718.1 297.6h0M718.2 298.2h0M718.4 298.4h0M718.6 298.8h0M719.2 299.9h0M718.9 300.0h0M719.7 300.5h0M720.3 300.5h0M720.3 301.8h0M720.8 301.6h0M721.1 302.4h0M720.8 301.9h0M721.2 302.3h0M720.5 303.1h0M720.9 303.3h0M722.1 304.3h0M721.6 304.9h0M722.5 305.2h0M722.2 305.8h0M722.4 305.1h0M722.3 305.7h0M722.4 307.0h0M723.5 307.4h0M722.8 307.7h0M723.7 307.1h0M723.6 308.3h0M723.7 308.0h0M724.3 308.7h0M724.0 309.3h0M724.8 310.3h0M724.5 309.7h0M725.0 310.9h0M725.4 311.0h0M724.8 311.2h0M725.5 311.4h0M725.7 312.3h0M725.3 312.1h0M726.6 313.1h0M726.3 313.7h0M727.0 314.0h0M727.3 314.8h0M727.3 315.3h0M726.9 315.2h0M726.8 315.7h0M727.5 316.0h0M727.0 316.0h0M728.0 316.6h0M728.2 316.7h0M728.5 317.8h0M728.1 318.6h0M728.7 319.1h0M728.1 319.1h0M728.9 319.1h0M729.4 319.9h0M728.7 320.4h0M728.9 321.0h0M729.6 321.6h0M729.4 321.8h0M729.2 322.0h0M729.8 322.0h0M730.0 322.5h0M730.0 323.7h0M730.4 323.2h0M730.6 323.7h0M731.1 324.0h0M730.6 324.6h0M731.3 325.9h0M730.5 325.7h0M731.4 326.3h0M731.3 326.4h0M731.7 326.8h0M731.3 327.2h0M731.9 327.6h0M731.6 328.0h0M732.0 328.7h0M731.8 329.8h0M733.0 330.1h0M732.2 330.2h0M732.3 330.1h0M732.9 330.6h0M733.1 331.7h0M732.8 332.3h0M732.9 332.1h0M733.7 333.0h0M733.5 332.6h0M733.4 334.0h0M733.9 334.4h0M733.7 334.3h0M734.2 334.5h0M735.1 335.2h0M734.8 335.2h0M735.0 335.6h0M735.4 336.3h0M735.7 337.3h0M735.5 337.1h0M735.1 337.9h0M735.7 338.3h0M736.3 338.7h0M736.1 338.7h0M735.6 339.8h0M735.6 340.2h0M736.2 340.6h0M736.1 340.6h0M736.4 341.9h0M736.8 341.5h0M736.3 342.6h0M737.2 343.1h0M737.1 342.8h0M737.8 343.7h0M737.5 343.4h0M737.7 344.1h0M737.6 345.1h0M738.2 345.6h0M738.0 345.7h0M737.9 346.0h0M737.8 346.4h0M738.5 347.0h0M738.7 347.4h0M738.1 348.1h0M738.8 347.8h0M738.9 348.5h0M739.1 349.7h0M739.6 350.1h0M739.6 349.6h0M738.8 350.6h0M739.2 350.5h0M739.8 351.0h0M739.9 351.4h0M739.9 352.4h0M740.5 352.6h0M739.9 353.3h0M740.4 353.6h0M740.3 354.2h0M740.2 354.1h0M740.6 354.7h0M740.8 355.4h0M741.5 356.3h0M740.8 356.1h0M741.5 357.2h0M742.0 357.5h0M741.3 357.5h0M741.9 357.8h0M741.5 358.2h0M741.8 358.8h0M741.6 359.0h0M742.2 359.4h0M741.4 360.3h0M741.9 361.1h0M742.3 361.3h0M742.3 361.8h0M742.6 361.5h0M741.8 362.4h0M742.4 363.2h0M742.0 363.8h0M742.7 363.9h0M742.2 364.7h0M742.1 364.2h0M742.3 365.5h0M742.9 365.3h0M742.1 366.0h0M742.1 366.5h0M742.3 367.0h0M742.8 366.9h0M742.3 368.4h0M742.7 368.7h0M743.3 368.5h0M742.8 369.5h0M743.3 370.0h0M743.0 370.6h0M743.3 370.8h0M743.1 370.7h0M742.9 371.7h0M743.2 372.5h0M743.1 373.0h0M743.4 372.8h0M743.1 374.0h0M743.9 374.2h0M743.1 374.8h0M743.7 374.3h0M743.7 374.8h0M744.3 375.2h0M744.1 376.1h0M743.8 377.0h0M744.6 377.5h0M743.6 377.7h0M743.9 378.5h0M743.8 378.5h0M744.2 378.9h0M590.2 216.0h0"/>
<path stroke="#ff0000" d="M152.6 379.5h0M152.4 384.7h0M152.3 385.0h0M153.1 382.1h0M153.0 381.0h0M153.1 382.8h0M153.4 378.9h0M153.4 386.3h0M153.6 383.9h0M154.2 378.8h0M154.1 380.1h0M153.9 380.0h0M154.4 386.2h0M154.6 385.7h0M154.3 381.2h0M155.1 379.3h0M154.8 379.6h0M155.2 380.8h0M155.5 379.3h0M155.3 383.2h0M155.6 381.8h0M155.9 379.7h0M155.8 380.5h0M155.9 383.7h0M156.4 386.8h0M156.4 385.9h0M156.3 383.5h0M157.0 384.5h0M157.0 383.6h0M157.1 380.9h0M157.5 384.1h0M157.6 381.1h0M157.5 380.2h0M161.2 386.9h0M161.0 385.4h0M160.9 384.2h0M161.3 384.2h0M161.3 385.7h0M161.5 384.0h0M161.9 387.7h0M162.2 387.9h0M161.9 382.0h0M162.3 387.1h0M162.4 382.2h0M162.7 382.8h0M163.0 383.9h0M162.8 383.6h0M163.1 384.8h0M163.7 380.6h0M163.3 383.7h0M163.6 383.6h0M163.9 386.5h0M164.2 385.2h0M163.8 385.9h0M164.6 385.7h0M164.6 384.3h0M164.4 386.6h0M165.2 387.6h0M164.9 380.9h0M164.8 385.1h0M165.7 380.8h0M165.5 383.7h0M165.5 383.7h0M165.9 383.9h0M166.2 385.6h0M166.2 382.2h0M166.3 379.8h0M166.4 385.6h0M166.4 383.5h0M167.2 381.9h0M166.9 386.8h0M167.2 378.2h0M167.7 387.7h0M167.4 381.1h0M167.3 379.6h0M168.1 381.9h0M167.9 381.0h0M168.2 388.0h0M168.4 379.8h0M168.4 385.6h0M168.7 378.9h0M168.8 380.3h0M169.2 386.2h0M169.2 381.3h0M169.3 376.8h0M169.7 380.7h0M169.3 379.6h0M169.8 387.0h0M170.0 382.1h0M169.8 382.3h0M170.4 387.2h0M170.7 384.5h0M170.5 384.6h0M170.8 379.7h0M171.2 385.3h0M170.9 380.0h0M171.3 374.5h0M171.7 377.0h0M171.7 376.9h0M172.0 381.6h0M171.8 377.9h0M171.8 374.1h0M172.4 385.1h0M172.4 377.8h0M172.4 379.3h0M172.9 367.0h0M172.9 387.5h0M173.0 375.9h0M173.4 381.8h0M173.3 379.5h0M173.5 367.5h0M174.0 373.4h0M173.8 375.9h0M173.9 368.4h0M174.6 378.3h0M174.4 381.6h0M174.7 374.2h0M175.0 385.7h0M174.9 376.2h0M175.0 374.3h0M175.5 383.5h0M175.7 375.5h0M175.4 383.1h0M176.1 372.8h0M176.0 372.2h0M176.0 371.4h0M176.3 372.9h0M176.3 373.6h0M176.4 373.9h0M177.2 383.7h0M176.9 386.7h0M177.0 368.0h0M177.5 369.8h0M177.4 388.2h0M177.5 388.7h0M178.0 375.6h0M177.9 373.8h0M178.1 380.9h0M178.7 379.1h0M178.7 387.6h0M178.3 382.9h0M178.8 377.1h0M178.8 382.7h0M178.8 371.8h0M179.6 383.1h0M179.7 387.9h0M179.6 386.2h0M179.9 377.8h0M180.0 376.6h0M180.0 378.4h0M180.5 367.9h0M180.3 384.2h0M180.7 371.6h0M180.8 371.4h0M181.2 376.2h0M181.2 377.4h0M181.3 380.9h0M181.3 379.6h0M181.7 380.5h0M182.2 372.8h0M181.8 369.6h0M182.2 378.6h0M182.5 369.2h0M182.5 379.1h0M182.3 380.4h0M182.8 377.5h0M182.8 379.7h0M182.9 374.8h0M183.3 375.6h0M183.7 368.5h0M183.7 365.6h0M183.8 374.5h0M183.9 375.5h0M183.8 362.4h0M184.4 369.5h0M184.4 359.3h0M184.3 365.5h0M184.8 367.3h0M184.8 366.6h0M184.9 352.2h0M185.3 365.8h0M185.6 352.1h0M185.5 348.9h0M177.1 352.5h0M178.4 356.6h0M177.7 352.4h0M177.0 359.8h0M177.6 354.9h0M185.0 347.0h0M184.4 342.6h0M186.0 346.7h0M185.9 349.6h0M186.1 322.9h0M186.0 318.3h0M185.8 339.2h0M186.5 329.8h0M186.7 351.7h0M186.7 346.3h0M187.2 354.8h0M187.0 349.1h0M186.9 315.8h0M187.3 334.4h0M187.4 330.9h0M187.6 313.7h0M188.1 331.7h0M187.8 337.1h0M188.1 320.0h0M188.6 358.0h0M188.4 359.0h0M188.4 331.1h0M189.1 320.7h0M189.0 345.4h0M188.9 316.2h0M189.6 348.4h0M189.4 330.2h0M189.4 339.0h0M190.2 345.9h0M190.1 344.6h0M189.9 325.2h0M190.3 347.4h0M190.4 313.7h0M190.4 357.5h0M191.1 333.6h0M190.8 350.2h0M191.0 320.2h0M191.6 352.1h0M191.4 359.9h0M191.5 362.7h0M191.9 344.3h0M192.0 320.2h0M191.8 316.5h0M192.7 361.2h0M192.3 334.6h0M192.5 340.6h0M193.0 342.9h0M192.9 321.6h0M193.1 353.5h0M193.7 350.6h0M193.4 343.1h0M193.6 316.7h0M194.0 310.5h0M194.1 312.7h0M194.0 330.2h0M194.5 349.7h0M194.3 338.0h0M194.5 304.5h0M195.2 317.8h0M195.1 313.6h0M194.8 345.5h0M195.3 339.1h0M195.7 311.2h0M195.3 317.6h0M195.8 354.8h0M195.8 307.6h0M195.8 354.9h0M196.6 302.6h0M196.3 322.3h0M196.4 345.7h0M197.1 312.0h0M196.8 312.9h0M196.8 311.1h0M197.4 336.1h0M197.5 349.5h0M197.7 325.3h0M198.0 326.9h0M198.2 322.0h0M198.0 307.1h0M198.7 343.2h0M198.6 342.6h0M198.4 345.1h0M198.9 298.0h0M199.1 340.7h0M199.0 328.7h0M199.5 303.5h0M199.5 347.7h0M199.3 315.3h0M200.0 324.9h0M200.1 312.7h0M200.1 330.0h0M200.6 336.2h0M200.6 318.9h0M200.7 322.4h0M201.1 320.7h0M201.2 340.1h0M201.0 350.0h0M201.7 321.8h0M201.4 319.7h0M201.4 317.9h0M201.8 340.4h0M201.9 344.8h0M201.8 318.3h0M202.7 344.6h0M202.7 349.5h0M202.7 333.9h0M203.2 309.8h0M203.0 329.8h0M203.1 330.5h0M203.3 339.2h0M203.5 329.1h0M203.3 344.4h0M203.8 339.4h0M204.1 317.7h0M204.1 317.9h0M204.7 327.7h0M204.3 312.4h0M204.4 326.3h0M204.9 305.9h0M205.2 313.7h0M204.9 301.8h0M205.3 298.4h0M205.4 318.5h0M205.7 305.1h0M205.8 289.1h0M206.2 321.6h0M206.2 315.3h0M206.5 298.3h0M206.4 304.5h0M206.3 302.1h0M207.2 294.8h0M207.0 293.9h0M207.0 304.3h0M207.6 286.6h0M207.7 286.9h0M207.6 287.9h0M208.0 284.9h0M207.9 288.3h0M208.2 283.1h0M208.6 289.4h0M208.4 284.3h0M208.7 283.5h0M208.8 279.1h0M208.8 281.4h0M208.8 286.4h0M209.3 276.4h0M209.3 276.7h0M209.7 276.7h0M209.9 287.8h0M210.2 279.9h0M209.8 287.9h0M210.6 288.8h0M210.6 286.6h0M210.6 285.5h0M211.1 277.9h0M210.9 286.2h0M211.2 278.5h0M211.3 280.7h0M211.5 288.3h0M211.3 289.2h0M212.0 277.3h0M212.0 281.3h0M212.0 288.5h0M212.3 280.6h0M212.5 281.3h0M212.5 285.7h0M213.0 278.1h0M213.0 277.6h0M212.9 286.5h0M213.4 279.9h0M213.3 277.3h0M213.5 279.3h0M214.1 278.1h0M213.8 285.0h0M214.1 280.7h0M214.3 287.7h0M214.6 283.1h0M214.3 281.4h0M215.1 279.3h0M215.0 287.9h0M215.0 284.0h0M215.5 279.1h0M215.5 278.6h0M215.7 288.6h0M216.2 287.9h0M215.9 284.8h0M216.1 282.8h0M216.6 285.2h0M216.3 278.5h0M216.7 288.2h0M217.1 284.0h0M217.1 288.3h0M217.1 285.7h0M217.3 281.0h0M217.4 283.3h0M217.4 287.1h0M218.2 282.6h0M218.2 281.8h0M218.1 281.2h0M218.4 280.6h0M218.5 281.8h0M218.7 279.9h0M219.2 281.0h0M218.9 285.9h0M219.1 280.2h0M219.5 282.6h0M219.6 283.2h0M219.5 279.9h0M219.8 287.5h0M219.8 287.4h0M219.9 285.8h0M220.5 283.9h0M220.4 281.8h0M220.3 286.9h0M220.8 287.7h0M221.1 281.4h0M220.9 287.2h0M221.5 281.0h0M221.5 288.3h0M221.7 284.3h0M222.0 286.2h0M221.9 279.1h0M222.0 279.9h0M222.4 281.9h0M222.5 279.1h0M222.4 278.8h0M223.2 288.9h0M223.1 278.8h0M222.8 286.5h0M223.5 285.9h0M223.4 288.2h0M223.4 284.7h0M224.0 281.3h0M223.9 288.6h0M224.2 287.5h0M224.6 284.4h0M224.4 279.5h0M224.7 286.6h0M224.9 287.7h0M225.0 279.3h0M224.9 280.8h0M225.6 287.1h0M225.6 282.9h0M225.7 282.6h0M225.8 285.2h0M226.2 287.8h0M226.2 282.9h0M226.5 285.0h0M226.5 288.1h0M226.6 287.3h0M227.1 278.7h0M226.8 280.7h0M227.0 287.7h0M227.7 284.2h0M227.4 284.1h0M227.4 283.4h0M228.0 287.8h0M228.2 277.6h0M228.2 283.9h0M228.5 281.8h0M228.7 285.6h0M228.3 280.6h0M228.9 278.7h0M228.9 284.1h0M228.9 279.0h0M229.4 285.3h0M229.3 285.7h0M229.6 280.9h0M229.8 286.5h0M230.2 281.8h0M230.0 281.7h0M230.4 273.4h0M230.3 277.3h0M230.3 282.7h0M231.0 282.9h0M231.2 279.6h0M231.1 274.9h0M231.3 281.3h0M231.7 274.1h0M231.7 277.0h0M232.0 283.3h0M232.2 282.3h0M232.2 280.5h0M232.7 282.1h0M232.4 278.4h0M232.3 272.6h0M233.2 271.6h0M233.0 272.0h0M232.9 275.4h0M233.3 280.6h0M233.4 270.4h0M233.5 276.0h0M234.0 284.4h0M234.2 282.3h0M234.0 269.4h0M234.6 271.3h0M234.5 269.6h0M234.6 270.8h0M235.2 280.8h0M235.0 268.8h0M234.9 274.9h0M235.6 275.3h0M235.7 276.9h0M235.4 270.5h0M235.8 281.6h0M236.2 282.0h0M236.2 282.0h0M236.5 273.8h0M236.5 283.8h0M236.3 284.1h0M237.1 268.9h0M236.8 269.2h0M237.2 272.0h0M237.7 279.5h0M237.3 272.6h0M237.4 268.5h0M237.9 279.3h0M238.0 276.4h0M238.0 278.2h0M238.5 268.9h0M238.3 272.4h0M238.6 281.2h0M239.0 282.3h0M239.1 281.4h0M239.1 282.8h0M239.4 270.8h0M239.6 278.3h0M239.5 270.8h0M240.1 278.8h0M240.0 276.9h0M239.9 273.7h0M240.7 269.0h0M240.5 278.0h0M240.5 275.1h0M240.8 281.9h0M240.8 273.4h0M240.9 269.7h0M241.7 282.6h0M241.3 267.2h0M241.3 271.1h0M241.8 275.9h0M241.8 267.4h0M242.2 284.0h0M242.3 273.5h0M242.4 269.5h0M242.5 275.3h0M242.9 276.6h0M243.0 267.6h0M242.8 275.1h0M243.6 283.0h0M243.5 267.2h0M243.7 267.5h0M243.9 278.8h0M244.0 272.3h0M244.1 270.4h0M244.6 267.7h0M244.3 273.5h0M244.6 284.3h0M245.2 275.4h0M245.2 274.8h0M245.0 271.1h0M245.6 272.5h0M245.7 273.7h0M245.7 278.5h0M245.9 280.7h0M245.9 277.3h0M246.0 272.2h0M246.3 269.8h0M246.7 267.4h0M246.4 271.4h0M246.8 277.9h0M247.2 276.4h0M247.2 272.6h0M247.7 267.4h0M247.3 283.1h0M247.3 277.5h0M248.0 284.7h0M248.1 283.4h0M247.8 270.6h0M248.5 278.5h0M248.7 288.0h0M248.7 284.5h0M248.9 280.0h0M249.0 282.1h0M248.9 276.8h0M249.4 284.2h0M249.3 285.7h0M249.7 269.4h0M250.2 271.1h0M250.1 268.4h0M249.9 280.2h0M250.7 281.7h0M250.3 268.0h0M250.7 273.0h0M251.0 283.5h0M251.1 271.3h0M251.0 289.8h0M251.4 280.8h0M251.5 267.3h0M251.7 275.4h0M252.2 278.2h0M252.0 273.8h0M251.8 285.4h0M252.4 286.6h0M252.6 288.8h0M252.4 274.8h0M253.1 279.2h0M253.2 276.6h0M253.2 272.7h0M253.4 281.1h0M253.5 272.6h0M253.3 267.8h0M253.9 275.2h0M254.0 277.9h0M253.9 271.2h0M254.4 278.9h0M254.7 290.4h0M254.7 273.7h0M254.9 272.3h0M255.2 284.7h0M255.2 269.7h0M255.3 276.2h0M255.3 278.2h0M255.5 291.8h0M256.0 285.1h0M256.1 283.5h0M256.0 282.7h0M256.7 270.7h0M256.3 284.4h0M256.3 285.4h0M257.0 290.4h0M257.1 273.6h0M256.8 266.0h0M257.3 276.6h0M257.6 291.8h0M257.6 279.1h0M258.0 280.5h0M257.8 280.6h0M257.8 268.7h0M258.7 272.5h0M258.6 273.0h0M258.4 276.1h0M259.0 289.8h0M259.0 267.9h0M258.8 278.4h0M259.3 272.8h0M259.3 265.0h0M259.6 279.0h0M260.0 281.7h0M260.2 263.7h0M260.2 284.5h0M260.6 280.6h0M260.7 280.5h0M260.7 273.0h0M260.8 280.7h0M261.1 290.7h0M261.2 280.4h0M261.7 283.7h0M261.5 283.3h0M261.3 272.2h0M262.0 268.7h0M261.9 263.4h0M261.8 291.7h0M262.3 265.0h0M262.6 278.1h0M262.3 277.6h0M263.1 263.5h0M263.1 266.4h0M262.8 284.8h0M263.5 264.0h0M263.6 266.5h0M263.5 263.4h0M264.1 277.8h0M263.9 262.3h0M264.1 268.4h0M264.7 285.5h0M264.3 261.3h0M264.3 259.8h0M264.8 285.1h0M264.9 279.3h0M265.1 278.1h0M265.4 267.3h0M265.4 259.5h0M265.5 262.6h0M266.1 263.9h0M265.8 265.9h0M265.8 270.0h0M266.7 260.5h0M266.6 259.1h0M266.4 265.5h0M266.9 277.7h0M266.8 269.1h0M266.9 264.9h0M267.3 263.2h0M267.5 279.2h0M267.7 267.0h0M267.8 264.5h0M268.1 266.3h0M268.0 262.2h0M268.7 273.2h0M268.5 268.9h0M268.3 268.3h0M269.2 271.4h0M269.1 265.0h0M269.0 273.2h0M269.5 262.8h0M269.3 264.0h0M269.4 271.1h0M269.8 276.1h0M269.9 270.7h0M270.1 273.6h0M270.7 272.3h0M270.3 264.6h0M270.3 278.7h0M270.9 269.3h0M271.2 271.0h0M271.2 266.4h0M271.7 269.5h0M271.4 264.5h0M271.6 257.4h0M272.1 267.1h0M272.0 256.5h0M272.1 255.4h0M272.3 278.6h0M272.3 277.1h0M272.5 262.4h0M272.8 276.1h0M272.8 270.3h0M273.0 257.1h0M273.3 257.5h0M273.3 278.2h0M273.4 277.2h0M273.9 265.7h0M273.8 269.1h0M273.9 253.1h0M274.3 263.3h0M274.3 254.3h0M274.4 267.9h0M274.9 268.0h0M275.1 270.7h0M275.2 276.8h0M275.4 265.7h0M275.7 272.2h0M275.6 274.1h0M276.0 260.3h0M276.0 270.3h0M276.0 253.2h0M276.7 253.6h0M276.7 271.6h0M276.5 276.6h0M276.8 258.0h0M276.8 254.3h0M277.0 251.6h0M277.6 261.5h0M277.5 260.8h0M277.4 272.0h0M277.8 268.5h0M277.8 269.0h0M277.9 253.2h0M278.6 250.6h0M278.6 258.2h0M278.4 250.6h0M279.2 249.9h0M279.2 254.4h0M279.0 262.9h0M279.6 259.3h0M279.5 259.2h0M279.6 267.5h0M279.9 272.4h0M280.2 263.9h0M280.1 271.7h0M280.6 269.9h0M280.3 261.7h0M280.7 265.2h0M281.1 251.7h0M280.8 252.0h0M280.9 266.3h0M281.6 252.0h0M281.7 268.6h0M281.7 263.2h0M282.0 253.0h0M281.9 266.2h0M282.2 268.6h0M282.3 270.2h0M282.7 253.6h0M282.7 272.2h0M283.1 249.5h0M283.2 272.6h0M282.8 272.6h0M283.7 253.9h0M283.4 259.4h0M283.6 267.1h0M284.0 259.9h0M283.9 250.9h0M284.0 253.1h0M284.3 257.6h0M284.5 273.3h0M284.5 267.6h0M284.8 265.7h0M285.0 254.8h0M285.1 257.3h0M285.3 268.0h0M285.7 250.4h0M285.6 262.7h0M286.2 255.1h0M286.1 271.4h0M285.9 267.7h0M286.4 268.5h0M286.4 268.1h0M286.4 264.1h0M287.0 253.2h0M286.8 259.9h0M287.2 264.5h0M287.7 266.1h0M287.4 270.1h0M287.6 260.6h0M288.1 252.7h0M288.0 259.2h0M288.2 255.9h0M288.4 254.1h0M288.7 258.2h0M288.7 249.6h0M289.2 263.9h0M289.2 255.7h0M288.9 261.5h0M289.4 262.9h0M289.7 261.8h0M289.3 264.5h0M290.2 267.1h0M290.1 257.7h0M289.8 262.8h0M290.4 247.8h0M290.3 257.8h0M290.3 258.8h0M291.0 269.3h0M290.9 263.7h0M291.0 247.4h0M291.3 251.7h0M291.3 261.9h0M291.4 260.5h0M291.8 250.9h0M292.1 245.4h0M291.9 252.5h0M292.7 252.7h0M292.7 269.1h0M292.4 248.3h0M292.8 256.8h0M292.8 248.1h0M292.9 245.8h0M293.3 245.1h0M293.5 258.8h0M293.4 257.5h0M294.0 261.7h0M293.8 249.2h0M294.1 247.1h0M294.6 263.0h0M294.6 254.1h0M294.5 253.0h0M294.8 252.2h0M294.9 256.3h0M294.9 246.2h0M295.3 253.8h0M295.4 241.0h0M295.5 263.2h0M296.1 241.3h0M296.2 242.1h0M295.9 261.1h0M296.4 250.7h0M296.5 255.5h0M296.5 259.6h0M296.8 253.5h0M297.0 254.4h0M296.8 255.3h0M297.6 240.8h0M297.6 257.0h0M297.6 239.8h0M297.9 243.9h0M298.2 256.6h0M297.8 249.8h0M298.7 245.9h0M298.6 256.8h0M298.6 253.0h0M298.8 244.4h0M298.8 236.0h0M299.1 248.9h0M230.8 364.3h0M232.0 360.4h0M230.6 364.8h0M230.9 363.4h0M202.5 335.1h0M205.0 321.1h0M205.2 327.1h0M203.7 339.8h0M205.8 334.6h0M200.1 339.8h0M201.7 333.3h0M202.7 340.6h0M204.4 328.3h0M203.2 327.1h0M271.1 293.0h0M297.0 291.9h0M287.1 284.3h0M264.3 297.2h0M296.6 290.4h0M280.4 291.9h0M256.2 272.0h0M251.6 296.0h0M266.4 291.5h0M286.4 281.4h0M279.0 296.3h0M250.9 284.1h0M298.9 239.8h0M298.9 248.1h0M298.8 244.6h0M299.7 235.5h0M299.7 235.6h0M299.5 247.1h0M299.9 241.5h0M299.9 238.0h0M300.1 242.5h0M300.6 243.2h0M300.3 237.4h0M300.5 235.1h0M300.8 237.1h0M300.8 238.1h0M300.8 232.7h0M301.3 244.6h0M301.6 236.8h0M301.5 243.0h0M301.8 245.7h0M302.2 247.7h0M302.1 243.5h0M302.7 244.5h0M302.4 237.1h0M302.7 247.2h0M303.1 237.0h0M303.1 231.3h0M303.0 238.5h0M303.3 242.0h0M303.3 237.7h0M303.3 239.7h0M304.2 246.5h0M304.0 245.2h0M303.8 235.9h0M304.4 242.1h0M304.7 239.7h0M304.7 241.0h0M305.2 245.9h0M305.1 244.0h0M305.0 245.9h0M305.3 245.3h0M305.6 231.7h0M305.3 236.6h0M306.2 238.4h0M306.2 238.3h0M305.8 230.1h0M306.6 244.6h0M306.5 230.9h0M306.4 235.1h0M307.2 236.2h0M307.1 237.4h0M306.9 236.1h0M307.3 229.9h0M307.7 233.7h0M307.7 237.5h0M308.2 231.8h0M307.8 229.8h0M308.2 244.6h0M308.4 240.2h0M308.4 233.1h0M308.6 231.4h0M309.2 238.0h0M308.9 241.7h0M309.0 242.6h0M309.7 233.4h0M309.7 231.8h0M309.5 235.4h0M310.1 244.9h0M309.8 237.3h0M309.8 246.2h0M310.5 238.0h0M310.6 232.3h0M310.4 236.7h0M311.2 238.2h0M311.0 237.1h0M310.9 238.6h0M311.7 243.0h0M311.3 240.4h0M311.7 246.7h0M311.9 239.0h0M311.8 248.0h0M312.2 236.3h0M312.5 238.3h0M312.6 235.0h0M312.3 243.2h0M313.2 249.0h0M312.8 244.1h0M313.2 240.2h0M313.5 241.3h0M313.3 240.2h0M313.4 246.1h0M314.0 235.3h0M314.1 245.6h0M314.1 235.9h0M314.3 236.3h0M314.6 247.9h0M314.7 248.3h0M314.9 240.1h0M315.2 248.1h0M314.8 248.0h0M315.5 245.3h0M315.6 244.8h0M315.4 246.5h0M315.8 238.8h0M316.0 239.4h0M316.2 247.9h0M316.3 238.9h0M316.6 244.7h0M316.5 248.7h0M317.1 237.6h0M316.9 249.3h0M316.9 242.4h0M317.5 239.4h0M317.6 239.4h0M317.7 243.3h0M318.2 247.9h0M317.8 237.2h0M317.9 249.5h0M318.3 241.4h0M318.5 249.6h0M318.6 239.9h0M318.8 240.3h0M319.1 249.1h0M319.1 242.4h0M319.4 241.1h0M319.3 249.9h0M319.4 238.7h0M320.2 250.0h0M320.0 247.7h0M319.9 245.9h0M320.6 247.1h0M320.4 242.6h0M320.4 247.8h0M321.0 243.7h0M320.8 249.4h0M320.9 242.5h0M321.7 245.6h0M321.6 245.1h0M321.4 243.4h0M321.8 242.7h0M321.9 243.5h0M321.8 246.5h0M322.5 240.5h0M322.4 249.5h0M322.3 245.0h0M323.0 248.1h0M323.1 240.8h0M322.8 247.8h0M323.3 242.6h0M323.4 243.2h0M323.7 243.4h0M324.0 244.0h0M323.8 245.1h0M323.9 244.3h0M324.7 247.5h0M324.7 244.2h0M324.4 245.4h0M325.0 247.6h0M324.9 240.8h0M324.9 242.7h0M325.5 247.9h0M325.7 243.0h0M325.5 241.2h0M326.1 247.8h0M326.1 247.2h0M326.1 249.7h0M326.6 241.4h0M326.6 249.4h0M326.5 245.1h0M327.0 241.0h0M327.2 247.8h0M327.2 249.5h0M327.3 243.4h0M327.6 248.6h0M327.4 243.3h0M328.2 248.3h0M328.1 247.8h0M327.9 240.6h0M328.5 240.3h0M328.5 250.0h0M328.7 242.4h0M328.8 241.2h0M328.8 241.9h0M328.9 244.0h0M329.3 243.7h0M329.4 248.1h0M329.4 242.2h0M329.8 241.7h0M330.0 250.2h0M330.1 241.5h0M330.7 245.1h0M330.4 244.1h0M330.4 245.3h0M330.9 244.1h0M331.2 244.1h0M331.2 250.4h0M331.7 243.4h0M331.3 242.2h0M331.7 242.9h0M331.9 245.7h0M332.2 241.0h0M332.1 245.4h0M332.6 243.7h0M332.7 242.5h0M332.7 243.1h0M333.2 240.9h0M333.1 249.3h0M333.2 247.0h0M333.5 249.9h0M333.3 249.2h0M333.7 247.2h0M333.8 244.5h0M334.1 250.9h0M333.9 245.6h0M334.5 242.9h0M334.7 250.3h0M334.4 249.2h0M335.2 248.2h0M334.9 251.0h0M335.0 241.7h0M335.5 248.4h0M335.7 242.5h0M335.4 243.7h0M336.0 247.8h0M335.8 250.5h0M335.8 246.6h0M336.4 246.2h0M336.3 248.0h0M336.5 244.8h0M337.0 244.1h0M337.1 245.3h0M336.9 242.9h0M337.4 242.5h0M337.5 241.5h0M337.7 250.2h0M338.2 246.4h0M337.9 249.7h0M338.1 243.5h0M338.5 243.7h0M338.4 244.4h0M338.3 241.8h0M339.2 242.5h0M338.9 243.0h0M338.9 246.4h0M339.6 249.5h0M339.5 250.0h0M339.5 243.0h0M340.0 244.1h0M340.1 248.6h0M339.8 243.0h0M340.6 245.8h0M340.3 244.0h0M340.7 250.5h0M340.8 246.7h0M340.9 246.5h0M341.2 249.0h0M341.6 251.4h0M341.3 247.1h0M341.5 246.7h0M342.1 251.5h0M341.9 250.4h0M342.1 248.2h0M342.7 251.6h0M342.6 250.4h0M342.6 248.7h0M343.2 245.0h0M342.9 247.5h0M343.1 250.7h0M343.7 248.8h0M343.3 248.8h0M343.7 251.8h0M343.8 251.4h0M343.9 250.8h0M344.0 248.2h0M344.3 247.6h0M344.7 249.0h0M344.4 244.8h0M345.0 249.9h0M345.1 250.8h0M344.9 246.0h0M345.3 247.2h0M345.6 248.0h0M345.4 245.2h0M345.8 246.4h0M346.0 251.0h0M346.1 247.9h0M346.4 248.4h0M346.7 250.3h0M346.6 244.9h0M346.8 246.5h0M347.2 246.2h0M347.1 244.7h0M347.4 244.8h0M347.4 246.1h0M347.6 246.5h0M348.2 251.0h0M347.8 249.5h0M348.0 249.4h0M348.6 246.3h0M348.7 249.0h0M348.3 249.9h0M349.0 244.7h0M348.9 246.6h0M349.1 250.5h0M349.6 250.5h0M349.7 245.7h0M349.7 244.6h0M349.8 245.3h0M350.1 249.8h0M350.1 245.6h0M350.7 245.0h0M350.7 246.4h0M350.7 247.8h0M351.1 246.0h0M350.8 250.1h0M350.8 246.4h0M351.7 244.0h0M351.7 245.5h0M351.6 247.7h0M352.1 249.5h0M351.8 247.3h0M352.2 244.3h0M352.3 248.9h0M352.6 245.9h0M352.6 244.2h0M353.2 247.6h0M352.9 245.0h0M352.8 248.2h0M353.5 247.1h0M353.5 244.2h0M353.4 246.3h0M353.8 244.7h0M353.8 247.6h0M354.1 243.5h0M354.3 243.9h0M354.4 247.3h0M354.5 246.5h0M354.9 248.9h0M355.1 243.0h0M354.9 244.0h0M355.3 244.7h0M355.3 248.2h0M355.6 245.1h0M355.9 246.6h0M356.0 249.0h0M355.8 243.2h0M356.7 242.9h0M356.5 247.1h0M356.5 243.5h0M356.9 245.7h0M356.9 244.4h0M356.9 243.3h0M357.3 242.6h0M357.5 248.7h0M357.7 247.6h0M358.1 247.3h0M357.8 245.9h0M358.0 243.3h0M358.5 243.8h0M358.3 247.6h0M358.7 242.0h0M358.9 245.9h0M359.1 245.9h0M359.0 247.1h0M359.4 244.8h0M359.6 245.6h0M359.7 243.6h0M359.9 244.5h0M359.8 242.7h0M359.8 242.1h0M360.3 247.3h0M360.3 244.8h0M360.7 242.5h0M361.1 241.9h0M361.1 240.9h0M360.9 247.2h0M361.4 240.8h0M361.4 244.4h0M361.4 241.4h0M361.9 247.3h0M362.2 245.0h0M362.2 241.4h0M362.3 244.3h0M362.3 245.0h0M362.3 244.8h0M362.9 243.7h0M362.9 246.0h0M363.2 246.6h0M363.5 242.8h0M363.3 245.6h0M363.3 238.9h0M363.8 239.8h0M364.0 241.5h0M363.8 247.8h0M364.5 244.4h0M364.7 238.4h0M364.3 244.0h0M364.9 245.5h0M365.2 237.0h0M365.0 242.9h0M365.7 247.9h0M365.3 238.5h0M365.4 240.6h0M365.9 237.8h0M366.0 237.4h0M365.8 243.2h0M366.5 243.1h0M366.3 240.7h0M366.5 243.7h0M366.8 240.1h0M367.0 247.9h0M367.1 237.4h0M367.3 238.9h0M367.6 240.6h0M367.4 244.2h0M367.8 236.7h0M368.0 241.8h0M367.9 237.6h0M368.4 236.4h0M368.7 244.5h0M368.3 236.4h0M369.0 240.5h0M369.2 242.2h0M368.9 243.7h0M369.6 236.5h0M369.3 239.2h0M369.6 245.7h0M370.1 236.1h0M369.9 240.1h0M370.2 240.6h0M370.5 236.9h0M370.7 244.8h0M370.4 239.1h0M371.1 243.7h0M371.1 242.3h0M370.8 241.5h0M371.7 241.1h0M371.4 237.0h0M371.3 240.9h0M371.9 236.4h0M372.0 243.1h0M372.2 238.4h0M372.5 241.5h0M372.6 237.3h0M372.3 245.9h0M373.0 239.0h0M373.1 239.8h0M373.0 249.8h0M373.4 239.1h0M373.7 242.8h0M373.4 246.5h0M374.1 249.5h0M374.1 247.5h0M374.2 246.7h0M374.4 253.7h0M374.6 253.0h0M374.3 249.7h0M375.2 245.0h0M375.1 246.2h0M375.0 250.6h0M375.6 248.8h0M375.7 248.0h0M375.3 241.3h0M376.1 256.2h0M375.9 242.4h0M375.8 242.1h0M376.4 246.3h0M376.3 252.4h0M376.6 255.0h0M377.0 247.2h0M377.0 250.7h0M377.0 247.7h0M377.5 250.8h0M377.7 253.3h0M377.7 255.9h0M378.2 245.0h0M378.2 251.3h0M378.0 249.6h0M378.3 256.2h0M378.5 253.1h0M378.6 254.0h0M378.8 243.8h0M379.2 249.2h0M378.8 248.5h0M379.4 256.7h0M379.3 250.3h0M379.5 254.1h0M379.8 255.7h0M380.0 252.1h0M379.9 257.3h0M380.5 255.9h0M380.3 249.8h0M380.6 253.3h0M381.0 263.0h0M380.9 247.6h0M381.0 246.0h0M381.4 258.9h0M381.3 247.1h0M381.6 260.6h0M381.9 249.2h0M381.9 255.6h0M382.2 249.1h0M382.6 261.0h0M382.3 261.7h0M382.7 254.9h0M383.0 250.3h0M382.9 253.7h0M382.8 252.7h0M383.3 254.1h0M383.5 256.1h0M383.7 263.0h0M384.1 253.3h0M383.9 257.9h0M384.0 259.0h0M384.7 268.2h0M384.4 268.8h0M384.4 254.7h0M385.2 260.8h0M385.0 262.4h0M384.8 260.4h0M385.7 251.9h0M385.6 257.0h0M385.6 268.7h0M386.1 261.8h0M386.2 263.8h0M386.2 255.1h0M386.4 254.6h0M386.4 252.5h0M386.5 259.3h0M387.1 257.6h0M387.0 252.5h0M387.2 258.1h0M387.6 265.9h0M387.7 253.3h0M387.7 252.5h0M388.0 264.4h0M388.2 262.5h0M388.1 252.0h0M388.3 263.2h0M388.3 266.9h0M388.3 256.1h0M389.0 252.1h0M388.8 259.0h0M389.2 264.7h0M389.7 254.0h0M389.3 258.9h0M389.7 265.7h0M390.1 256.4h0M390.0 254.0h0M390.1 261.4h0M390.3 252.6h0M390.3 262.5h0M390.3 263.4h0M391.1 255.9h0M391.1 263.8h0M390.8 254.0h0M391.7 255.9h0M391.4 258.0h0M391.4 259.3h0M392.1 262.3h0M392.2 258.0h0M392.2 262.8h0M392.6 254.9h0M392.4 254.4h0M392.6 265.0h0M392.9 258.4h0M393.2 257.9h0M392.8 256.1h0M393.7 260.1h0M393.7 256.5h0M393.4 260.8h0M393.9 262.0h0M394.1 256.4h0M394.2 258.9h0M394.5 264.6h0M394.4 263.8h0M394.3 262.1h0M395.1 258.1h0M395.0 268.1h0M394.8 264.4h0M395.4 266.0h0M395.4 258.4h0M395.6 258.3h0M395.8 258.4h0M395.9 262.5h0M396.2 268.5h0M396.3 260.6h0M396.5 258.8h0M396.3 257.6h0M397.2 258.1h0M397.2 257.5h0M396.8 257.3h0M397.7 269.6h0M397.5 257.9h0M397.4 263.3h0M398.1 263.6h0M398.2 259.7h0M398.0 269.3h0M398.3 261.0h0M398.7 271.8h0M398.6 258.6h0M399.0 269.7h0M399.2 272.0h0M399.0 268.1h0M399.4 272.2h0M399.5 266.7h0M399.5 263.0h0M400.1 264.5h0M400.2 275.0h0M399.9 260.9h0M400.4 275.4h0M400.4 266.8h0M400.5 262.5h0M401.0 266.8h0M400.8 267.7h0M400.9 261.7h0M401.3 264.3h0M401.4 270.5h0M401.7 271.9h0M402.2 269.3h0M402.2 274.0h0M401.9 263.5h0M402.5 276.7h0M402.6 267.8h0M402.7 263.4h0M402.8 276.9h0M402.8 266.9h0M402.8 272.3h0M388.0 277.4h0M386.4 277.4h0M391.3 275.2h0M296.9 299.7h0M265.0 333.5h0M266.7 305.9h0M268.8 314.8h0M288.7 315.5h0M299.7 326.3h0M280.5 321.8h0M298.9 290.3h0M281.5 328.6h0M268.5 308.9h0M293.1 291.1h0M267.4 300.7h0M299.2 304.5h0M288.9 332.7h0M265.8 318.7h0M287.4 293.4h0M256.6 336.3h0M252.5 324.6h0M252.8 326.6h0M249.4 329.6h0M288.6 393.2h0M285.8 352.6h0M286.6 368.6h0M279.2 347.0h0M271.5 371.9h0M282.5 394.2h0M258.3 371.0h0M287.9 390.2h0M288.9 377.8h0M256.6 348.0h0M272.0 361.9h0M289.8 370.5h0M289.7 360.5h0M286.2 342.9h0M254.2 343.9h0M265.2 351.4h0M255.3 328.2h0M253.1 325.9h0M261.0 316.4h0M255.0 335.8h0M258.8 334.9h0M268.9 319.0h0M282.6 384.0h0M279.2 387.0h0M252.5 383.3h0M275.9 381.9h0M259.4 385.1h0M272.2 381.7h0M281.8 377.2h0M281.1 388.0h0M272.4 387.2h0M251.7 378.4h0M275.4 379.3h0M283.5 387.0h0M284.2 384.5h0M260.7 393.7h0M303.4 295.8h0M309.7 330.0h0M298.3 295.0h0M303.4 300.9h0M304.3 292.7h0M313.2 275.4h0M308.0 259.0h0M312.8 274.9h0M303.7 276.4h0M248.9 363.9h0M245.3 371.9h0M359.0 294.8h0M357.7 267.1h0M358.6 278.4h0M358.7 258.5h0M385.5 381.7h0M385.9 296.3h0M386.7 290.0h0M385.8 375.5h0M387.2 312.6h0M385.6 285.4h0M385.6 393.2h0M389.0 317.4h0M390.0 304.0h0M392.4 279.7h0M391.7 311.9h0M402.8 305.8h0M400.3 320.0h0M402.8 293.4h0M402.0 333.6h0M399.7 301.3h0M408.2 379.4h0M409.6 328.5h0M406.5 378.6h0M407.8 305.0h0M406.5 318.8h0M409.8 376.3h0M412.8 381.2h0M414.7 362.3h0M412.8 369.6h0M417.4 383.5h0M407.6 381.4h0M409.4 360.0h0M406.2 382.8h0M409.5 384.5h0M414.1 364.3h0M415.9 387.8h0M415.9 392.4h0M415.8 390.2h0M411.0 385.2h0M416.3 382.1h0M412.6 384.2h0M411.2 378.4h0M411.2 383.8h0M413.5 385.4h0M409.3 390.2h0M416.9 393.1h0M408.3 385.4h0M411.7 389.6h0M411.4 383.0h0M411.8 393.8h0M412.4 378.1h0M440.0 293.9h0M441.7 375.8h0M438.6 322.9h0M439.8 282.9h0M438.8 324.5h0M454.5 255.9h0M477.7 379.0h0M475.4 362.7h0M473.7 299.2h0M471.2 284.3h0M471.5 345.9h0M475.9 303.2h0M475.3 304.8h0M479.3 352.4h0M478.2 324.6h0M473.8 240.6h0M479.1 317.9h0M480.6 383.7h0M473.1 344.7h0M474.0 274.8h0M473.3 383.3h0M477.7 275.6h0M479.0 344.4h0M472.5 394.7h0M478.0 249.0h0M473.7 304.5h0M474.7 269.5h0M478.2 271.8h0M479.3 308.2h0M477.9 389.0h0M479.2 364.1h0M475.8 305.9h0M478.9 327.9h0M478.9 274.0h0M473.5 255.9h0M475.3 329.3h0M479.1 320.2h0M474.3 323.7h0M476.4 259.8h0M474.4 325.5h0M477.8 326.4h0M474.2 282.9h0M503.3 387.8h0M505.2 292.4h0M504.8 318.4h0M504.3 350.8h0M520.5 311.3h0M516.1 287.6h0M519.8 301.8h0M519.2 378.4h0M521.8 243.1h0M521.3 350.5h0M514.2 333.2h0M525.8 290.2h0M519.0 385.1h0M523.3 297.6h0M519.9 258.3h0M519.9 335.4h0M522.7 264.0h0M521.7 284.0h0M519.8 325.2h0M521.7 297.0h0M522.7 266.3h0M537.1 317.0h0M532.0 327.8h0M536.5 234.2h0M534.5 272.2h0M535.1 247.5h0M535.7 373.8h0M533.8 314.0h0M536.6 315.1h0M538.0 266.8h0M534.8 380.9h0M540.0 377.4h0M533.1 241.1h0M534.3 260.2h0M536.4 374.3h0M538.6 304.3h0M532.5 327.5h0M533.9 331.9h0M539.2 246.8h0M540.0 319.7h0M536.4 267.6h0M531.6 236.9h0M537.0 311.4h0M533.6 323.0h0M536.6 295.1h0M533.0 273.4h0M537.5 260.7h0M536.1 272.4h0M537.0 263.8h0M534.0 281.4h0M535.2 350.4h0M536.5 337.7h0M535.0 385.3h0M537.7 316.2h0M534.7 260.7h0M539.0 384.2h0M539.3 277.4h0M537.3 282.5h0M439.0 215.3h0M439.2 214.5h0M439.0 213.7h0M439.4 209.0h0M439.4 208.7h0M439.7 214.6h0M440.2 208.8h0M440.0 214.2h0M440.2 216.4h0M440.4 208.5h0M440.4 209.1h0M440.6 210.3h0M441.0 213.2h0M441.2 213.9h0M441.0 208.1h0M441.4 209.8h0M441.6 216.0h0M441.6 209.3h0M442.2 213.7h0M442.1 206.8h0M442.1 210.6h0M442.3 213.7h0M442.7 207.7h0M442.6 206.1h0M442.9 215.7h0M443.1 207.6h0M443.2 213.3h0M443.5 206.4h0M443.4 212.8h0M443.7 208.9h0M444.1 214.4h0M444.1 206.4h0M444.1 206.7h0M444.7 213.1h0M444.4 210.5h0M444.4 215.1h0M445.2 213.6h0M444.8 213.6h0M445.0 215.5h0M445.3 209.9h0M445.3 211.8h0M445.7 209.6h0M446.0 213.5h0M446.2 210.9h0M446.2 217.1h0M446.7 217.0h0M446.3 216.7h0M446.3 211.9h0M446.8 217.0h0M447.1 213.5h0M446.9 212.2h0M447.6 210.9h0M447.6 210.5h0M447.5 217.2h0M448.1 210.3h0M447.8 215.3h0M448.0 213.8h0M448.4 213.7h0M448.7 213.0h0M448.6 215.8h0M449.1 214.4h0M448.8 212.7h0M448.8 216.7h0M449.7 218.7h0M449.4 212.4h0M449.6 216.9h0M449.8 212.5h0M449.8 213.1h0M450.1 218.7h0M450.6 214.4h0M450.4 215.3h0M450.7 215.5h0M450.9 217.4h0M451.1 212.2h0M451.0 213.0h0M451.5 218.7h0M451.4 216.4h0M451.5 212.0h0M452.1 212.2h0M451.8 219.8h0M451.9 215.1h0M452.5 216.5h0M452.3 216.0h0M452.6 218.6h0M453.2 220.0h0M453.0 218.2h0M452.9 215.6h0M453.5 223.6h0M453.5 215.4h0M453.6 214.7h0M454.1 216.5h0M454.2 219.3h0M454.1 221.3h0M454.5 219.5h0M454.3 223.7h0M454.3 220.2h0M455.1 226.7h0M455.2 225.4h0M454.9 219.9h0M455.4 221.4h0M455.3 220.7h0M455.7 232.1h0M456.0 227.0h0M456.2 233.4h0M456.1 226.5h0M456.5 227.4h0M456.5 229.4h0M456.6 222.6h0M456.8 227.9h0M457.1 236.1h0M456.8 227.5h0M457.3 240.5h0M457.5 230.0h0M457.5 236.1h0M457.8 231.3h0M457.8 227.9h0M458.1 229.9h0M458.6 232.5h0M458.6 243.5h0M458.3 237.0h0M459.1 237.6h0M459.0 240.1h0M458.8 245.4h0M459.4 235.0h0M459.4 242.8h0M459.3 242.2h0M459.9 244.4h0M459.9 235.9h0M460.1 237.4h0M460.5 244.2h0M460.6 242.3h0M460.5 240.2h0M460.9 237.9h0M460.8 245.4h0M460.8 238.2h0M461.3 243.4h0M461.3 235.2h0M461.4 241.5h0M462.0 228.4h0M462.2 239.1h0M462.0 239.8h0M462.6 230.4h0M462.3 228.8h0M462.4 240.3h0M462.8 231.4h0M463.0 231.8h0M462.8 231.3h0M463.4 231.8h0M463.3 234.3h0M463.5 232.8h0M464.2 235.7h0M464.2 236.5h0M463.8 229.1h0M464.3 227.6h0M464.5 236.8h0M464.5 237.2h0M465.2 232.7h0M465.0 234.4h0M465.1 228.4h0M465.6 229.7h0M465.6 223.9h0M465.4 226.1h0M466.2 235.8h0M466.0 233.1h0M466.1 231.7h0M466.5 224.7h0M466.3 230.6h0M466.6 225.1h0M467.0 232.6h0M466.8 235.8h0M467.0 230.8h0M467.4 233.2h0M467.4 234.6h0M467.4 231.0h0M467.8 225.5h0M468.0 234.0h0M468.2 231.5h0M468.3 228.1h0M468.3 232.4h0M468.7 226.3h0M468.8 231.4h0M469.1 230.3h0M468.8 236.4h0M469.3 234.3h0M469.6 235.9h0M469.7 234.0h0M469.9 228.7h0M470.0 232.4h0M469.8 235.2h0M470.5 231.7h0M470.3 228.3h0M470.3 233.6h0M471.1 237.4h0M470.8 227.9h0M471.2 234.1h0M471.7 227.6h0M471.4 234.0h0M471.4 234.2h0M471.8 236.0h0M472.0 236.4h0M472.2 236.3h0M472.5 233.9h0M472.4 233.1h0M472.4 230.3h0M473.2 232.0h0M473.0 238.6h0M472.8 236.3h0M473.6 230.2h0M473.7 233.2h0M473.7 239.6h0M475.6 229.3h0M475.5 228.5h0M475.4 230.8h0M476.2 233.4h0M476.1 235.5h0M475.9 231.6h0M476.3 234.0h0M476.7 233.4h0M476.4 228.8h0M477.1 235.2h0M477.2 228.6h0M477.1 234.6h0M477.7 234.8h0M477.3 231.4h0M477.7 234.1h0M477.9 228.8h0M477.9 235.0h0M478.1 232.0h0M478.6 229.9h0M478.4 232.4h0M478.3 229.6h0M478.8 228.9h0M478.9 234.4h0M479.1 227.5h0M479.4 233.3h0M479.7 233.7h0M479.3 232.7h0M480.2 231.8h0M480.1 227.1h0M480.0 227.6h0M480.7 231.3h0M480.4 228.3h0M480.6 230.0h0M480.8 230.3h0M481.0 233.5h0M481.2 226.5h0M481.6 232.5h0M481.4 229.3h0M481.5 231.0h0M482.0 232.5h0M481.9 226.1h0M482.0 228.9h0M482.7 228.0h0M482.4 232.6h0M482.3 225.5h0M483.2 233.9h0M483.1 229.4h0M483.0 228.7h0M483.4 230.5h0M483.6 233.3h0M483.3 231.5h0M484.2 232.5h0M484.2 226.5h0M483.8 228.4h0M484.6 230.8h0M484.5 232.7h0M484.6 231.2h0M485.2 225.1h0M485.1 229.7h0M485.0 228.9h0M485.4 224.8h0M485.3 224.9h0M485.3 224.2h0M486.1 230.3h0M486.1 226.4h0M486.1 223.7h0M486.4 229.3h0M486.6 226.4h0M486.3 228.5h0M487.1 223.0h0M486.8 232.2h0M486.8 228.3h0M487.3 229.3h0M487.7 225.9h0M487.4 227.6h0M487.9 230.7h0M488.1 224.7h0M488.1 228.5h0M488.7 223.2h0M488.3 228.8h0M488.6 222.2h0M488.9 229.8h0M489.1 225.2h0M489.0 231.1h0M489.3 227.2h0M489.4 230.6h0M489.7 229.2h0M489.9 231.7h0M490.0 225.3h0M490.2 221.4h0M490.6 226.4h0M490.7 224.2h0M490.7 223.9h0M490.8 220.8h0M491.0 228.9h0M491.0 230.8h0M491.5 224.6h0M491.4 229.5h0M491.3 224.1h0M492.2 220.8h0M492.1 225.9h0M492.2 229.2h0M492.5 228.3h0M492.6 220.3h0M492.7 219.4h0M492.8 221.1h0M493.0 224.0h0M492.9 220.1h0M493.3 218.4h0M493.7 224.5h0M493.5 227.7h0M494.2 217.7h0M493.9 219.3h0M494.2 226.3h0M494.5 220.4h0M494.4 225.3h0M494.4 214.9h0M495.0 216.6h0M494.8 226.9h0M494.8 225.2h0M495.3 223.1h0M495.6 217.2h0M495.6 224.0h0M496.0 226.2h0M496.0 222.9h0M495.8 217.0h0M496.4 220.4h0M496.3 216.9h0M496.3 221.3h0M497.2 225.5h0M497.1 216.0h0M497.2 220.8h0M497.5 218.3h0M497.4 218.7h0M497.3 217.7h0M498.1 223.1h0M497.9 221.4h0M497.8 217.6h0M498.4 223.4h0M498.4 226.9h0M498.5 227.5h0M498.9 225.2h0M498.8 217.6h0M498.9 223.2h0M499.7 220.6h0M499.5 221.3h0M499.7 223.6h0M499.8 220.2h0M499.8 225.6h0M500.2 225.1h0M500.6 224.8h0M500.4 227.2h0M500.7 225.8h0M501.2 223.5h0M501.2 225.3h0M501.2 228.7h0M501.4 219.1h0M501.3 221.1h0M501.5 227.0h0M501.9 222.7h0M502.2 224.7h0M501.8 222.3h0M502.6 219.5h0M502.4 229.7h0M502.3 223.7h0M502.8 224.2h0M503.1 222.7h0M503.0 229.5h0M503.4 229.5h0M503.6 221.2h0M503.5 227.1h0M503.8 221.8h0M504.1 227.5h0M504.1 221.2h0M504.5 227.6h0M504.4 222.0h0M504.4 228.2h0M505.2 225.8h0M504.8 224.9h0M505.1 221.6h0M505.7 224.6h0M505.7 222.1h0M505.5 222.9h0M512.6 214.1h0M512.3 214.5h0M512.5 214.0h0M513.1 220.4h0M513.1 215.5h0M513.1 214.5h0M513.3 214.7h0M513.5 221.4h0M513.5 211.6h0M513.8 211.4h0M514.2 215.2h0M513.8 221.3h0M514.6 218.4h0M514.7 222.3h0M514.7 212.6h0M515.2 215.7h0M515.0 216.6h0M514.8 219.1h0M515.4 222.2h0M515.6 220.0h0M515.7 218.8h0M515.9 217.8h0M515.9 220.8h0M516.1 219.5h0M516.4 221.4h0M516.7 219.4h0M516.3 216.2h0M516.8 223.5h0M516.9 221.8h0M516.8 221.0h0M517.6 222.7h0M517.4 215.4h0M517.4 223.4h0M518.2 220.9h0M517.8 222.4h0M518.0 215.1h0M518.6 223.8h0M518.4 216.2h0M518.3 216.1h0M518.8 219.3h0M518.8 218.0h0M518.9 216.2h0M519.5 219.2h0M519.4 217.9h0M519.7 218.9h0M520.2 219.9h0M519.9 216.1h0M520.2 214.6h0M520.4 214.0h0M520.4 218.3h0M520.7 217.2h0M521.2 214.2h0M521.1 216.1h0M521.1 219.3h0M521.6 209.2h0M521.3 215.6h0M521.3 208.6h0M521.9 215.1h0M522.1 215.9h0M522.0 211.4h0M522.3 216.0h0M522.7 209.1h0M522.4 210.6h0M523.2 209.1h0M523.0 212.0h0M523.0 210.5h0M523.5 208.5h0M523.3 206.9h0M523.3 204.8h0M524.1 204.9h0M523.9 212.5h0M524.1 203.8h0M524.6 204.0h0M524.3 208.5h0M524.7 202.0h0M525.0 203.2h0M525.0 203.3h0M525.0 212.0h0M525.3 202.6h0M525.5 203.9h0M525.6 203.9h0M526.1 208.0h0M525.9 207.9h0M526.1 208.2h0M526.5 208.5h0M526.6 212.9h0M526.6 201.6h0M526.8 205.0h0M527.2 212.3h0M527.0 208.4h0M527.5 210.8h0M527.7 205.3h0M527.6 201.1h0M527.9 212.3h0M527.8 211.2h0M528.1 207.9h0M528.5 201.2h0M528.3 207.0h0M528.3 202.1h0M528.9 204.5h0M528.8 207.1h0M529.1 210.0h0M529.7 207.3h0M529.6 209.2h0M529.4 209.5h0M529.9 201.5h0M529.9 212.7h0M529.9 202.0h0M530.6 205.7h0M530.3 210.7h0M530.6 208.6h0M531.2 206.9h0M530.8 203.7h0M530.8 210.0h0M531.7 210.3h0M531.3 210.8h0M531.5 208.7h0M532.1 213.6h0M531.8 214.4h0M532.0 214.9h0M532.6 212.7h0M532.7 205.4h0M532.5 207.3h0M533.1 213.0h0M533.1 208.7h0M532.8 208.2h0M533.3 212.9h0M533.5 212.7h0M533.4 211.4h0M537.6 199.5h0M537.7 200.2h0M537.9 206.6h0M538.5 205.8h0M538.4 203.1h0M538.3 205.8h0M538.6 202.7h0M539.0 200.7h0M538.9 201.5h0M539.3 207.3h0M539.5 200.5h0M539.3 201.5h0M539.9 199.5h0M539.7 199.9h0M540.0 201.7h0M539.7 200.8h0M539.8 200.3h0M540.6 200.3h0M541.2 199.9h0M541.9 200.4h0M542.0 200.2h0M542.7 200.0h0M542.1 200.8h0M542.4 201.4h0M543.3 201.6h0M543.6 202.0h0M544.0 202.1h0M543.9 202.8h0M543.7 202.3h0M544.0 203.5h0M544.7 202.9h0M544.9 204.0h0M545.7 203.9h0M546.4 203.8h0M547.0 202.8h0M547.2 202.5h0M547.4 202.5h0M548.2 203.3h0M548.2 202.7h0M548.9 202.9h0M549.1 202.7h0M549.9 201.7h0M550.3 201.6h0M551.0 201.9h0M551.1 202.1h0M552.0 201.5h0M551.9 200.9h0M552.3 201.6h0M553.2 201.4h0M552.8 201.7h0M553.8 201.5h0M553.8 201.3h0M554.1 201.4h0M555.6 201.5h0M556.1 201.8h0M556.3 201.9h0M556.4 202.4h0M556.3 202.0h0M557.5 202.3h0M557.9 202.3h0M557.8 202.9h0M558.8 202.7h0M559.5 202.5h0M559.3 203.3h0M560.0 202.8h0M559.8 203.7h0M560.9 203.2h0M560.7 203.3h0M562.0 204.1h0M562.6 204.6h0M562.9 204.1h0M563.2 204.8h0M563.2 204.2h0M563.8 203.8h0M564.0 204.7h0M564.6 203.6h0M565.4 203.4h0M565.1 204.2h0M566.4 203.6h0M566.8 204.1h0M567.6 204.2h0M567.4 203.2h0M567.5 203.8h0M568.7 203.1h0M569.2 203.7h0M569.1 203.1h0M569.3 203.4h0M570.7 204.0h0M571.0 204.2h0M571.5 204.3h0M571.9 205.1h0M571.9 205.0h0M572.3 204.6h0M573.3 205.1h0M573.2 205.1h0M573.8 205.7h0M574.2 206.1h0M574.5 206.0h0M575.3 206.7h0M574.6 207.1h0M575.6 206.2h0M575.7 206.8h0M576.9 205.7h0M576.8 206.1h0M577.7 205.5h0M577.5 204.9h0M577.9 204.9h0M578.2 205.3h0M578.9 204.6h0M578.7 204.1h0M579.7 204.6h0M579.5 203.6h0M580.0 203.7h0M580.7 203.9h0M581.1 203.7h0M581.2 202.8h0M581.8 202.3h0M582.3 202.8h0M582.8 201.7h0M583.0 201.6h0M584.0 202.0h0M583.6 202.0h0M584.5 200.7h0M585.2 201.4h0M585.9 200.6h0M585.2 200.6h0M586.1 199.8h0M586.7 200.1h0M586.8 199.7h0M586.8 199.7h0M587.6 199.9h0M587.8 199.1h0M588.4 198.7h0M589.5 198.1h0M589.8 198.0h0M589.6 198.5h0M590.5 198.3h0M590.8 198.1h0M591.3 196.9h0M591.5 196.5h0M592.3 197.1h0M592.3 196.4h0M592.7 196.6h0M592.6 196.5h0M593.0 195.9h0M594.2 195.3h0M594.7 194.9h0M594.6 195.6h0M595.0 194.4h0M595.6 195.0h0M596.1 194.1h0M596.3 193.8h0M597.1 194.3h0M597.5 194.2h0M597.6 194.2h0M598.3 194.4h0M599.0 194.4h0M600.0 194.6h0M600.3 193.9h0M599.8 194.5h0M600.5 193.9h0M600.7 193.2h0M601.1 192.6h0M600.9 192.6h0M600.6 191.9h0M601.1 190.7h0M601.5 191.2h0M601.5 190.7h0M601.9 189.8h0M601.9 189.8h0M602.0 189.0h0M601.9 188.3h0M602.5 188.8h0M602.5 188.7h0M603.2 188.5h0M603.7 188.1h0M603.8 187.9h0M604.0 187.2h0M604.6 187.5h0M604.6 187.3h0M605.2 187.1h0M605.5 187.6h0M606.5 188.2h0M607.2 188.3h0M607.0 188.6h0M607.9 188.9h0M607.6 189.1h0M608.9 189.4h0M608.6 189.0h0M609.5 189.2h0M610.0 189.7h0M609.8 188.9h0M610.9 188.9h0M611.4 188.9h0M611.6 188.7h0M612.5 188.2h0M612.2 188.9h0M613.3 188.3h0M613.8 189.0h0M613.4 187.9h0M614.2 187.8h0M615.3 188.0h0M615.5 188.4h0M615.6 188.6h0M615.6 187.6h0M617.2 188.3h0M617.0 188.6h0M617.9 188.6h0M617.5 188.1h0M618.4 188.1h0M618.8 188.1h0M619.0 188.1h0M620.2 187.2h0M619.9 187.8h0M620.2 187.8h0M620.7 186.7h0M621.4 186.9h0M622.6 186.6h0M622.5 185.9h0M622.7 186.2h0M623.5 186.1h0M623.6 186.2h0M625.0 186.0h0M625.3 185.9h0M624.9 186.6h0M625.5 186.4h0M626.8 186.4h0M626.9 186.9h0M627.0 187.0h0M627.9 187.7h0M627.5 187.9h0M627.9 188.3h0M629.2 188.7h0M629.3 189.0h0M629.5 188.5h0M629.2 188.7h0M630.2 189.5h0M630.4 189.6h0M631.5 189.6h0M631.0 190.5h0M631.7 190.4h0M631.9 190.2h0M632.8 191.1h0M633.4 191.0h0M633.7 191.9h0M634.0 192.0h0M634.2 191.9h0M633.4 192.5h0M634.7 193.2h0M633.8 193.0h0M634.6 194.4h0M634.9 194.8h0M635.3 195.1h0M635.4 195.5h0M635.8 195.6h0M635.7 195.9h0M636.6 196.5h0M636.4 196.6h0M636.2 196.7h0M637.3 197.2h0M637.9 197.7h0M637.3 198.0h0M638.5 197.4h0M638.5 198.2h0M639.2 198.4h0M639.1 198.1h0M639.6 199.0h0M640.2 199.3h0M640.8 199.8h0M641.1 199.1h0M641.1 199.8h0M642.0 200.2h0M642.2 200.2h0M642.4 200.2h0M643.7 200.6h0M643.8 200.7h0M643.6 200.3h0M644.6 201.1h0M644.3 201.4h0M645.5 201.0h0M645.3 201.3h0M646.6 201.9h0M646.4 201.0h0M647.6 202.0h0M647.0 201.8h0M647.7 201.9h0M648.0 201.9h0M648.4 203.1h0M648.7 203.0h0M648.8 202.6h0M649.1 202.8h0M650.3 204.1h0M650.4 203.7h0M650.4 204.3h0M650.9 204.5h0M651.5 204.8h0M652.1 205.3h0M652.8 205.6h0M652.8 205.7h0M652.4 206.3h0M652.8 206.6h0M653.6 206.6h0M653.6 207.2h0M653.9 207.0h0M654.7 207.5h0M655.2 207.5h0M655.8 207.8h0M656.2 207.5h0M656.4 207.9h0M656.3 208.8h0M657.4 208.5h0M657.7 208.5h0M657.8 208.9h0M658.2 208.8h0M658.8 208.9h0M659.4 209.8h0M659.5 210.0h0M659.8 209.7h0M660.6 210.4h0M661.2 210.8h0M660.9 211.2h0M661.9 210.7h0M662.2 211.5h0M662.3 211.3h0M662.5 211.4h0M662.9 211.5h0M663.4 212.2h0M663.5 212.8h0M663.9 212.4h0M664.2 212.2h0M665.3 212.6h0M665.3 213.2h0M665.5 213.0h0M666.8 213.9h0M666.4 213.2h0M667.3 214.0h0M667.7 214.6h0M667.5 214.4h0M668.0 214.6h0M668.8 215.0h0M668.8 215.6h0M669.6 214.6h0M670.3 215.1h0M670.3 215.4h0M670.5 215.7h0M671.5 216.8h0M672.0 216.7h0M672.3 217.4h0M671.8 216.9h0M672.5 218.0h0M672.8 218.3h0M672.9 219.0h0M672.8 218.5h0M673.7 219.0h0M673.5 219.3h0M674.5 220.3h0M674.3 219.7h0M675.3 220.9h0M674.9 220.2h0M676.0 221.2h0M676.0 221.9h0M676.5 222.1h0M676.6 222.7h0M676.5 222.9h0M676.1 222.6h0M677.5 223.0h0M677.1 224.1h0M677.6 224.9h0M677.8 225.1h0M677.7 225.4h0M678.0 225.5h0M679.5 225.3h0M679.1 226.2h0M679.4 226.3h0M680.1 226.8h0M680.5 226.5h0M680.4 226.4h0M681.7 227.0h0M681.0 227.2h0M681.5 227.4h0M682.2 227.3h0M682.6 227.9h0M682.7 228.8h0M683.8 228.4h0M683.9 228.8h0M684.3 229.8h0M684.7 229.8h0M684.5 229.5h0M685.5 229.6h0M685.7 230.2h0M686.0 231.0h0M686.3 231.4h0M686.5 230.8h0M686.6 231.4h0M687.6 232.0h0M687.3 232.2h0M687.5 232.6h0M688.0 232.1h0M689.1 232.8h0M688.6 233.6h0M688.9 234.1h0M689.5 233.7h0M690.3 234.3h0M689.7 234.0h0M690.8 234.6h0M690.8 235.4h0M691.5 235.3h0M691.9 236.4h0M692.0 236.5h0M692.3 236.2h0M692.5 236.5h0M693.0 237.5h0M693.0 237.4h0M694.1 237.7h0M694.1 237.5h0M694.4 238.3h0M694.7 239.1h0M695.2 238.9h0M695.5 239.3h0M695.7 239.9h0M696.2 239.4h0M696.5 239.9h0M696.4 240.4h0M697.1 241.4h0M696.9 241.4h0M697.5 241.0h0M697.9 241.7h0M697.7 242.2h0M698.0 242.8h0M698.4 242.4h0M698.9 243.7h0M699.2 244.1h0M699.7 244.1h0M699.5 244.1h0M699.7 244.4h0M699.8 245.6h0M701.0 245.1h0M701.1 245.9h0M700.9 246.5h0M701.7 247.0h0M701.5 247.1h0M701.4 246.8h0M702.0 248.2h0M701.9 247.6h0M702.3 248.0h0M702.5 249.0h0M703.0 249.5h0M703.2 249.8h0M704.2 249.2h0M703.9 250.7h0M704.4 250.2h0M705.1 251.0h0M704.9 251.5h0M705.2 251.7h0M705.2 252.4h0M705.7 252.3h0M705.7 252.4h0M705.6 253.1h0M705.8 253.7h0M706.9 254.4h0M706.7 253.8h0M707.2 254.9h0M707.7 254.8h0M707.3 255.7h0M707.3 255.5h0M707.4 256.9h0M708.2 256.5h0M708.5 256.6h0M709.0 257.6h0M708.7 258.4h0M709.3 258.0h0M709.4 258.7h0M709.8 258.9h0M710.0 259.4h0M710.4 260.0h0M709.9 260.4h0M709.9 261.3h0M710.6 261.3h0M710.7 261.3h0M711.6 262.1h0M710.8 262.1h0M711.3 262.6h0M712.2 263.5h0M711.6 263.3h0M712.3 263.5h0M712.6 264.6h0M713.1 264.7h0M712.4 265.2h0M712.6 266.1h0M713.8 266.2h0M713.9 266.4h0M714.2 266.4h0M714.2 267.1h0M714.3 267.9h0M714.7 267.6h0M714.5 268.8h0M714.3 268.8h0M714.9 269.2h0M715.2 269.4h0M715.0 270.7h0M715.0 271.0h0M715.5 270.4h0M716.3 271.4h0M715.7 272.2h0M716.1 271.8h0M717.1 272.9h0M716.7 272.8h0M716.8 273.7h0M717.4 274.0h0M717.3 274.7h0M718.1 275.1h0M717.9 274.8h0M718.0 275.7h0M718.0 276.0h0M718.4 275.8h0M718.7 276.6h0M718.4 277.5h0M719.1 277.0h0M719.2 277.4h0M719.1 278.6h0M719.3 279.0h0M720.1 278.9h0M720.0 279.1h0M720.4 279.7h0M720.5 280.2h0M720.0 280.5h0M720.8 281.1h0M721.0 281.1h0M721.4 282.0h0M721.9 282.7h0M721.9 282.3h0M722.2 282.9h0M722.4 283.8h0M722.5 283.5h0M722.6 284.5h0M722.9 284.5h0M722.5 284.7h0M722.7 285.3h0M723.7 286.1h0M722.9 286.5h0M723.8 286.6h0M724.1 287.0h0M723.5 287.7h0M724.5 287.5h0M725.0 288.1h0M724.3 289.0h0M724.8 289.5h0M725.3 289.6h0M725.3 290.0h0M725.9 290.9h0M725.2 290.4h0M725.9 290.9h0M726.1 291.2h0M726.3 291.7h0M726.6 292.8h0M726.8 292.8h0M727.4 293.7h0M727.1 294.4h0M727.5 294.3h0M726.9 294.3h0M727.5 295.3h0M727.2 295.9h0M727.6 296.0h0M728.0 296.5h0M727.6 297.2h0M728.5 297.6h0M728.7 297.5h0M728.5 297.6h0M729.1 298.4h0M728.9 298.8h0M729.4 299.8h0M729.4 300.1h0M729.3 300.3h0M729.1 301.0h0M729.1 301.5h0M729.9 301.1h0M730.0 302.2h0M729.7 302.6h0M730.0 303.3h0M730.7 303.3h0M730.8 303.9h0M730.6 304.4h0M730.4 304.8h0M731.3 305.1h0M730.9 305.8h0M730.7 306.4h0M731.3 305.7h0M731.5 306.1h0M731.0 307.0h0M731.6 308.1h0M731.8 307.6h0M732.2 308.0h0M732.2 308.9h0M732.0 309.6h0M732.1 309.6h0M732.7 310.2h0M733.1 310.5h0M732.4 310.5h0M732.8 311.4h0M733.5 311.3h0M733.3 312.6h0M733.7 312.2h0M733.5 313.6h0M733.6 313.7h0M733.3 314.4h0M733.9 314.0h0M733.9 314.3h0M734.6 315.0h0M734.0 316.1h0M734.4 316.0h0M734.7 316.9h0M734.8 317.5h0M735.4 316.8h0M735.4 317.7h0M734.8 318.1h0M734.8 319.0h0M736.0 319.0h0M735.6 320.1h0M735.6 319.5h0M736.0 320.3h0M735.9 320.4h0M735.9 321.6h0M736.2 321.9h0M736.7 322.4h0M736.6 322.7h0M736.4 323.3h0M737.2 323.2h0M736.8 324.0h0M737.2 324.8h0M737.5 325.3h0M737.8 325.3h0M738.1 326.2h0M738.1 325.8h0M737.5 326.3h0M738.1 326.5h0M738.3 327.0h0M737.8 327.4h0M738.0 328.6h0M738.1 328.2h0M738.8 329.4h0M738.6 329.3h0M739.3 330.1h0M739.3 330.9h0M739.0 331.3h0M739.2 330.9h0M738.8 332.0h0M739.1 332.3h0M739.7 332.8h0M739.6 333.0h0M740.2 333.5h0M740.3 334.5h0M740.7 334.6h0M740.8 334.8h0M740.3 335.5h0M740.4 335.4h0M741.1 336.4h0M741.1 337.1h0M740.6 337.3h0M741.5 337.0h0M741.9 337.4h0M741.9 338.8h0M741.5 338.2h0M741.7 339.6h0M741.7 339.2h0M742.0 340.2h0M741.6 340.3h0M742.5 340.7h0M742.1 341.8h0M742.2 342.1h0M742.5 342.8h0M742.9 343.0h0M742.7 343.6h0M742.8 343.9h0M742.7 344.2h0M742.8 345.1h0M742.3 344.9h0M742.9 345.2h0M742.6 345.5h0M742.9 346.7h0M743.5 346.2h0M743.5 347.7h0M743.1 347.6h0M743.8 348.0h0M744.0 349.1h0M743.6 349.2h0M744.2 349.9h0M743.6 350.0h0M743.7 350.4h0M744.4 350.6h0M743.4 351.5h0M743.8 351.3h0M744.2 351.7h0M744.6 352.0h0M743.8 352.6h0M744.0 353.6h0M744.7 353.6h0M744.4 354.6h0M744.0 354.4h0M744.4 354.9h0M743.8 356.2h0M744.3 356.2h0M743.7 357.0h0M744.7 356.6h0M744.9 357.9h0M744.9 357.4h0M744.2 358.5h0M744.7 358.4h0M744.9 359.1h0M745.0 359.6h0M744.4 360.1h0M744.9 360.2h0M744.2 360.6h0M744.2 362.0h0M745.0 361.9h0M745.0 362.1h0M744.8 363.0h0M744.5 363.4h0M744.0 364.3h0M744.1 364.2h0M744.0 364.6h0M744.3 365.4h0M744.3 365.4h0M744.3 366.2h0M744.5 366.8h0M744.2 366.8h0M744.4 367.3h0M744.6 368.0h0M590.2 208.4h0"/>
</g>
<path d="M77 395.5h22M77 381.5h11M77 368.5h11M77 354.5h11M77 341.5h22M77 327.5h11M77 314.5h11M77 301.5h11M77 287.5h22M77 274.5h11M77 260.5h11M77 247.5h11M77 233.5h22M77 220.5h11M77 207.5h11M77 193.5h11M77 180.5h22M77 166.5h11M77 153.5h11M77 139.5h11M77 126.5h22M77 113.5h11M77 99.5h11M77 86.5h11M77 72.5h22M77 59.5h11M77 45.5h11M77 32.5h11M77 19.5h22M102.5 395v-6M128.5 395v-12M154.5 395v-6M179.5 395v-6M205.5 395v-6M231.5 395v-12M256.5 395v-6M282.5 395v-6M308.5 395v-6M333.5 395v-12M359.5 395v-6M385.5 395v-6M410.5 395v-6M436.5 395v-12M462.5 395v-6M487.5 395v-6M513.5 395v-6M539.5 395v-12M564.5 395v-6M590.5 395v-6M616.5 395v-6M641.5 395v-12M667.5 395v-6M693.5 395v-6M718.5 395v-6M744.5 395v-12M770.5 395v-6" stroke="#000" stroke-width="1" fill="none"/>
<path d="M77 19.5H796" stroke="#2a2a2a" stroke-width="1.5" fill="none"/>
<path d="M796 19V396" stroke="#555" stroke-width="2" fill="none"/>
<path d="M77 19V396" stroke="#5a5a5a" stroke-width="2" fill="none"/>
<path d="M76 395H797" stroke="#3a3a3a" stroke-width="2" fill="none"/>
<g font-family="Liberation Sans, Arial, sans-serif" font-weight="bold" font-size="16" fill="#000"><text x="72.4" y="401.2" text-anchor="end">0</text><text x="72.4" y="347.5" text-anchor="end">0.2</text><text x="72.4" y="293.8" text-anchor="end">0.4</text><text x="72.4" y="240.1" text-anchor="end">0.6</text><text x="72.4" y="186.3" text-anchor="end">0.8</text><text x="72.4" y="132.6" text-anchor="end">1</text><text x="72.4" y="78.9" text-anchor="end">1.2</text><text x="72.4" y="25.2" text-anchor="end">1.4</text><text x="127.8" y="411.6" text-anchor="middle" textLength="42" lengthAdjust="spacingAndGlyphs">06:00</text><text x="230.6" y="411.6" text-anchor="middle" textLength="42" lengthAdjust="spacingAndGlyphs">08:00</text><text x="333.5" y="411.6" text-anchor="middle" textLength="42" lengthAdjust="spacingAndGlyphs">10:00</text><text x="436.3" y="411.6" text-anchor="middle" textLength="42" lengthAdjust="spacingAndGlyphs">12:00</text><text x="539.1" y="411.6" text-anchor="middle" textLength="42" lengthAdjust="spacingAndGlyphs">14:00</text><text x="642.0" y="411.6" text-anchor="middle" textLength="42" lengthAdjust="spacingAndGlyphs">16:00</text><text x="744.8" y="411.6" text-anchor="middle" textLength="42" lengthAdjust="spacingAndGlyphs">18:00</text><text x="399.5" y="427.3" textLength="83.3" lengthAdjust="spacingAndGlyphs">Time (JST)</text><text x="796.6" y="427.8" text-anchor="end" textLength="83.4" lengthAdjust="spacingAndGlyphs">2010-04-29</text><text transform="translate(15.3 131.8) rotate(-90)" textLength="113.5" lengthAdjust="spacingAndGlyphs">Intensity (a.u.)</text></g>
<path d="M177.0 11.8h15" stroke="#0000ff" stroke-width="2.2"/>
<text x="199.0" y="14.8" font-family="Liberation Sans, Arial, sans-serif" font-weight="bold" font-size="16" fill="#0000ff">368nm</text>
<path d="M321.0 11.8h15" stroke="#00ff00" stroke-width="2.2"/>
<text x="343.0" y="14.8" font-family="Liberation Sans, Arial, sans-serif" font-weight="bold" font-size="16" fill="#00ff00">500nm</text>
<path d="M465.0 11.8h15" stroke="#ff00ff" stroke-width="2.2"/>
<text x="486.0" y="14.8" font-family="Liberation Sans, Arial, sans-serif" font-weight="bold" font-size="16" fill="#ff00ff">675nm</text>
<path d="M609.0 11.8h15" stroke="#ff0000" stroke-width="2.2"/>
<text x="630.5" y="14.8" font-family="Liberation Sans, Arial, sans-serif" font-weight="bold" font-size="16" fill="#ff0000">778nm</text>
</svg>
</body></html>
